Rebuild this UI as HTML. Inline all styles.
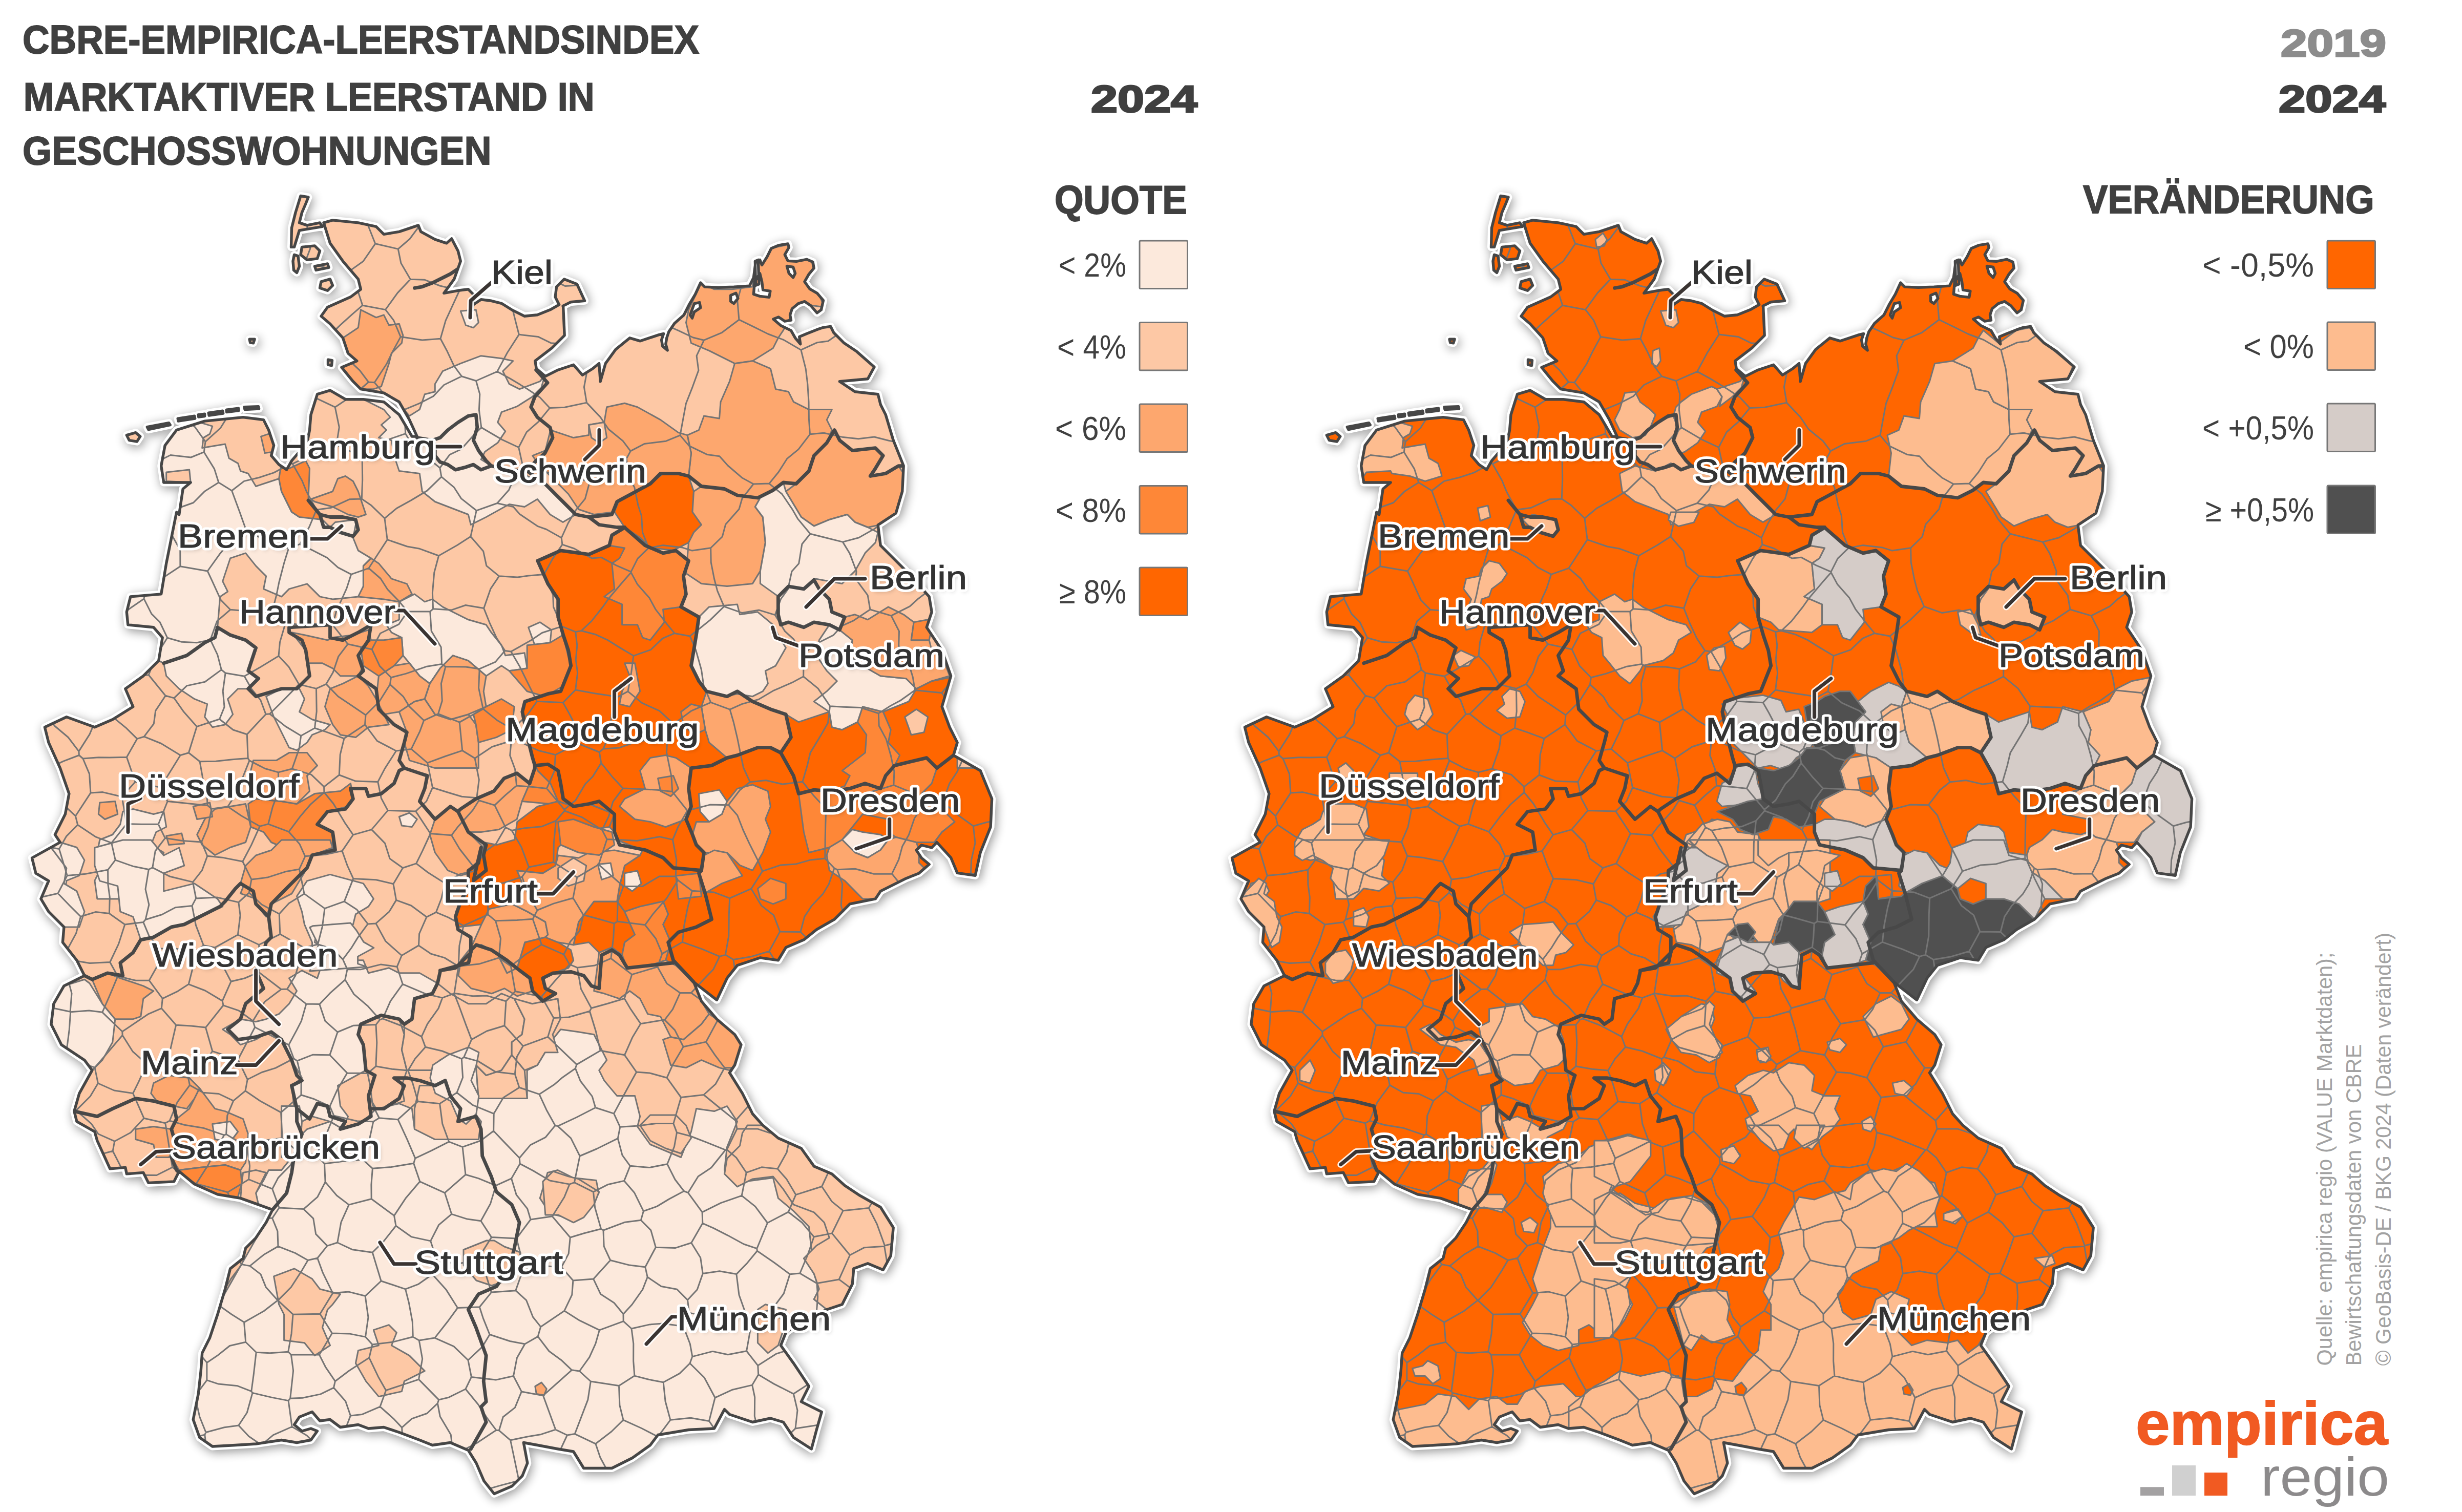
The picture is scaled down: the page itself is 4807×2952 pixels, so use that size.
<!DOCTYPE html>
<html><head><meta charset="utf-8"><style>
html,body{margin:0;padding:0;background:#fff}
body{width:4807px;height:2952px;overflow:hidden;font-family:"Liberation Sans",sans-serif}
svg{display:block}
</style></head><body>
<svg width="4807" height="2952" viewBox="0 0 4807 2952">
<defs>
<path id="de" fill-rule="evenodd" clip-rule="evenodd" d="M632,434.9 L649.5,429.9 L699.4,434.9 L734.4,442.4 L749.4,457.4 L779.4,452.4 L816.8,439.9 L821.8,452.4 L849.3,467.4 L871.8,474.9 L881.8,465.9 L894.3,489.9 L899.3,509.9 L886.8,544.9 L866.8,572.3 L894.3,567.3 L914.3,564.8 L929.3,579.8 L919.3,594.8 L916.8,617.3 L924.3,594.8 L939.2,584.8 L959.2,587.3 L979.2,592.3 L999.2,604.8 L1024.2,617.3 L1049.2,614.8 L1074.1,604.8 L1091.6,594.8 L1084.1,579.8 L1086.6,559.8 L1101.6,544.9 L1126.6,554.8 L1141.6,587.3 L1114.1,589.8 L1099.1,597.3 L1099.7,599.8 L1102.2,654.8 L1077.3,679.7 L1044.8,704.7 L1047.3,719.7 L1064.8,734.7 L1089.7,722.2 L1119.7,712.2 L1137.2,732.2 L1157.2,719.7 L1169.7,709.7 L1172.2,744.7 L1182.2,709.7 L1202.2,682.2 L1229.6,659.8 L1250,665.8 L1286.6,653.6 L1295.7,651.5 L1291.6,663.7 L1293.7,675.9 L1303.2,684 L1299.8,671.8 L1301.8,659.7 L1305.9,647.5 L1317,631.2 L1335.3,615 L1345.5,594.7 L1357.6,574.4 L1367.8,552 L1375.9,560.1 L1402.3,561.2 L1432.8,560.1 L1463.3,558.1 L1471.4,541.9 L1475.4,511.4 L1483.6,507.3 L1487.6,517.5 L1497.8,501.2 L1505.9,485 L1520.1,478.9 L1538.4,475.9 L1540.4,483 L1532.3,497.2 L1538.4,509.4 L1554.7,510.4 L1575,506.3 L1587.1,511.4 L1589.2,523.6 L1579,535.8 L1570.9,550 L1581.1,564.2 L1595.3,572.3 L1607.5,586.5 L1603.4,604.8 L1595.3,610.9 L1583.1,596.7 L1570.9,588.6 L1558.7,592.6 L1546.5,602.8 L1542.5,615 L1544.5,625.1 L1532.3,627.2 L1520.1,619 L1510,623.1 L1524.2,635.3 L1544.5,645.4 L1552.6,659.7 L1562.8,671.8 L1560.7,657.6 L1575,651.5 L1595.3,643.4 L1607.5,639.3 L1621.7,637.3 L1627.8,649.5 L1648.1,669.8 L1672.4,686.1 L1707,716.5 L1694.3,739.7 L1639.3,744.7 L1669.3,764.7 L1714.2,769.7 L1719.2,789.7 L1729.2,809.6 L1744.2,859.6 L1764.2,909.6 L1761.7,959.5 L1749.2,1002 L1714.2,1025 L1719.2,1064.9 L1744.2,1089.9 L1769.2,1114.9 L1814.2,1164.9 L1819.2,1194.8 L1809.2,1224.8 L1839.1,1269.8 L1856.6,1319.7 L1839.1,1379.7 L1854.1,1419.7 L1869.1,1449.6 L1861.6,1474.6 L1914.1,1504.6 L1936.6,1559.6 L1934.1,1614.5 L1914.1,1664.5 L1904.1,1709.4 L1869.1,1704.4 L1856.6,1674.5 L1829.2,1644.5 L1819.2,1655 L1799.2,1650 L1789.2,1660 L1799.2,1675 L1814.2,1687.5 L1794.2,1704.9 L1769.2,1714.9 L1719.2,1739.9 L1709.2,1754.9 L1659.3,1764.9 L1629.3,1794.9 L1594.3,1814.9 L1569.4,1834.8 L1534.4,1849.8 L1519.4,1874.8 L1484.4,1869.8 L1439.5,1884.8 L1419.5,1909.8 L1399.5,1952.3 L1377,1934.8 L1354.5,1917.3 L1369.5,1954.7 L1399.5,1989.7 L1434.5,2019.7 L1447,2039.7 L1434.5,2079.6 L1424.5,2094.6 L1449.5,2134.6 L1469.4,2174.6 L1489.4,2197 L1519.4,2222 L1564.4,2242 L1589.3,2276.9 L1624.3,2291.9 L1649.3,2314.4 L1679.3,2334.4 L1719.2,2356.9 L1744.2,2396.8 L1739.2,2451.8 L1724.2,2479.3 L1694.3,2466.8 L1666.8,2476.8 L1664.3,2506.8 L1644.3,2546.7 L1614.3,2556.7 L1569.4,2576.7 L1534.4,2601.7 L1524.4,2626.7 L1549.4,2661.6 L1579.4,2706.6 L1564.4,2736.6 L1579.4,2744.1 L1604.3,2756.6 L1594.3,2791.5 L1584.3,2829 L1549.4,2806.5 L1529.4,2776.5 L1504.4,2769 L1469.4,2776.5 L1424.5,2761.5 L1414.5,2751.6 L1394.5,2789 L1344.5,2791.5 L1284.6,2801.5 L1269.6,2821.5 L1234.6,2846.5 L1194.7,2866.5 L1139.7,2866.5 L1119.7,2834 L1089.7,2829 L1049.8,2821.5 L1022.3,2816.5 L1029.8,2856.5 L1019.8,2881.5 L999.8,2901.4 L964.8,2916.4 L944.9,2891.4 L929.9,2856.5 L914.3,2831.5 L879.3,2816.5 L844.3,2821.5 L819.3,2811.5 L779.4,2796.5 L749.4,2786.5 L719.4,2789 L699.4,2781.5 L664.5,2786.5 L644.5,2771.5 L624.5,2774 L609.5,2756.6 L584.5,2766.5 L574.5,2781.5 L589.5,2794 L607,2789 L619.5,2794 L607,2811.5 L579.5,2816.5 L549.6,2811.5 L499.6,2819 L459.6,2821.5 L414.7,2824 L389.7,2806.5 L377.2,2771.5 L387.2,2721.6 L392.2,2676.6 L394.7,2641.6 L409.7,2611.7 L424.7,2566.7 L439.6,2516.7 L449.6,2476.8 L474.6,2456.8 L479.6,2436.8 L499.6,2416.8 L519.6,2386.8 L532.1,2361.9 L504.6,2351.9 L469.6,2339.4 L424.7,2331.9 L379.7,2311.9 L349.7,2286.9 L339.7,2306.9 L289.8,2309.4 L279.8,2289.4 L247.3,2291.9 L244.8,2279.4 L214.8,2281.9 L189.8,2227 L184.9,2209.5 L149.9,2189.6 L144.9,2169.6 L154.9,2134.6 L179.9,2089.6 L164.9,2069.7 L119.9,2039.7 L99.9,1999.7 L104.9,1959.7 L124.9,1924.8 L164.9,1904.8 L149.9,1874.8 L122.4,1839.8 L124.9,1809.9 L94.9,1779.9 L79.9,1754.9 L94.9,1719.9 L69.9,1704.9 L62.5,1675 L117.4,1644.5 L107.4,1629.5 L127.4,1589.5 L134.9,1549.6 L117.4,1499.6 L94.9,1449.6 L87.4,1419.7 L129.9,1399.7 L184.9,1419.7 L219.8,1404.7 L259.8,1379.7 L244.8,1344.7 L279.8,1319.7 L309.8,1289.8 L317.2,1244.8 L299.8,1224.8 L249.8,1219.8 L247.3,1194.8 L254.8,1164.9 L314.7,1159.9 L324.7,1099.9 L344.7,1000 L349.7,1004.5 L357.2,954.5 L372.2,942 L319.7,942 L314.7,909.6 L322.2,869.6 L344.7,839.6 L399.7,822.1 L474.6,814.6 L514.6,819.6 L524.6,839.6 L534.6,869.6 L529.6,889.6 L544.6,907.1 L559.6,917.1 L569.5,899.6 L599.5,864.6 L604.5,839.6 L607,809.6 L619.5,769.7 L644.5,762.2 L674.5,779.7 L709.4,779.7 L749.4,784.7 L779.4,809.6 L804.4,852.1 L814.3,852.1 L799.4,819.6 L779.4,784.7 L749.4,767.2 L704.4,759.7 L689.4,744.7 L667,717.2 L696.9,704.7 L679.5,689.7 L669.5,659.8 L644.5,632.3 L627,617.3 L639.5,599.8 L684.5,579.8 L704.4,564.8 L699.4,544.9 L669.5,509.9 L644.5,474.9Z M587,382.5 L602,385 L597,397.5 L589.5,415 L584.5,434.9 L599.5,439.9 L624.5,434.9 L629.5,442.4 L599.5,447.4 L584.5,449.9 L574.5,482.4 L568.5,482.4 L569.5,444.9 L577,415Z M589.5,482.4 L614.5,479.9 L624.5,489.9 L619.5,504.9 L599.5,507.4 L587,497.4Z M574.5,497.4 L582,499.9 L584.5,519.9 L579.5,532.4 L573.5,527.4 L572,509.9Z M627,549.8 L644.5,544.9 L649.5,557.3 L639.5,567.3 L624.5,562.3Z M614.5,519.9 L639.5,514.9 L642,522.4 L617,527.4Z M487.1,662.3 L497.1,662.3 L494.6,669.8 L488.6,668.8Z M640.5,702.2 L648.5,703.7 L647.5,713.7 L640.5,712.2Z M247.3,849.6 L264.8,844.6 L273.8,852.1 L267.3,862.1 L252.3,859.6Z M287.3,833.6 L329.7,825.6 L332.2,829.6 L289.8,838.6Z M347.2,817.1 L379.7,812.1 L380.7,817.1 L348.2,822.1Z M387.2,809.6 L399.7,808.1 L399.7,812.6 L387.7,814.1Z M407.2,806.1 L434.7,802.1 L435.7,807.1 L408.2,811.1Z M442.1,800.1 L465.6,797.2 L466.1,801.6 L442.6,804.6Z M477.1,794.7 L504.6,793.7 L505.6,798.1 L478.1,799.6Z M1474.4,509.9 L1480.4,507.4 L1481.9,554.8 L1475.4,557.3Z M1347.5,615 L1355.6,592.6 L1365.8,590.6 L1367.8,600.8 L1355.6,608.9 L1351.5,621.1Z M1426.7,576.4 L1436.9,572.3 L1440.9,582.5 L1432.8,592.6 L1426.7,588.6Z M1473.4,550 L1483.6,533.7 L1487.6,550 L1489.7,566.2 L1503.9,568.3 L1501.8,580.4 L1483.6,578.4 L1471.4,574.4Z M1536.4,519.5 L1548.6,521.5 L1552.6,533.7 L1548.6,541.9 L1540.4,533.7Z"/>
<path id="vor" d="M604.6,417.4 L641.2,402.5 L668.3,390.9 M604.6,417.4 L599.4,446.7 L605.8,485.1 L596.7,509.2 M1478.4,2125.2 L1463,2157.2 L1436.2,2187.8 M1439,2204 L1436.2,2187.8 M1439,2204 L1478.8,2203.9 L1502.7,2211.8 L1543.4,2214.1 M1549.7,2194.9 L1544.3,2213.4 M1543.4,2214.1 L1544.3,2213.4 M1636.3,2262.1 L1628.1,2265.7 M1544.3,2213.4 L1578.6,2227.2 L1596.8,2246.5 L1628.1,2265.7 M982.4,405.3 L947.3,411 L924.2,429.9 L892.7,439 M892.7,439 L853.1,414.7 M294.7,744.1 L315.6,772.5 L334.6,785.4 L358.6,814.9 L381,834.1 L401,862.4 M401,862.4 L430.6,835.5 L440.9,818.9 L471.4,796.4 L494.3,772.6 M571.1,905.6 L568.8,904.7 M571.1,905.6 L606,888.7 L630,882 L656.9,868.5 M568.8,904.7 L554,877.9 L548.4,845.2 L533,809.6 L525.4,776.8 M656.9,868.5 L662.3,834.1 L654.2,794.9 M654.2,794.9 L620.4,778.8 L579.4,779.1 L548.9,764.5 M706.3,973.9 L682.7,974.7 L645.7,991.6 L617.8,995.2 M706.3,973.9 L707.7,936.9 L707.2,899 M707.2,899 L685,881.5 L656.9,868.5 M617.8,995.2 L598.7,960.2 L589.7,938.3 L571.1,905.6 M719.6,746 L693.2,768.7 L654.2,794.9 M719.6,746 L702.4,723.1 L686.5,708.1 L655.8,677.2 L640.5,658.1 M640.5,658.1 L605.1,655.6 M1162.6,2162.5 L1198.6,2174.1 M1162.6,2162.5 L1125.6,2181.5 L1089,2198.7 M1089,2198.7 L1114.6,2222.2 L1132.1,2257 M1132.1,2257 L1165,2243 L1206.3,2222.7 M1198.6,2174.1 L1210.7,2200.3 M1206.3,2222.7 L1210.7,2200.3 M1321.5,2211.1 L1314.9,2193.6 M1321.5,2211.1 L1316.5,2238.7 L1302.8,2272.8 M1230.3,2276.3 L1267.4,2279.6 L1302.8,2272.8 M1230.3,2276.3 L1215,2255.3 L1206.3,2222.7 M1314.9,2193.6 L1280.6,2193.4 L1246.7,2198.1 L1210.7,2200.3 M1084,2197.4 L1067,2166.9 L1052.9,2136.4 M1084,2197.4 L1089,2198.7 M1162.6,2162.5 L1156.3,2140.7 L1133.2,2110.5 L1123.4,2085.9 M1052.9,2136.4 L1081.7,2117.8 L1097.3,2104.3 L1123.4,2085.9 M666.3,2810.8 L686.4,2827.7 L720,2834.2 L742.3,2855.4 M666.3,2810.8 L684.4,2763.9 M786.3,2819.8 L757.7,2841.5 L742.3,2855.4 M786.3,2819.8 L784.7,2787.1 M684.4,2763.9 L706.6,2761.6 L742.1,2746.3 M784.7,2787.1 L768.4,2769.8 L742.1,2746.3 M403.7,2833 L393.4,2858.4 L375,2876.7 L358,2905.4 M403.7,2833 L440,2859 L468.8,2881.1 M114,2264.4 L119,2233.9 L134.4,2202 L136.3,2170 M99.4,2153.2 L136.3,2170 M380.7,2725.9 L389.8,2766.2 L402,2796.5 M380.7,2725.9 L330.5,2721.1 M402,2796.5 L399.8,2801.2 M399.8,2801.2 L357.7,2810.4 L328,2810 L294.1,2815 M1595,2505.6 L1638.2,2497.9 M1595,2505.6 L1561.8,2486 M1561.8,2486 L1577,2450 L1589.2,2414.7 M1638.2,2497.9 L1659.4,2450.5 M1659.4,2450.5 L1624.4,2407.9 M1624.4,2407.9 L1589.2,2414.7 M1321.5,2211.1 L1347.7,2218 L1379.1,2230.2 L1416.4,2245.2 M1302.8,2272.8 L1318.1,2303 L1335.4,2325.5 M1335.4,2325.5 L1343.4,2328.7 M1343.4,2328.7 L1363.2,2296.8 L1388.7,2279.8 L1416.4,2245.2 M1494.4,2805 L1534.5,2807.3 M1494.4,2805 L1479.8,2791.5 M1553,2788.9 L1557,2753.6 L1549.4,2721.3 M1553,2788.9 L1534.5,2807.3 M1480.7,2683.8 L1511.1,2701.9 L1549.4,2721.3 M1480.7,2683.8 L1468.7,2704.1 M1468.7,2704.1 L1473.7,2727.9 L1473.3,2764.9 L1479.8,2791.5 M1616.2,2688 L1626.9,2712.4 L1629,2755.2 L1635.5,2780.5 M1553,2788.9 L1595,2782.5 L1635.5,2780.5 M1549.4,2721.3 L1575.1,2704.5 L1609.4,2682.4 M585.5,1062.4 L604.2,1028 L617.8,995.2 M585.5,1062.4 L563.5,1070.5 M452.6,958 L468.1,1000.1 L479.5,1032.1 M452.6,958 L476.6,939.4 L506.2,932.2 L534.7,922.9 L568.8,904.7 M563.5,1070.5 L539.3,1062.9 L511.1,1051.8 L479.5,1032.1 M706.3,973.9 L725,986.8 L751,1012 M585.5,1062.4 L609.8,1074.2 L638.6,1088.8 L659.8,1107.9 L685.7,1121.3 M685.7,1121.3 L720,1109.3 M720,1109.3 L739.8,1078.8 L756.2,1053.6 M751,1012 L756.2,1053.6 M731.2,746.8 L755.2,775.6 L789.2,799.9 M731.2,746.8 L754.7,710.8 L766.7,686.1 L782.2,657.6 M860,661.2 L824.4,663.9 L782.2,657.6 M860,661.2 L872.3,684.2 L886.5,714.4 L901.4,734.7 M901.4,734.7 L866.9,751.5 L846,773.6 L818.8,787.6 L789.2,799.9 M731.2,746.8 L719.6,746 M707.2,899 L731.5,882 L760.5,857.3 L791.7,846.7 M791.7,846.7 L789.2,799.9 M707.9,596.2 L699.3,570 L680.1,530.9 M707.9,596.2 L752.6,604.6 M752.6,604.6 L776.2,571.9 L801.3,545.2 M680.1,530.9 L709,510.3 L732.7,475.8 M801.3,545.2 L782.9,513.8 L777.3,486.1 M732.7,475.8 L777.3,486.1 M601.3,514.7 L636.8,522.8 L680.1,530.9 M640.5,658.1 L663.8,635.1 L687.4,613.8 L707.9,596.2 M782.2,657.6 L768.7,625.5 L752.6,604.6 M860,661.2 L870.1,625.9 L884,595.7 L897.2,567 M897.2,567 L859,558 L828.8,546.2 L801.3,545.2 M695.6,401.5 L716.7,435.3 L732.7,475.8 M917.4,555.1 L905.8,527.6 L906.3,495.3 L898.6,473.4 L892.7,439 M917.4,555.1 L897.2,567 M853.1,414.7 L822,436.9 L800,466.5 L777.3,486.1 M77.2,1857.9 L66.6,1826.7 L69.7,1783.3 L62.3,1755.7 M62.3,1755.7 L38.3,1745.7 M129.7,2053.8 L84.2,2083 M129.7,2053.8 L135.2,2010.7 L137.7,1975.7 M66.4,1967.6 L102.8,1968 L137.1,1975.2 M137.7,1975.7 L137.1,1975.2 M733.9,1802.9 L760,1779.8 L773.6,1757.4 M733.9,1802.9 L752.9,1837.7 L784.3,1865.5 M773.6,1757.4 L802.8,1768 L832.9,1790.3 M832.9,1790.3 L818.6,1823 L817.5,1845.9 M784.3,1865.5 L817.5,1845.9 M1121.4,2308.6 L1158.5,2327.2 M1121.4,2308.6 L1132.1,2257 M1230.3,2276.3 L1218.7,2305.4 M1158.5,2327.2 L1186.4,2312.8 L1218.7,2305.4 M1335.4,2325.5 L1305.8,2341.4 L1282.6,2355.4 L1256.4,2364.6 M1218.7,2305.4 L1238.5,2328.4 L1256.4,2364.6 M1414.7,2084.7 L1395.8,2059.6 L1378.5,2034.1 M1414.7,2084.7 L1397,2116.7 L1374,2137.5 M1374,2137.5 L1329.7,2142.5 M1334.2,2043.7 L1378.5,2034.1 M1334.2,2043.7 L1313.3,2079.2 L1302.1,2104.2 M1302.1,2104.2 L1329.7,2142.5 M1478.4,2125.2 L1462.9,2084.4 M1436.2,2187.8 L1401.5,2160 L1374,2137.5 M1462.9,2084.4 L1414.7,2084.7 M1439,2204 L1419.2,2244.5 M1314.9,2193.6 L1329.7,2142.5 M1416.4,2245.2 L1419.2,2244.5 M1242.7,2093.1 L1231.2,2113.8 L1215.2,2143.3 L1198.6,2174.1 M1242.7,2093.1 L1268.6,2095 L1302.1,2104.2 M1488.6,2044.1 L1471.3,2017.1 L1450.5,2007.6 L1422.1,1981.4 M1422.1,1981.4 L1452.9,1941.3 M1462.9,2084.4 L1488.6,2044.1 M1405,1985 L1378.5,2034.1 M1405,1985 L1422.1,1981.4 M1416.4,1864.1 L1431.9,1873.5 M1416.4,1864.1 L1405,1867.4 M1405,1867.4 L1392.7,1892.8 L1370.7,1915.5 L1349.5,1938.5 M1431.9,1873.5 L1437.8,1913.1 L1452.9,1941.3 M1405,1985 L1373.5,1955.9 L1349.5,1938.5 M832.9,1790.3 L851.4,1781.1 M817.5,1845.9 L841.5,1862.2 L867.9,1869.9 L895.1,1886.6 M895.1,1886.6 L896.9,1846.2 L905,1807.2 M851.4,1781.1 L875.3,1791.1 L905,1807.2 M728.9,2189.8 L719.5,2233.2 L709,2264.3 M728.9,2189.8 L740.4,2182.7 M740.4,2182.7 L777,2185.7 M807.7,2271.3 L810.7,2261.4 M807.7,2271.3 L763.7,2278.6 L727.4,2281.3 M727.4,2281.3 L709,2264.3 M777,2185.7 L795,2224.7 L810.7,2261.4 M728.9,2189.8 L697,2188.8 L652,2178.3 M740.4,2182.7 L727.5,2157.2 L722.4,2118.5 L717.8,2095.5 M644,2159.9 L652,2178.3 M644,2159.9 L658.3,2128.1 L677.8,2094.9 M717.8,2095.5 L677.8,2094.9 M903.1,2239.4 L909,2293.3 M903.1,2239.4 L938.6,2227 L963.7,2208 M909,2293.3 L934.1,2300.6 L968.2,2314.6 M963.7,2208 L984,2229.4 L1014.2,2260.7 M1014.2,2260.7 L1015.2,2272.1 M1015.2,2272.1 L998.5,2300.9 M968.2,2314.6 L998.5,2300.9 M868.4,2328.8 L909,2293.3 M868.4,2328.8 L819.8,2306.8 M819.8,2306.8 L807.7,2271.3 M810.7,2261.4 L842,2246.7 L876.6,2229.2 M876.6,2229.2 L903.1,2239.4 M1084,2197.4 L1065.3,2220.3 L1035.7,2235.4 L1014.2,2260.7 M1052.9,2136.4 L1013.9,2123.2 M964.2,2174.3 L982.7,2143.1 L1013.9,2123.2 M964.2,2174.3 L963.7,2208 M1121.4,2308.6 L1112,2312.1 M1112,2312.1 L1073.5,2305 L1040.9,2285.6 L1015.2,2272.1 M1112,2312.1 L1101.8,2337.3 L1078.3,2374.7 M1078.3,2374.7 L1036,2381 M1036,2381 L1029.7,2359.9 L1008.2,2332.7 L998.5,2300.9 M868.4,2328.8 L881.7,2370.4 M968.2,2314.6 L957.6,2349.9 L938.9,2383.7 M938.9,2383.7 L912.3,2380.1 L881.7,2370.4 M769.6,2373.4 L725.2,2340.7 M769.6,2373.4 L773,2393.3 M773,2393.3 L748.6,2424.1 L727.2,2445.3 M681.2,2352.1 L725.2,2340.7 M681.2,2352.1 L666,2386.1 L658.8,2426 M658.8,2426 L688.3,2439.8 L727.2,2445.3 M819.8,2306.8 L792.6,2338.7 L769.6,2373.4 M727.4,2281.3 L724.9,2313 L725.2,2340.7 M881.7,2370.4 L856.6,2391.7 L840.7,2422.9 M840.7,2422.9 L803.6,2414.9 L773,2393.3 M938.9,2383.7 L959.6,2415.6 M854.2,2464.5 L840.7,2422.9 M854.2,2464.5 L899.7,2466.2 L931.6,2460.2 M931.6,2460.2 L959.6,2415.6 M1036,2381 L1008.5,2417.9 M1008.5,2417.9 L959.6,2415.6 M1002.5,2686.5 L1018.3,2716.9 M1002.5,2686.5 L1009.4,2650.9 L1024.8,2624 M1116.4,2674.8 L1095.6,2655.2 L1072,2638 L1050.2,2609.4 M1116.4,2674.8 L1089.2,2699.1 L1060.5,2724.7 M1024.8,2624 L1050.2,2609.4 M1060.5,2724.7 L1018.3,2716.9 M968.8,2792.2 L950.9,2768.4 L933.4,2741.8 L909,2712 M968.8,2792.2 L930,2818 L899.4,2833.6 M883.8,2830.5 L899.4,2833.6 M883.8,2830.5 L880.2,2800.9 L859.2,2765.4 L854.4,2739.8 M909,2712 L876.3,2728.2 L856.7,2732.9 M854.4,2739.8 L856.7,2732.9 M920.4,2688.4 L909,2712 M920.4,2688.4 L968.1,2694.1 L1002.5,2686.5 M974.4,2792.8 L982.2,2766.5 L1005.5,2748.1 L1018.3,2716.9 M974.4,2792.8 L968.8,2792.2 M829.4,2920.6 L830.6,2878.3 L843.8,2849.1 M918.9,2936.4 L932.6,2913 M932.6,2913 L915.5,2885.3 L914.2,2854.4 L899.4,2833.6 M843.8,2849.1 L883.8,2830.5 M786.3,2819.8 L820.3,2827.7 L843.8,2849.1 M784.7,2787.1 L804,2769.9 L833.8,2759.5 L854.4,2739.8 M753.6,2714.5 L742.1,2746.3 M753.6,2714.5 L781.1,2705.3 L817.6,2693.1 M817.6,2693.1 L856.7,2732.9 M666.3,2810.8 L637.9,2826.9 M129.7,2053.8 L160.2,2076 L185,2084.2 M148.7,2167.9 L176.2,2140.5 L191.4,2115 M148.7,2167.9 L136.3,2170 M185,2084.2 L191.4,2115 M139.4,2278.6 L160.2,2266.3 L188.7,2255.6 L220.2,2247.3 M148.7,2167.9 L178.5,2194.2 L192,2214 L223.7,2228.2 M220.2,2247.3 L223.7,2228.2 M240.9,2345.7 L250.2,2309.8 M220.2,2247.3 L238.2,2282.5 L250.2,2309.8 M360.2,2369.5 L368.8,2344 L381.3,2311.7 M381.3,2311.7 L336.6,2279 M250.2,2309.8 L284.6,2294.2 L305.8,2294.5 L336.6,2279 M399.8,2801.2 L403.7,2833 M1534.5,2807.3 L1542.1,2847.6 L1561.9,2874 M1468.7,2704.1 L1430.2,2713.2 L1396.1,2728.8 M1479.8,2791.5 L1453.5,2793.5 L1425.8,2790.2 L1395.2,2789.9 M1396.1,2728.8 L1384.5,2774.4 M1395.2,2789.9 L1384.5,2774.4 M1347,2661.8 L1326.8,2681.6 L1295.2,2698.8 M1347,2661.8 L1375.1,2689.5 L1396.1,2728.8 M1295.2,2698.8 L1299.1,2736 L1308.9,2772.3 M1384.5,2774.4 L1348.3,2768.2 L1308.9,2772.3 M1387.6,2843.9 L1395.2,2789.9 M1682.8,2537.4 L1667.5,2519.8 L1638.2,2497.9 M1659.4,2450.5 L1687.6,2435.7 L1726.7,2433.3 M1736.8,2510 L1732.6,2469.1 L1726.7,2433.3 M1431.9,1873.5 L1465,1868.1 L1501.9,1857.3 M1501.9,1857.3 L1526.7,1897.7 L1537.9,1927.6 M1616.6,389 L1596.2,405.1 L1574.5,424.8 L1542.1,442.2 L1526.9,458.5 L1501.8,475.5 L1472.6,497 L1449.7,519 M1332.1,397 L1351.6,424.2 L1368.4,433.3 L1389.4,464.3 L1408,474.6 L1431.2,492.8 L1449.7,519 M1668.9,637.4 L1636.6,652.3 L1616.9,666.1 L1595.7,668.7 L1563.9,683.2 M1563.9,683.2 L1530,663.5 L1499.5,652 L1473.7,639.2 L1442.9,624.2 M1449.7,519 L1447,561.1 L1439.8,586.8 L1442.9,624.2 M1259.4,1805.8 L1275.8,1783.4 L1301.7,1753.7 L1323.7,1718.5 M1259.4,1805.8 L1280.5,1832.5 L1292.9,1862.1 M1332.4,1839.3 L1292.9,1862.1 M1332.4,1839.3 L1335.9,1806.4 L1342.5,1772.6 L1351.3,1739.2 M1351.3,1739.2 L1323.7,1718.5 M1416.4,1864.1 L1422.8,1827.7 L1423.3,1785.5 L1424.7,1753.6 M1405,1867.4 L1370.6,1852.9 L1332.4,1839.3 M1351.3,1739.2 L1393.5,1741.9 L1424.7,1753.6 M1912.7,1420.6 L1881.2,1394.4 L1859.1,1381 L1838.6,1352.7 M1838.6,1352.7 L1859.5,1328.1 L1868.3,1297.4 L1887,1273.5 L1899.6,1248.6 L1912.3,1228.3 M1857.9,1128 L1824.7,1144.8 L1793.1,1168.7 L1776.3,1183.9 L1740.1,1202.1 M1786.4,1347.5 L1782.2,1321.8 L1771,1284.8 L1754.7,1260.7 L1755.5,1232.5 L1740.1,1202.1 M1786.4,1347.5 L1838.6,1352.7 M1543.4,2214.1 L1536,2250.1 L1518.2,2282.1 M1628.1,2265.7 L1604.6,2316.5 M1604.6,2316.5 L1553.8,2332.6 M1518.2,2282.1 L1535.7,2302.1 L1553.8,2332.6 M1419.2,2244.5 L1437.6,2260.1 L1457.2,2289.4 M1518.2,2282.1 L1487,2278.8 L1457.2,2289.4 M1646.1,2363.7 L1624.4,2407.9 M1646.1,2363.7 L1624.2,2345.9 L1604.6,2316.5 M1589.2,2414.7 L1565.9,2387 L1539.3,2366.2 M1553.8,2332.6 L1539.3,2366.2 M1646.4,2600.6 L1624.3,2591.9 L1593.6,2569.7 M1606.3,2669.6 L1574.2,2644.3 L1552.5,2631.6 M1593.6,2569.7 L1555.8,2592.4 M1555.8,2592.4 L1552.5,2631.6 M1595,2505.6 L1596.7,2532 L1593.6,2569.7 M1480.7,2683.8 L1479.8,2666.1 M1479.8,2666.1 L1515.8,2643.1 L1552.5,2631.6 M452.6,958 L426.9,942 M401,862.4 L398.3,882.7 M426.9,942 L418.5,915.4 L398.3,882.7 M92.3,1361.2 L88.6,1388.1 M88.6,1388.1 L62.2,1411.4 L38.2,1440 M181.2,1230.4 L199.4,1255 L214.1,1290.2 L240.8,1322.2 M240.8,1322.2 L221,1338.1 L203.3,1365.7 M88.6,1388.1 L106.4,1417 L133.1,1439.5 L153.9,1466.9 M203.3,1365.7 L205.3,1380.2 M205.3,1380.2 L184.7,1410.6 L175,1433.6 L153.9,1466.9 M532.5,1189.8 L487.2,1193.5 L449.7,1190.3 M532.5,1189.8 L539.7,1162.2 L544.8,1137 L554.6,1099.4 L563.5,1070.5 M479.5,1032.1 L452.9,1053 L429.8,1080.7 L405.2,1115 M449.7,1190.3 L431.3,1171.5 L413.7,1133.1 L405.2,1115 M290.2,1317.8 L305.3,1279.5 L326.7,1245.2 M290.2,1317.8 L240.8,1322.2 M181.2,1230.4 L205,1216.2 L226.3,1206.5 L251.5,1189.4 L281.1,1169.1 M326.7,1245.2 L312.1,1214.5 L295.8,1198.4 L281.1,1169.1 M264,1526.5 L312.9,1537.4 M264,1526.5 L247.4,1478.2 M312.9,1537.4 L330.4,1509.8 L352.2,1474.5 M352.2,1474.5 L314.5,1451.5 L281.3,1438.2 M247.4,1478.2 L267.7,1442.4 M281.3,1438.2 L267.7,1442.4 M290.2,1317.8 L323.1,1358.3 M323.1,1358.3 L303.7,1387.6 L300.3,1413 L281.3,1438.2 M205.3,1380.2 L220.8,1400.4 L245.8,1420.8 L267.7,1442.4 M284,1795.5 L290.9,1766.4 L284,1736.1 L290.3,1697.5 M284,1795.5 L316.4,1785.5 L342.4,1771.7 L375,1768.4 M375,1768.4 L382.7,1753.9 M297.8,1693.9 L290.3,1697.5 M297.8,1693.9 L331.9,1711.3 L376.5,1722.1 M376.5,1722.1 L382.7,1753.9 M434.2,1954.1 L400.5,1934 L368.3,1921.6 M434.2,1954.1 L451,1916.3 M377.3,1860.1 L375.4,1893.3 L368.3,1921.6 M377.3,1860.1 L397.4,1845.8 M397.4,1845.8 L419.8,1849.9 M451,1916.3 L436.6,1888.6 L419.8,1849.9 M532.5,1189.8 L557.3,1216.8 M685.7,1121.3 L676.8,1148.9 L656.4,1194 L649.6,1220.1 M649.6,1220.1 L625.2,1217.1 L591.2,1220 L557.3,1216.8 M901.4,734.7 L929.5,743.5 M929.5,743.5 L936.8,769.4 L935.4,800.5 L939.8,834.6 M791.7,846.7 L808.9,875.2 L839.2,897.3 L858.9,913.5 M939.8,834.6 L925,849.5 L900.5,877 L878.1,887.6 L858.9,913.5 M751,1012 L774.5,992.4 L802.5,976.9 L833.8,958.1 L861.9,930.9 M861.9,930.9 L858.9,913.5 M917.4,555.1 L958.8,558.7 L986.5,568.5 M929.5,743.5 L970.8,725.4 M970.8,725.4 L990.4,688.8 L1013.3,653.1 M1013.3,653.1 L1007.4,630.3 L998.7,595.3 L986.5,568.5 M986.5,568.5 L1021.6,536.8 M1021.6,536.8 L1044.1,538.1 L1078.1,546.1 L1103.7,558.6 L1145.4,555.9 L1162.5,567.5 L1198.4,571 M970.8,725.4 L996,739.1 L1028.5,758.7 L1054.3,776 L1073.3,796.6 M939.8,834.6 L980.3,858.4 L1012.7,873.5 M1073.3,796.6 L1051.9,822.9 L1028.2,843.6 L1012.7,873.5 M327.1,1564.5 L309.2,1609.3 M327.1,1564.5 L312.9,1537.4 M309.2,1609.3 L276,1609.2 L247.1,1608.7 M264,1526.5 L238.1,1555.5 M238.1,1555.5 L247.1,1608.7 M91.6,1501.6 L68.7,1550.6 M91.6,1501.6 L123.3,1486.3 L154.4,1474.5 M70.3,1556.5 L94.7,1570 L127.1,1574.2 L147.4,1593.2 M161.9,1481 L154.4,1474.5 M161.9,1481 L174.5,1510.9 L176.9,1548.1 M176.9,1548.1 L147.4,1593.2 M38.2,1440 L59.7,1466.8 L91.6,1501.6 M153.9,1466.9 L154.4,1474.5 M247.4,1478.2 L213.9,1479.1 L192.3,1478.7 L161.9,1481 M238.1,1555.5 L200.6,1546.6 L176.9,1548.1 M131.2,1709.4 L115.5,1657.5 M131.2,1709.4 L166.8,1706.2 L210.6,1698.3 M115.5,1657.5 L129.7,1632.6 L151.7,1610.4 M151.7,1610.4 L186.2,1633.6 L217.7,1645.6 M217.7,1645.6 L225.2,1679.2 M210.6,1698.3 L225.2,1679.2 M113.1,1744.3 L62.3,1755.7 M113.1,1744.3 L131.2,1709.4 M35.4,1647.8 L69.4,1649.1 L115.5,1657.5 M147.4,1593.2 L151.7,1610.4 M247.1,1608.7 L217.7,1645.6 M322.4,1636.3 L309.2,1609.3 M322.4,1636.3 L303.2,1661.5 L297.8,1693.9 M290.3,1697.5 L259.5,1691.2 L225.2,1679.2 M137.7,1975.7 L173.9,1972.9 L199.8,1976.3 M185,2084.2 L207.3,2058.4 L239.1,2021.2 M239.1,2021.2 L238.8,2014 M238.8,2014 L199.8,1976.3 M113.1,1744.3 L135.7,1767.7 L157.5,1789.5 M210.6,1698.3 L210.9,1726.8 L214.3,1751.8 L213.4,1783.5 M213.4,1783.5 L187.1,1780.4 L157.5,1789.5 M77.2,1857.9 L127.2,1861.7 M157.5,1789.5 L148.6,1822.1 L127.2,1861.7 M137.1,1975.2 L140,1939.3 L133.2,1913.7 L139.7,1874.5 M127.2,1861.7 L139.7,1874.5 M401.5,2006.1 L414.8,2052.4 M401.5,2006.1 L436,1962.8 M436,1962.8 L465.7,1972.8 L493.8,1993.2 M464.6,2068.7 L414.8,2052.4 M464.6,2068.7 L484,2031.7 L497.7,2005.5 M497.7,2005.5 L493.8,1993.2 M434.2,1954.1 L436,1962.8 M368.3,1921.6 L345.9,1935.9 L317.3,1949.6 M343.7,2001.2 L373.5,2002.9 L401.5,2006.1 M343.7,2001.2 L315.4,1968.7 M315.4,1968.7 L317.3,1949.6 M483.2,2107.5 L511.3,2093.5 L538,2085.1 L573.6,2066.7 M483.2,2107.5 L464.6,2068.7 M497.7,2005.5 L531.2,2022.7 L563.7,2040.1 M563.7,2040.1 L573.6,2066.7 M479,2129.8 L483.2,2107.5 M479,2129.8 L507.6,2149.3 L548.6,2171.9 M588,2137.8 L548.6,2171.9 M588,2137.8 L588.2,2105 L580.3,2071.2 M573.6,2066.7 L580.3,2071.2 M644,2159.9 L611.8,2145.2 L588,2137.8 M677.8,2094.9 L643.9,2059.8 M580.3,2071.2 L611,2059.2 L643.9,2059.8 M563.7,2040.1 L579.2,2011.4 L588.4,1993.4 L597.9,1960.1 M643.9,2059.8 L659.1,2015 M659.1,2015 L634.8,1993.3 L623.8,1960.6 M623.8,1960.6 L597.9,1960.1 M733.9,1802.9 L718.2,1803.9 M784.3,1865.5 L775.2,1887.4 M718.2,1803.9 L698.5,1830.6 L686.7,1849.8 L669.4,1873.1 M669.4,1873.1 L678.1,1892.4 M775.2,1887.4 L743.8,1882.9 L704.4,1892.8 L678.1,1892.4 M967.6,1797.8 L952.8,1785.6 M967.6,1797.8 L977.5,1832.2 L974.1,1870 M895.1,1886.6 L895.1,1886.6 M952.8,1785.6 L905,1807.2 M895.1,1886.6 L935.3,1882.1 L974.1,1870 M967.6,1797.8 L1009.1,1796.5 L1040.2,1794.3 M1040.2,1794.3 L1057.5,1844.3 M1057.5,1844.3 L1027.1,1862.7 L997.4,1886.3 M974.1,1870 L997.4,1886.3 M1501.9,1857.3 L1522.8,1818.9 M1424.7,1753.6 L1466.8,1735.2 M1522.8,1818.9 L1510.7,1786.9 L1486.7,1768.1 L1466.8,1735.2 M1057.5,1844.3 L1100.8,1863.5 M1100.8,1863.5 L1112,1882.9 M1112,1882.9 L1083.1,1915.6 L1057.3,1945.7 M997.4,1886.3 L1006,1935.5 M1057.3,1945.7 L1006,1935.5 M895.1,1886.6 L887,1939.3 M887,1939.3 L923.2,1944.7 L950.9,1944.1 L988,1954.7 M988,1954.7 L1006,1935.5 M1349.5,1938.5 L1327.9,1938.5 M1334.2,2043.7 L1317.6,2011.1 L1297.8,1991.1 M1297.8,1991.1 L1313.4,1970.6 L1327.9,1938.5 M1242.7,2093.1 L1219.5,2059.8 M1219.5,2059.8 L1235,2024.9 L1250.8,1998.7 M1297.8,1991.1 L1250.8,1998.7 M1292.9,1862.1 L1283.8,1887.8 M1327.9,1938.5 L1301.9,1920.1 L1283.8,1887.8 M1127.1,1889.2 L1161.1,1885.1 L1192.9,1871.2 M1127.1,1889.2 L1134.4,1930.9 L1154.6,1968.3 M1154.6,1968.3 L1186.8,1959.2 L1219.2,1949.5 M1192.9,1871.2 L1233.8,1902.6 M1233.8,1902.6 L1219.2,1949.5 M1250.8,1998.7 L1230.5,1968.8 L1219.2,1949.5 M1283.8,1887.8 L1233.8,1902.6 M1125.9,2078.4 L1092.5,2046.3 L1069.7,2024.4 M1125.9,2078.4 L1172.2,2051.2 M1172.2,2051.2 L1163,2012.2 L1151.4,1974.2 M1151.4,1974.2 L1110.3,1986 L1081,1987.4 M1081,1987.4 L1069.7,2024.4 M1123.4,2085.9 L1125.9,2078.4 M1005.3,2096.9 L1013.9,2123.2 M1005.3,2096.9 L1009.3,2062.9 L1021.3,2042.2 M1021.3,2042.2 L1069.7,2024.4 M1219.5,2059.8 L1172.2,2051.2 M1154.6,1968.3 L1151.4,1974.2 M1112,1882.9 L1127.1,1889.2 M1057.3,1945.7 L1081,1987.4 M985,2002.5 L988,1954.7 M985,2002.5 L1021.3,2042.2 M851.4,1781.1 L862,1753.7 L868.8,1724.4 M952.8,1785.6 L952.6,1759.6 L950.5,1725.7 M950.5,1725.7 L925.2,1701 M868.8,1724.4 L899.2,1706.1 L925.2,1701 M490.8,2716.4 L463.9,2705.8 L426.6,2702.1 L403.9,2694.6 M490.8,2716.4 L495.3,2683 L500.2,2640.2 M500.2,2640.2 L479.7,2620.2 M479.7,2620.2 L448.5,2627.5 L424.2,2646.8 L403.9,2660.4 M403.9,2694.6 L403.9,2660.4 M380.7,2725.9 L403.9,2694.6 M402,2796.5 L438.1,2786.7 L465.9,2782.9 M465.9,2782.9 L482.3,2758 L493,2719.4 M493,2719.4 L490.8,2716.4 M566.7,2730.2 L569.5,2704.6 L572.6,2676.1 L568.4,2645 M566.7,2730.2 L563.1,2734.6 M562.7,2639.3 L568.4,2645 M562.7,2639.3 L526.9,2641.7 L500.2,2640.2 M493,2719.4 L530.9,2728.4 L563.1,2734.6 M684.4,2763.9 L674.7,2735.8 L651.5,2709.3 M651.5,2709.3 L654.4,2696.7 M753.6,2714.5 L738.4,2687.7 L720.8,2650.8 M654.4,2696.7 L681.5,2676.3 L720.8,2650.8 M566.7,2730.2 L590.7,2729.2 L625.9,2721.9 L651.5,2709.3 M568.4,2645 L623.5,2645.1 M654.4,2696.7 L635.5,2668.8 L623.5,2645.1 M709,2264.3 L668,2267.4 L633.5,2271.9 M681.2,2352.1 L657.4,2334 L635.1,2307.6 M633.5,2271.9 L635.1,2307.6 M652,2178.3 L634.7,2220.4 L617.6,2254.4 M633.5,2271.9 L617.6,2254.4 M548.6,2171.9 L551.1,2222 M551.1,2222 L582,2249.3 M582,2249.3 L617.6,2254.4 M658.8,2426 L638.9,2432.4 M635.1,2307.6 L620,2336.8 L592.8,2360.6 M638.9,2432.4 L616.7,2409.4 L611.7,2378.8 L592.8,2360.6 M466.4,2388.1 L459.9,2364.3 L444.5,2327.8 M466.4,2388.1 L505.7,2378 L531.6,2378.3 M531.7,2321.2 L545.1,2358 M531.7,2321.2 L485.6,2302.7 M485.6,2302.7 L444.5,2327.8 M531.6,2378.3 L545.1,2358 M582,2249.3 L567,2275.1 L543.2,2299.4 L531.7,2321.2 M592.8,2360.6 L545.1,2358 M482.4,2239 L487.6,2276.4 L485.6,2302.7 M482.4,2239 L520.3,2226.1 L551.1,2222 M638.9,2432.4 L619.8,2456.3 M543,2433.4 L576.3,2446.4 L601.2,2460.5 M543,2433.4 L541.9,2403.6 L531.6,2378.3 M619.8,2456.3 L601.2,2460.5 M913.9,2655.5 L886,2628.6 L848.9,2612.1 M913.9,2655.5 L941.9,2629.3 L956.1,2605.5 M848.9,2612.1 L873.9,2580.3 L893.5,2553.5 M956.1,2605.5 L943.4,2573.9 L936.3,2551.8 M936.3,2551.8 L893.5,2553.5 M817.6,2693.1 L824.7,2652.9 L818.3,2617 M920.4,2688.4 L913.9,2655.5 M818.3,2617 L848.9,2612.1 M1024.8,2624 L995.7,2618.5 L956.1,2605.5 M854.2,2464.5 L844.2,2487.9 M844.2,2487.9 L871.2,2518.1 L893.5,2553.5 M959.4,2523.1 L948.1,2486.8 L931.6,2460.2 M959.4,2523.1 L936.3,2551.8 M1217,2772.3 L1209.9,2743.7 L1208.5,2705.4 M1217,2772.3 L1252.6,2788.5 L1284.6,2805 M1295.2,2698.8 L1266.6,2693.3 L1238.9,2686.1 M1308.9,2772.3 L1284.6,2805 M1238.9,2686.1 L1208.5,2705.4 M1078.3,2374.7 L1113.3,2416 M1158.5,2327.2 L1161.6,2357.5 L1173.5,2399.2 M1113.3,2416 L1140.5,2407.8 L1173.5,2399.2 M1251.4,2382.2 L1256.4,2364.6 M1251.4,2382.2 L1220.3,2386.2 L1178,2402 M1178,2402 L1173.5,2399.2 M959.4,2523.1 L1006.8,2519.7 M1050.2,2609.4 L1055.7,2590.4 M1055.7,2590.4 L1040.5,2571.3 L1027.7,2538.7 L1006.8,2519.7 M1008.5,2417.9 L1016.7,2449.7 L1038.1,2470.9 M1038.1,2470.9 L1016.4,2492.6 L1006.8,2519.7 M1113.3,2416 L1110.2,2447.6 L1096.3,2473.9 M1038.1,2470.9 L1061.5,2471.5 L1096.3,2473.9 M1347,2661.8 L1351.8,2648.6 M1479.8,2666.1 L1457.6,2637.8 M1457.6,2637.8 L1421.3,2644.8 L1391.3,2638.4 L1351.8,2648.6 M1238.9,2686.1 L1236.7,2657.5 L1236.8,2623.2 L1233,2594 M1233,2594 L1268.6,2585.9 L1294,2584 L1334.2,2589.4 M1351.8,2648.6 L1347.3,2623.7 L1334.2,2589.4 M974.4,2792.8 L996.6,2811.8 M1060.5,2724.7 L1071.1,2753.7 L1084.7,2791.1 M996.6,2811.8 L1030.7,2804.7 L1056.5,2800.4 L1084.7,2791.1 M932.6,2913 L976.3,2900.4 L1013.2,2890.8 M996.6,2811.8 L1005.2,2852.5 L1013.2,2890.8 M1007.9,3031.4 L1018.3,2995 L1015.6,2966 L1017.5,2936.4 L1025.3,2899.2 M1013.2,2890.8 L1025.3,2899.2 M558.5,2896.2 L573.2,2871.3 L601.1,2853.6 L622,2825.7 M622,2825.7 L598.9,2802.5 L570.1,2785.5 M570.1,2785.5 L533.6,2801.7 L510.3,2821.1 M504.7,2860.7 L510.3,2821.1 M637.9,2826.9 L622,2825.7 M563.1,2734.6 L570.1,2785.5 M465.9,2782.9 L485.8,2804.3 L510.3,2821.1 M343.7,2001.2 L334.7,2039.8 L327.5,2072 M414.8,2052.4 L397.6,2076.2 L366.7,2100.6 M327.5,2072 L366.7,2100.6 M239.1,2021.2 L259.3,2053.2 L286.5,2077.1 M238.8,2014 L257.4,2001.6 L288.9,1980.2 L315.4,1968.7 M327.5,2072 L286.5,2077.1 M191.4,2115 L222.9,2129 L259.6,2134.6 M286.5,2077.1 L270.7,2112.2 L259.6,2134.6 M223.7,2228.2 L255.1,2211.3 L281,2183.2 M259.6,2134.6 L281,2183.2 M336.6,2279 L332.8,2256.7 L328.2,2226 L322.8,2192.8 M281,2183.2 L322.8,2192.8 M1284.6,2805 L1285,2817.9 M1285,2817.9 L1314.6,2858.4 M1726.7,2433.3 L1727.5,2432 M1727.5,2432 L1774.6,2419.5 M1646.1,2363.7 L1696.2,2358.5 M1727.5,2432 L1712.1,2389.5 L1696.2,2358.5 M1677.4,2271.2 L1686.3,2304.5 L1708.9,2337.6 M1696.2,2358.5 L1708.9,2337.6 M1708.9,2337.6 L1755.6,2323.9 M1827.7,1831.7 L1809.2,1798 L1776.1,1775.7 L1757.2,1747.2 M1716.2,1843.9 L1734.9,1811.5 L1749.1,1785.8 L1757.2,1747.2 M1807.6,710.3 L1804.1,738 L1783.8,772.4 L1787.8,799.8 L1765.8,837.8 L1764,865.8 M1563.9,683.2 L1573.2,720.1 L1576.8,749.9 L1579,784.5 L1579.4,818.1 L1581.5,847.8 M1764,865.8 L1735.3,860.2 L1707,853 L1676,856.7 L1646.1,853.6 L1608.5,845.2 L1581.5,847.8 M1764,865.8 L1786.8,903.5 L1805.4,938 M1374.5,664.2 L1353.3,659 L1324.6,645.4 L1287.3,629.1 L1259.2,627.1 L1241.1,609.1 L1208.6,602.1 M1374.5,664.2 L1360.1,694.7 L1363.9,723.1 L1351.9,756.1 L1339.4,787.8 L1333.4,819.9 L1327.9,849.9 M1145.4,786.1 L1172.2,814.4 L1188.2,838 L1216.2,860.9 L1231.1,880.7 M1145.4,786.1 L1140.4,755.6 L1149.2,708.8 L1148.6,675.8 M1327.9,849.9 L1300.4,861.2 L1258,866.6 L1231.1,880.7 M1442.9,624.2 L1409.6,649.3 L1374.5,664.2 M1471.1,945 L1448.7,932.7 L1421.1,909 L1404.9,890.8 L1381,887.6 L1345.3,870.4 L1327.9,849.9 M1471.1,945 L1501.8,944.1 M1501.8,944.1 L1520.2,921.5 L1536.9,895.3 L1558.9,877.3 L1581.5,847.8 M1151.3,941 L1169.2,931 L1199,917 L1223.3,895.3 M1151.3,941 L1116.9,930.3 L1092.8,923 L1046.8,921.4 L1020.6,909.2 M1073.3,796.6 L1102.5,795.2 L1145.4,786.1 M1020.6,909.2 L1012.7,873.5 M1223.3,895.3 L1231.1,880.7 M1013.3,653.1 L1050.6,657.4 L1076.1,669.8 L1114.6,672.4 L1148.6,675.8 M1471.1,945 L1448.9,973.5 L1443,994.1 L1416.7,1023.8 L1410.3,1047.7 L1387.7,1069.8 M1387.7,1069.8 L1351.4,1075.1 L1332.5,1069.1 L1293.7,1064.6 L1266.3,1069.9 M1266.3,1069.9 L1254.5,1039.2 L1252.4,1006.6 L1245.9,986.6 L1238.8,951.6 L1226.2,929.1 L1223.3,895.3 M1101.9,1580.6 L1123.8,1562.5 L1143,1530.3 L1157.5,1515.9 L1173.8,1489.6 M1101.9,1580.6 L1102.3,1583 M1102.3,1583 L1135.8,1595.3 L1175.5,1620.3 M1173.8,1489.6 L1195.3,1516.4 L1216.3,1539 M1175.5,1620.3 L1188.4,1594.2 L1196.7,1565.3 L1216.3,1539 M1513.3,1200.6 L1532.5,1232.4 L1549.2,1247.7 L1569.1,1277.6 M1513.3,1200.6 L1524.5,1169.7 L1538.3,1150.7 L1546,1115.4 L1559.7,1100.2 L1565.9,1062.2 L1582,1042.2 M1569.1,1277.6 L1588.8,1259.5 L1627.1,1240.2 L1643.2,1222.2 L1666.7,1211.6 L1698.9,1190 M1698.9,1190 L1694.2,1162.2 L1670.8,1130.5 L1672.1,1115.2 L1659,1080.4 L1645.4,1058.1 M1645.4,1058.1 L1610,1049.2 L1582,1042.2 M1413.7,1184.2 L1449,1196.6 L1482.2,1191.1 L1513.3,1200.6 M1413.7,1184.2 L1400.7,1153.7 L1394.5,1130 L1388.2,1097.7 L1387.7,1069.8 M1501.8,944.1 L1526.8,964.5 L1546.8,994.1 L1557.4,1012.6 L1582,1042.2 M1740.1,1202.1 L1698.9,1190 M1791.2,984.5 L1762.2,1004.2 L1735.1,1014.2 L1706.8,1032.7 L1676.8,1049.7 L1645.4,1058.1 M1100.8,1863.5 L1113.7,1838.3 L1131.6,1817.8 L1139,1786.3 M1192.9,1871.2 L1197.7,1830.5 L1199.2,1802.9 M1139,1786.3 L1163.7,1792.8 L1199.2,1802.9 M1259.4,1805.8 L1205.1,1799 M1205.1,1799 L1199.2,1802.9 M1561.8,2486 L1542.2,2487.7 M1555.8,2592.4 L1529.5,2580 L1507.5,2556 M1542.2,2487.7 L1530.3,2525.5 L1507.5,2556 M1457.6,2637.8 L1464.7,2597.9 L1460.4,2570.8 M1507.5,2556 L1460.4,2570.8 M1448.2,2334.4 L1474.5,2355.4 L1498.5,2387.5 M1448.2,2334.4 L1407.4,2348.7 L1371.1,2366.7 M1371.1,2366.7 L1371.8,2388.3 M1371.8,2388.3 L1393.3,2397.9 L1420.7,2411.8 L1452.2,2429 L1477.8,2437.7 M1477.8,2437.7 L1498.5,2387.5 M1457.2,2289.4 L1448.2,2334.4 M1539.3,2366.2 L1498.5,2387.5 M1343.4,2328.7 L1371.1,2366.7 M1280.3,2435.2 L1318.2,2436.6 L1349.8,2426.5 M1280.3,2435.2 L1270.8,2401.9 L1251.4,2382.2 M1349.8,2426.5 L1371.8,2388.3 M1542.2,2487.7 L1510.8,2464.5 L1478.4,2442.3 M1478.4,2442.3 L1477.8,2437.7 M426.9,942 L400,958.9 L377.5,981.5 L350.9,991 L333.8,1016.6 M405.2,1115 L351.9,1105.7 M333.8,1016.6 L334.8,1043.2 L351.8,1073.7 L351.9,1105.7 M281.1,1169.1 L284.5,1149.6 M226.5,1094.1 L249.5,1116.8 L284.5,1149.6 M410.8,1249.1 L384.4,1254.7 L354.9,1253.3 L326.7,1245.2 M410.8,1249.1 L423.6,1212.9 L449.7,1190.3 M351.9,1105.7 L318.6,1127.7 L284.5,1149.6 M398.3,882.7 L372.7,893 L332.9,888.5 L308.4,900.6 L280.9,907.4 M333.8,1016.6 L297,996.5 L263.5,988.2 M413,1579.2 L444.7,1574.7 M413,1579.2 L406.1,1614.5 L393.5,1643.9 M444.7,1574.7 L471.3,1592.7 L507.3,1613.2 M393.5,1643.9 L404.8,1671.2 M404.8,1671.2 L436.3,1674.6 L473.8,1682 M507.3,1613.2 L490.7,1649.9 L473.8,1682 M327.1,1564.5 L372.8,1569.2 L405.1,1572.4 M322.4,1636.3 L356.2,1641.4 L393.5,1643.9 M405.1,1572.4 L413,1579.2 M376.5,1722.1 L394.4,1699.4 L404.8,1671.2 M477.1,1320.3 L491.2,1345.2 L508.8,1366.9 L519,1394.4 M477.1,1320.3 L509.5,1301.8 L544,1280.8 M519,1394.4 L526.6,1393.7 M544,1280.8 L563.9,1302 L583.7,1336.1 M583.7,1336.1 L550.5,1370.2 L526.6,1393.7 M523.7,1608.9 L532.5,1574.9 L543.5,1545.8 L543.4,1507.9 M523.7,1608.9 L563.9,1623.9 M563.9,1623.9 L585.9,1594.3 L606.7,1570.1 L632.9,1547 M543.4,1507.9 L570.3,1501 M570.3,1501 L607.8,1512.4 L632.6,1536.1 M632.6,1536.1 L632.9,1547 M487,1484.9 L474.8,1515.5 L463.3,1546.2 L444.7,1574.7 M487,1484.9 L517.4,1500.5 L543.4,1507.9 M507.3,1613.2 L523.7,1608.9 M689.5,1629.9 L668.1,1661.4 M689.5,1629.9 L673,1605.8 L650.8,1568.7 L632.9,1547 M563.9,1623.9 L584.7,1647.4 L595.8,1671.8 M595.8,1671.8 L635.5,1668.3 L668.1,1661.4 M718.2,1803.9 L696.6,1775.7 L672.3,1759.9 M620.6,1843.7 L649.8,1852.7 L669.4,1873.1 M620.6,1843.7 L629.4,1808.9 L634,1773.6 M672.3,1759.9 L634,1773.6 M773.6,1757.4 L768,1725.7 M768,1725.7 L734.4,1717.8 L689.8,1715.4 M672.3,1759.9 L689.8,1715.4 M397.4,1845.8 L382.4,1806.4 L375,1768.4 M382.7,1753.9 L423.7,1752 L465.8,1761.6 M419.8,1849.9 L464.4,1825 M464.4,1825 L469.1,1787.1 L465.8,1761.6 M323.1,1358.3 L339.9,1362.9 M410.8,1249.1 L424.7,1278.4 L432.3,1307.6 M432.3,1307.6 L400.2,1331.2 L364.7,1338.9 L339.9,1362.9 M477.1,1320.3 L440.1,1314 M557.3,1216.8 L546.5,1253.6 L544,1280.8 M432.3,1307.6 L440.1,1314 M229.9,1905.9 L265,1914.3 L291.2,1914.2 M229.9,1905.9 L214.7,1878.5 M214.7,1878.5 L231.6,1842.9 L243.8,1804.9 M291.2,1914.2 L305.3,1889.2 L312.3,1851.8 M312.3,1851.8 L291.4,1828.1 L279.8,1800.4 M279.8,1800.4 L243.8,1804.9 M199.8,1976.3 L213.5,1945.1 L229.9,1905.9 M317.3,1949.6 L291.2,1914.2 M139.7,1874.5 L175.2,1880.4 L214.7,1878.5 M213.4,1783.5 L243.8,1804.9 M377.3,1860.1 L344.6,1852.2 L312.3,1851.8 M284,1795.5 L279.8,1800.4 M1597.1,1851.9 L1563,1819.5 M1563,1819.5 L1570.8,1789.7 L1585,1768.2 L1606.7,1745.2 L1618.1,1726.7 L1629,1695 M1658.1,1825.9 L1650.1,1797 L1642.3,1767.8 L1644.7,1725.7 L1634.6,1697.8 M1629,1695 L1634.6,1697.8 M1522.8,1818.9 L1563,1819.5 M1466.8,1735.2 L1488.6,1700.9 M1488.6,1700.9 L1524.4,1688.9 L1553.5,1687.1 L1582.5,1678.9 L1610.8,1676.1 M1610.8,1676.1 L1629,1695 M987,1615.4 L999.2,1621.4 M987,1615.4 L965.8,1572.1 M965.8,1572.1 L987.1,1552.1 L1008.6,1533.9 M1101.9,1580.6 L1067.5,1539.4 M1102.3,1583 L1085.5,1602.4 M999.2,1621.4 L1022.2,1617.1 L1057.4,1613.8 L1085.5,1602.4 M1008.6,1533.9 L1040.2,1536.4 L1067.5,1539.4 M1128,1451.3 L1124.8,1418.7 L1110.8,1392 L1099.3,1371.8 M1128,1451.3 L1170.2,1468.5 M1170.2,1468.5 L1178,1461.9 M1178,1461.9 L1190,1432.9 L1194.3,1394.8 L1206,1360.6 M1206,1360.6 L1161.2,1353.7 L1123.6,1346.9 M1123.6,1346.9 L1099.3,1371.8 M1173.8,1489.6 L1170.2,1468.5 M1084.6,1473.6 L1082.2,1505.8 L1067.5,1539.4 M1084.6,1473.6 L1128,1451.3 M1303,1441.7 L1268.5,1444.9 L1246.3,1446.9 L1209.3,1459.9 L1178,1461.9 M1303,1441.7 L1301.5,1469.4 L1310.9,1515.8 L1312.7,1545.6 M1216.3,1539 L1250.8,1540.6 L1283.1,1542.2 L1312.7,1545.6 M1315.4,1413.4 L1287.6,1387.8 L1253.4,1372.4 L1226,1349.9 M1315.4,1413.4 L1303,1441.7 M1226,1349.9 L1206,1360.6 M997.7,1272.1 L1014.6,1301 L1029,1330.4 L1048.4,1369.3 M997.7,1272.1 L1036.5,1250.3 L1058.4,1235.5 L1097.1,1222.9 M1048.4,1369.3 L1099.3,1371.8 M1123.7,1233.6 L1097.1,1222.9 M1123.7,1233.6 L1126.8,1260.1 L1124.2,1288.1 L1127.7,1313.6 L1123.6,1346.9 M720,1109.3 L743.1,1129.5 L756.7,1150.8 L779.1,1173.7 L795.6,1194.1 M649.6,1220.1 L679.1,1257.5 M679.1,1257.5 L726.1,1267.7 M795.6,1194.1 L778.7,1218.9 L742.5,1236.5 L726.1,1267.7 M918.9,1047.5 L943.7,1076.2 L949.8,1104.6 L974.5,1124.8 M918.9,1047.5 L930.2,996.8 M970.7,982.5 L930.2,996.8 M970.7,982.5 L1002.2,989.5 L1014.7,1003.8 L1050.3,1027.7 L1066.8,1033.5 L1096.2,1050 M974.5,1124.8 L1010.3,1127.1 L1031.7,1124.1 L1062.2,1121.5 M1062.2,1121.5 L1078.9,1091.1 L1097.9,1063.1 M1096.2,1050 L1097.9,1063.1 M756.2,1053.6 L795.2,1067 L818,1070.9 L856.6,1085 M861.9,930.9 L886.7,951.7 L900.6,973.4 L930.2,996.8 M856.6,1085 L893,1064.2 L918.9,1047.5 M1020.6,909.2 L1000.9,939.4 L993.7,956.4 L970.7,982.5 M1151.3,941 L1142.4,973.9 L1123.8,996.6 L1109.2,1021.5 L1096.2,1050 M1232,1116.4 L1203.2,1103.8 L1173.7,1088.2 L1156.1,1090.1 L1121.2,1071 L1097.9,1063.1 M1232,1116.4 L1245.1,1090.4 L1266.3,1069.9 M936.2,1305.9 L967.2,1292.4 L985.9,1270.4 M936.2,1305.9 L909.6,1302.1 L869.9,1301.6 M985.9,1270.4 L969.9,1246.1 L956.5,1217.2 L944.7,1187.6 M869.9,1301.6 L862.6,1296.6 M862.6,1296.6 L861.2,1263.5 L842.2,1232 L839.8,1193.9 M944.7,1187.6 L909.1,1181.5 L881.2,1191.1 L845.6,1188.8 M845.6,1188.8 L839.8,1193.9 M997.7,1272.1 L985.9,1270.4 M1097.1,1222.9 L1080.6,1185.2 L1079.7,1161.5 L1062.2,1121.5 M974.5,1124.8 L958,1149.3 L944.7,1187.6 M795.6,1194.1 L839.8,1193.9 M763.5,1322.7 L741.4,1300.4 L726.1,1267.7 M763.5,1322.7 L793,1315.1 L833.4,1301.2 L862.6,1296.6 M856.6,1085 L847.8,1117.8 L844.4,1157.4 L845.6,1188.8 M1000.8,1423.8 L971.4,1406.8 L943.3,1384.1 M1000.8,1423.8 L1001.5,1440.5 M998.3,1446.2 L1001.5,1440.5 M998.3,1446.2 L960.8,1458 L927.1,1480.4 M943.3,1384.1 L897.2,1410.1 M897.2,1410.1 L902.7,1465.4 M927.1,1480.4 L902.7,1465.4 M1048.4,1369.3 L1030.8,1394.2 L1000.8,1423.8 M936.2,1305.9 L934.6,1343.2 L943.3,1384.1 M1084.6,1473.6 L1052,1465.5 L1033.7,1457.5 L1001.5,1440.5 M1008.6,1533.9 L1005.6,1501.8 L995.7,1474.9 L998.3,1446.2 M855.6,1393.6 L897.2,1410.1 M855.6,1393.6 L863.3,1368.3 L861.4,1334.4 L869.9,1301.6 M1135,1231.5 L1154.8,1212.9 L1176.9,1185 L1189.5,1167.2 L1217.3,1134.5 L1232.1,1117.8 M1135,1231.5 L1163,1238.8 L1186,1249.4 L1213,1266.1 L1236.9,1280.3 M1232.1,1117.8 L1244.7,1141.1 L1267.6,1166.9 L1280.3,1190.2 L1301.6,1217.7 L1317,1236.4 M1236.9,1280.3 L1270.5,1268.7 L1293.8,1246.3 L1317,1236.4 M1232,1116.4 L1232.1,1117.8 M1123.7,1233.6 L1135,1231.5 M1226,1349.9 L1232.7,1312.4 L1236.9,1280.3 M1413.7,1184.2 L1386.7,1210.3 L1367.3,1226 L1347.1,1241.9 M1347.1,1241.9 L1317,1236.4 M1387.8,1371.4 L1373.9,1338.3 L1369.4,1307.5 L1358.7,1269.4 L1347.1,1241.9 M1387.8,1371.4 L1349.3,1388.2 L1315.4,1413.4 M768,1725.7 L786.5,1694.5 M689.5,1629.9 L725.6,1619.6 M689.8,1715.4 L678.2,1690 L668.1,1661.4 M786.5,1694.5 L761.1,1676.4 L751.6,1646.4 L725.6,1619.6 M868.8,1724.4 L835.3,1703.3 L812.7,1685.9 M786.5,1694.5 L812.7,1685.9 M662.3,1513 L694.3,1525.1 L737.8,1526.4 M662.3,1513 L632.6,1536.1 M737.8,1526.4 L744.4,1558.5 L757.2,1582.4 M725.6,1619.6 L757.2,1582.4 M818.3,2617 L806.3,2610 M720.8,2650.8 L727,2625.1 M727,2625.1 L768,2619.9 L806.3,2610 M844.2,2487.9 L816.5,2507.4 L791.6,2516.8 M806.3,2610 L805.3,2580.7 L798.4,2543.7 L791.6,2516.8 M727.2,2445.3 L735.4,2472.4 L744.1,2501 M744.1,2501 L791.6,2516.8 M648.4,2603.1 L682,2603.9 L713.5,2610.1 M648.4,2603.1 L624.9,2565.2 M649.7,2524.6 L624.9,2565.2 M649.7,2524.6 L681.1,2522.1 L713.1,2530.3 M713.1,2530.3 L719,2571.9 L713.5,2610.1 M623.5,2645.1 L648.4,2603.1 M727,2625.1 L713.5,2610.1 M562.7,2639.3 L569.1,2603.4 L572,2566.2 M572,2566.2 L624.9,2565.2 M572,2566.2 L542.7,2538.9 M542.7,2538.9 L568.4,2513 L587.9,2482.9 L601.2,2460.5 M619.8,2456.3 L630.4,2485.2 L649.7,2524.6 M744.1,2501 L713.1,2530.3 M487.9,2471.6 L509,2487.9 L519.1,2512.9 L542.2,2538.8 M487.9,2471.6 L472.1,2468.6 M472.1,2468.6 L450.8,2497 L435,2524.3 L422.8,2545.3 M542.2,2538.8 L515.1,2559.7 L476.6,2581.6 M476.6,2581.6 L452,2566 L422.8,2545.3 M542.7,2538.9 L542.2,2538.8 M543,2433.4 L514.8,2449.8 L487.9,2471.6 M442.5,2429.1 L472.1,2468.6 M479.7,2620.2 L476.6,2581.6 M381.3,2311.7 L383.1,2311.1 M383.1,2311.1 L413.5,2319.1 L444.5,2327.8 M1153.3,2697 L1208.5,2705.4 M1153.3,2697 L1131.4,2677 M1131.4,2677 L1150.8,2649.9 L1162.8,2623.3 L1170.4,2596.8 M1233,2594 L1217.2,2579.7 M1170.4,2596.8 L1217.2,2579.7 M1116.4,2674.8 L1131.4,2677 M1055.7,2590.4 L1101.9,2559.2 M1170.4,2596.8 L1131.8,2578.2 L1101.9,2559.2 M1096.3,2473.9 L1118.9,2499.9 M1101.9,2559.2 L1116.8,2527.9 L1118.9,2499.9 M1342.5,2538.1 L1345.6,2563.1 M1342.5,2538.1 L1361.3,2517.8 L1372.2,2486.6 M1345.6,2563.1 L1379.6,2570 L1424.7,2564.8 L1457,2567.7 M1372.2,2486.6 L1404.8,2481.8 L1437.9,2487.6 M1437.9,2487.6 L1443,2528.2 L1457,2567.7 M1334.2,2589.4 L1345.6,2563.1 M1460.4,2570.8 L1457,2567.7 M1349.8,2426.5 L1367.7,2455.5 L1372.2,2486.6 M1478.4,2442.3 L1458.1,2466.9 L1437.9,2487.6 M1071,2898 L1089,2866.2 L1090.4,2838.3 L1107.4,2802 M1173.3,2912.9 L1191.8,2889 M1162.9,2818.8 L1122.3,2799.6 M1162.9,2818.8 L1171.9,2845.5 L1192.3,2883.3 M1192.3,2883.3 L1191.8,2889 M1122.3,2799.6 L1107.4,2802 M1025.3,2899.2 L1071,2898 M1084.7,2791.1 L1107.4,2802 M1296.5,2932.8 L1269.6,2916.8 L1248.9,2908.7 L1223.3,2903.7 L1191.8,2889 M1217,2772.3 L1194.1,2794.8 L1162.9,2818.8 M1153.3,2697 L1147.8,2732.9 L1136,2763.7 L1122.3,2799.6 M1285,2817.9 L1268,2829.5 L1241.4,2847.1 L1218.1,2866.8 L1192.3,2883.3 M370.5,2118.6 L346.2,2151.8 L331.2,2188.1 M370.5,2118.6 L396.7,2133.2 L427.1,2135.5 L455.7,2149.1 M331.2,2188.1 L360.2,2196.3 L398.3,2202.6 L437.7,2216.2 M455.7,2149.1 L443.8,2177.9 L441.6,2214.5 M441.6,2214.5 L437.7,2216.2 M366.7,2100.6 L370.5,2118.6 M322.8,2192.8 L331.2,2188.1 M479,2129.8 L455.7,2149.1 M383.1,2311.1 L406.4,2274.6 L422.1,2242.9 L437.7,2216.2 M482.4,2239 L441.6,2214.5 M1464.4,1526.8 L1495.5,1523.5 L1528.2,1531.1 L1567,1526.2 M1464.4,1526.8 L1451.6,1498.9 L1445.3,1469 L1439.6,1440.8 L1432.3,1410 L1425.1,1385.1 M1567,1526.2 L1576.2,1494.6 L1582.1,1469.6 L1603.6,1434.1 L1616.5,1411.5 L1620.5,1378.7 M1425.1,1385.1 L1448.5,1374.6 L1481.2,1365.5 L1509.5,1348.7 L1546.4,1332.7 L1568.7,1320.8 M1568.7,1320.8 L1597.2,1344.1 L1620.5,1378.7 M1422.3,1571.7 L1439.7,1591.8 L1450.9,1620.5 L1463,1646.7 L1480.1,1680.7 L1488.6,1700.9 M1422.3,1571.7 L1444.6,1542.5 L1464.4,1526.8 M1610.8,1676.1 L1611.2,1637 L1611.8,1608.9 L1612.8,1579.3 M1612.8,1579.3 L1587.9,1552.4 L1567,1526.2 M1422.3,1571.7 L1386.3,1571.1 L1342.1,1582.8 M1387.8,1371.4 L1425.1,1385.1 M1342.1,1582.8 L1312.7,1545.6 M1612.8,1579.3 L1644.6,1570.5 L1667.1,1555.7 L1688.8,1549.3 L1721.4,1539.9 L1744.9,1532.9 M1715.3,1392.7 L1679.5,1381.4 L1646.5,1380.2 L1620.5,1378.7 M1715.3,1392.7 L1716.2,1417 L1730.1,1442.9 L1739.4,1475.5 L1745.9,1506.2 L1744.9,1532.9 M1569.1,1277.6 L1568.7,1320.8 M1786.4,1347.5 L1757.2,1368.2 L1738.7,1378 L1715.3,1392.7 M1757.2,1747.2 L1755.1,1723 M1634.6,1697.8 L1669.6,1696.2 L1706.3,1706.2 L1741.5,1705.9 M1741.5,1705.9 L1755.1,1723 M1744.9,1532.9 L1779.9,1547 L1804.3,1570.2 M1741.5,1705.9 L1754.7,1678.4 L1761.7,1652.6 L1774.4,1630 L1785.5,1597.5 L1804.3,1570.2 M1869.4,1799.1 L1869.9,1766.5 L1866.5,1727.8 M1755.1,1723 L1793.7,1723.6 L1829.9,1719.6 L1866.5,1727.8 M1961.2,1742.9 L1930.9,1718.7 L1895.5,1704.4 M1866.5,1727.8 L1895.5,1704.4 M1319.2,1710.8 L1320.9,1679.1 L1313.5,1639.4 M1319.2,1710.8 L1287.3,1711 L1254.4,1730.6 L1217.2,1730.5 M1313.5,1639.4 L1288.1,1633.6 L1243.6,1641.4 L1222.3,1640.2 L1185,1638.6 M1217.2,1730.5 L1189.2,1705.9 L1168.8,1688 M1185,1638.6 L1168.8,1688 M1323.7,1718.5 L1319.2,1710.8 M1342.1,1582.8 L1324.5,1613.2 L1313.5,1639.4 M1205.1,1799 L1206.2,1761.1 L1217.2,1730.5 M1175.5,1620.3 L1185,1638.6 M1118.9,1753.3 L1126.7,1712.9 M1118.9,1753.3 L1080.8,1764.1 L1049.2,1777 M1126.7,1712.9 L1080.8,1683.3 M1080.8,1683.3 L1032.6,1693 M1049.2,1777 L1032,1749.8 L1019.4,1711.9 M1019.4,1711.9 L1032.6,1693 M1139,1786.3 L1118.9,1753.3 M1168.8,1688 L1126.7,1712.9 M1040.2,1794.3 L1049.2,1777 M1085.5,1602.4 L1081.3,1645.9 L1080.8,1683.3 M999.2,1621.4 L1018.2,1654.2 L1032.6,1693 M950.5,1725.7 L983,1724 L1019.4,1711.9 M987,1615.4 L968.2,1647.8 L945.4,1663.4 L925.3,1693.2 M925.3,1693.2 L925.2,1701 M583.7,1336.1 L617.5,1344.4 M526.6,1393.7 L557.4,1418.1 L587.7,1436.5 M587.7,1436.5 L614.5,1421.5 M614.5,1421.5 L618.2,1389.2 L617.5,1344.4 M587.7,1436.5 L584,1462 L570.3,1501 M662.3,1513 L664.2,1473.1 L671.9,1441.8 M614.5,1421.5 L638.8,1429.7 L671.9,1441.8 M679.1,1257.5 L660.8,1281.6 L650.1,1313.1 L636.8,1335.6 M636.8,1335.6 L617.5,1344.4 M803,1462.4 L819.9,1427.6 L827.6,1406.6 M803,1462.4 L773.5,1466 M773.5,1466 L736.4,1446.7 L712.5,1414.7 M827.6,1406.6 L799,1379.1 L787.3,1359.8 L761.5,1336.2 M761.5,1336.2 L740.7,1369.5 L714,1396 M714,1396 L712.5,1414.7 M855.6,1393.6 L827.6,1406.6 M834.6,1489.4 L803,1462.4 M834.6,1489.4 L869.5,1476.5 L902.7,1465.4 M737.8,1526.4 L751.3,1500.6 L773.5,1466 M671.9,1441.8 L712.5,1414.7 M763.5,1322.7 L761.5,1336.2 M636.8,1335.6 L660.2,1359.8 L683,1374.9 L714,1396 M584.4,1696.9 L594,1744.9 M584.4,1696.9 L558.8,1701.4 L522.2,1713.1 L491,1717.1 M594,1744.9 L564.2,1763.5 L545.2,1784.3 M545.2,1784.3 L511,1766 L486.3,1742.8 M491,1717.1 L486.3,1742.8 M595.8,1671.8 L584.4,1696.9 M634,1773.6 L594,1744.9 M473.8,1682 L491,1717.1 M465.8,1761.6 L486.3,1742.8 M505.7,1844.5 L546.8,1823.8 M505.7,1844.5 L505.4,1898.2 M505.4,1898.2 L549,1931.5 M593.8,1850.4 L585.4,1874.5 L576.7,1905 L560.6,1931.1 M593.8,1850.4 L546.8,1823.8 M549,1931.5 L560.6,1931.1 M464.4,1825 L505.7,1844.5 M545.2,1784.3 L546.8,1823.8 M451,1916.3 L477.5,1910 L505.4,1898.2 M493.8,1993.2 L516.8,1955.9 L549,1931.5 M620.6,1843.7 L593.8,1850.4 M623.8,1960.6 L644.2,1939.2 L673.8,1912.8 M597.9,1960.1 L560.6,1931.1 M678.1,1892.4 L673.8,1912.8 M428.6,1404 L384.2,1418.6 M428.6,1404 L455.3,1425 L482.3,1433.8 M484.2,1480.6 L456.3,1482.4 L421.3,1486.3 L390.1,1486.8 M484.2,1480.6 L482.3,1433.8 M384.2,1418.6 L368.4,1469.8 M368.4,1469.8 L390.1,1486.8 M440.1,1314 L435.2,1349.2 L438.1,1380.4 L428.6,1404 M339.9,1362.9 L358.8,1389.8 L384.2,1418.6 M519,1394.4 L482.3,1433.8 M487,1484.9 L484.2,1480.6 M405.1,1572.4 L403.6,1545.3 L396.1,1520.8 L390.1,1486.8 M352.2,1474.5 L368.4,1469.8 M717.8,2095.5 L733.9,2081.8 M659.1,2015 L689.6,2002.3 L734,2000.6 M733.9,2081.8 L735.8,2035.5 L734,2000.6 M673.8,1912.8 L691.1,1941.1 L718.6,1964.7 L741.8,1990.8 M734,2000.6 L741.8,1990.8 M775.2,1887.4 L786.2,1921.4 M786.2,1921.4 L762.3,1954.6 L747.3,1988.9 M741.8,1990.8 L747.3,1988.9 M881.6,1630.7 L840.4,1627.5 M881.6,1630.7 L894.5,1613.7 L923.1,1581.7 L935.1,1562.7 M840.4,1627.5 L811.7,1583.9 M935.1,1562.7 L930.8,1557.7 M930.8,1557.7 L901.6,1555.2 L875.7,1547.5 L844.6,1537.7 M844.6,1537.7 L832.6,1564.5 L811.7,1583.9 M925.3,1693.2 L897.4,1657.5 L881.6,1630.7 M812.7,1685.9 L824.9,1661.2 L840.4,1627.5 M965.8,1572.1 L935.1,1562.7 M757.2,1582.4 L811.7,1583.9 M927.1,1480.4 L935.3,1522.4 L930.8,1557.7 M834.6,1489.4 L844.6,1537.7 M409.6,2546.4 L378.9,2520.5 M409.6,2546.4 L383.8,2586.6 L369.4,2617.9 M422.8,2545.3 L409.6,2546.4 M403.9,2660.4 L369.4,2617.9 M1217,2565.5 L1199.1,2543.7 L1172.6,2526.4 L1158.7,2497.1 M1217,2565.5 L1234,2547 L1254.8,2517.5 L1264.2,2493.3 M1259.8,2473.7 L1264.2,2493.3 M1259.8,2473.7 L1229.1,2470.1 L1191.7,2460.5 M1191.7,2460.5 L1158.7,2497.1 M1217.2,2579.7 L1217,2565.5 M1118.9,2499.9 L1158.7,2497.1 M1342.5,2538.1 L1321.9,2517.2 L1291.1,2511.5 L1264.2,2493.3 M1280.3,2435.2 L1259.8,2473.7 M1178,2402 L1179.2,2433.4 L1191.7,2460.5 M1840.7,1565.6 L1871,1591.7 L1900.3,1612.8 M1840.7,1565.6 L1853.7,1529.9 L1868.4,1507.5 L1883.4,1474.9 L1896.9,1456.6 L1912.8,1421.3 M1900.3,1612.8 L1925.8,1605.5 L1958.9,1600 L1991.2,1607.9 L2024.3,1598.6 L2053.4,1591.3 L2077.3,1593.2 L2107.2,1587.6 L2136.5,1588.6 M1804.3,1570.2 L1840.7,1565.6 M1895.5,1704.4 L1896.6,1679 L1904,1645.7 L1900.3,1612.8 M777,2185.7 L816,2150.4 M733.9,2081.8 L765.4,2087.2 L796.7,2089.9 M796.7,2089.9 L805.9,2115.2 L816,2150.4 M964.2,2174.3 L922.7,2157.3 L892,2133.2 M876.6,2229.2 L863.8,2194.3 L858.6,2154.7 M892,2133.2 L858.6,2154.7 M858.6,2154.7 L816,2150.4 M823.1,2023.9 L830.6,2044.2 M823.1,2023.9 L834.5,1999.2 L856,1968.9 L863.8,1948.1 M830.6,2044.2 L863.3,2052 L901.3,2067.2 M886.7,1939.7 L863.8,1948.1 M886.7,1939.7 L896,1963.2 L909.5,2000.3 L920.7,2029.6 M920.7,2029.6 L905.6,2064.3 M905.6,2064.3 L901.3,2067.2 M747.3,1988.9 L781.9,2002 L823.1,2023.9 M796.7,2089.9 L810.3,2067.2 L830.6,2044.2 M786.2,1921.4 L831.6,1940.6 L863.8,1948.1 M892,2133.2 L903.6,2103.7 L901.3,2067.2 M887,1939.3 L886.7,1939.7 M985,2002.5 L950.5,2013 L920.7,2029.6 M1005.3,2096.9 L966.9,2092.4 L933.6,2071.9 L905.6,2064.3" fill="none" stroke="#747474" stroke-width="3" stroke-linejoin="round"/>
<g id="stb">
<path d="M814.3,854.6 L844.3,859.6 L859.3,854.6 L874.3,839.6 L894.3,824.6 L914.3,812.1 L929.3,809.6 L931.8,834.6 L924.3,859.6 L934.3,879.6 L949.2,899.6 L959.2,909.6 L939.2,917.1 L924.3,907.1 L909.3,912.1 L889.3,917.1 L874.3,907.1 L859.3,902.1 L849.3,889.6 L849.3,869.6 L844.3,859.6" fill="none" stroke="#484848" stroke-width="6.8" stroke-linejoin="round" stroke-linecap="round"/>
<path d="M1046.7,722.2 L1069.1,747.2 L1044.2,774.7 L1036.7,794.7 L1049.2,814.6 L1074.1,834.6 L1079.1,854.6 L1064.1,884.6 L1044.2,902.1 L1029.2,919.6 L1064.1,944.5 L1099.1,979.5 L1124.1,1004.5 L1149.7,1009.5 L1169.7,1024.5 L1204.7,1029.5 L1219.6,1029.5" fill="none" stroke="#484848" stroke-width="6.8" stroke-linejoin="round" stroke-linecap="round"/>
<path d="M959.2,909.6 L994.2,917.1 L1029.2,919.6" fill="none" stroke="#484848" stroke-width="6.8" stroke-linejoin="round" stroke-linecap="round"/>
<path d="M602,977 L624.5,1004.5 L644.5,1009.5 L669.5,1009.5 L694.4,1014.5 L699.4,1034.5 L689.4,1047 L664.5,1039.5 L644.5,1029.5 L632,1029.5 L624.5,1004.5" fill="none" stroke="#484848" stroke-width="6.8" stroke-linejoin="round" stroke-linecap="round"/>
<path d="M1149.7,1009.5 L1194.7,1004.5 L1204.7,979.5 L1269.6,944.5 L1289.6,924.5 L1324.6,924.5 L1344.5,929.5 L1369.5,949.5 L1414.5,954.5 L1439.5,967 L1479.4,972 L1509.4,957 L1529.4,942 L1554.4,944.5 L1579.4,919.6 L1589.3,889.6 L1614.3,864.6 L1629.3,839.6 L1639.3,859.6 L1664.3,879.6 L1709.2,874.6 L1724.2,889.6 L1709.2,914.6 L1699.3,929.5 L1729.2,924.5 L1754.2,909.6 L1764.2,909.6" fill="none" stroke="#484848" stroke-width="6.8" stroke-linejoin="round" stroke-linecap="round"/>
<path d="M1049.8,1094.9 L1094.7,1074.9 L1149.7,1082.4 L1189.7,1064.9 L1194.7,1045 L1219.6,1030 L1259.6,1064.9 L1294.6,1079.9 L1319.6,1074.9 L1344.5,1094.9 L1334.5,1124.9 L1339.5,1159.9 L1329.6,1184.9 L1364.5,1204.8 L1359.5,1239.8 L1349.5,1299.8 L1364.5,1329.7 L1379.5,1349.7 L1419.5,1359.7 L1439.5,1349.7 L1469.4,1369.7 L1504.4,1384.7 L1534.4,1394.7 L1544.4,1439.6 L1524.4,1469.6 L1504.4,1459.6 L1479.4,1459.6 L1439.5,1474.6 L1419.5,1479.6 L1389.5,1494.6 L1349.5,1499.6 L1344.5,1539.6 L1349.5,1574.5 L1339.5,1599.5 L1352,1629.5 L1359.5,1649.5 L1374.5,1664.5 L1369.5,1699.4" fill="none" stroke="#484848" stroke-width="6.8" stroke-linejoin="round" stroke-linecap="round"/>
<path d="M1524.4,1469.6 L1549.4,1514.6 L1559.4,1549.6 L1589.3,1542.1 L1619.3,1544.6 L1659.3,1539.6 L1689.3,1529.6 L1719.2,1539.6 L1729.2,1514.6 L1746.7,1494.6 L1809.2,1479.6 L1829.2,1499.6 L1861.6,1474.6" fill="none" stroke="#484848" stroke-width="6.8" stroke-linejoin="round" stroke-linecap="round"/>
<path d="M1519.4,1164.9 L1539.4,1144.9 L1569.4,1149.9 L1589.3,1132.4 L1599.3,1149.9 L1619.3,1169.9 L1624.3,1194.8 L1649.3,1204.8 L1639.3,1229.8 L1619.3,1219.8 L1589.3,1214.8 L1569.4,1224.8 L1539.4,1214.8 L1524.4,1219.8 L1519.4,1199.8Z" fill="none" stroke="#484848" stroke-width="6.8" stroke-linejoin="round" stroke-linecap="round"/>
<path d="M1049.8,1094.9 L1069.8,1139.9 L1089.7,1169.9 L1089.7,1204.8 L1099.7,1239.8 L1109.7,1269.8 L1114.7,1299.8 L1104.7,1324.7 L1094.7,1349.7 L1069.8,1354.7 L1024.8,1369.7 L1019.8,1389.7 L1029.8,1439.6 L1039.8,1479.6 L1044.3,1494.6" fill="none" stroke="#484848" stroke-width="6.8" stroke-linejoin="round" stroke-linecap="round"/>
<path d="M1044.3,1494.6 L1069.8,1492.1 L1089.7,1504.6 L1094.7,1529.6 L1099.7,1559.6 L1119.7,1574.5 L1149.7,1569.5 L1169.7,1564.5 L1199.7,1589.5 L1199.7,1624.5 L1209.6,1649.5 L1259.6,1659.5 L1294.6,1674.5 L1314.6,1694.4 L1369.5,1699.4" fill="none" stroke="#484848" stroke-width="6.8" stroke-linejoin="round" stroke-linecap="round"/>
<path d="M1369.5,1699.4 L1364.5,1704.9 L1377,1744.9 L1389.5,1794.9 L1359.5,1809.9 L1324.6,1819.9 L1304.6,1839.8 L1314.6,1874.8 L1354.5,1917.3" fill="none" stroke="#484848" stroke-width="6.8" stroke-linejoin="round" stroke-linecap="round"/>
<path d="M1314.6,1879.8 L1269.6,1884.8 L1224.6,1889.8 L1209.6,1864.8 L1194.7,1854.8 L1174.7,1864.8 L1169.7,1929.8 L1154.7,1924.8 L1139.7,1904.8 L1114.7,1897.3 L1079.8,1899.8 L1059.8,1909.8 L1064.8,1929.8 L1084.7,1939.8 L1059.8,1954.7 L1039.8,1934.8 L1034.8,1909.8 L1014.8,1894.8 L989.8,1874.8 L959.8,1854.8 L929.9,1844.8 L919.9,1854.8 L914.9,1879.8 L859.9,1894.8 L854.3,1919.8 L844.3,1939.8 L809.4,1949.8 L804.4,1989.7 L789.4,1999.7 L779.4,1989.7 L744.4,1982.2 L704.4,1999.7 L699.4,2019.7 L709.4,2039.7 L714.4,2089.6 L731.9,2099.6" fill="none" stroke="#484848" stroke-width="6.8" stroke-linejoin="round" stroke-linecap="round"/>
<path d="M859.3,1894.8 L889.3,1889.8 L919.3,1859.8 L919.3,1829.8 L894.3,1814.9 L889.3,1789.9 L899.3,1759.9 L914.3,1729.9 L914.3,1700 L934.3,1685 L939.2,1655 L924.3,1719.4 L949.2,1699.4 L944.2,1669.5 L949.2,1649.5 L914.3,1624.5 L894.3,1584.5 L899.3,1579.5 L929.3,1559.6 L964.2,1544.6 L984.2,1519.6 L1009.2,1509.6 L1034.2,1529.6 L1044.2,1499.6 L1044.2,1494.6" fill="none" stroke="#484848" stroke-width="6.8" stroke-linejoin="round" stroke-linecap="round"/>
<path d="M319.7,1294.8 L364.7,1279.8 L399.7,1254.8 L419.7,1244.8 L424.7,1224.8 L449.6,1239.8 L479.6,1249.8 L499.6,1264.8 L494.6,1279.8 L484.6,1309.8 L504.6,1324.7 L484.6,1344.7 L499.6,1359.7 L549.6,1344.7 L579.5,1344.7 L604.5,1319.7 L597,1269.8 L589.5,1249.8 L564.5,1234.8 L564.5,1224.8 L644.5,1219.8 L644.5,1244.8 L669.5,1249.8 L699.4,1234.8 L724.4,1219.8 L719.4,1249.8 L699.4,1279.8 L709.4,1309.8 L699.4,1319.7 L734.4,1344.7 L739.4,1384.7 L769.4,1414.7 L794.4,1429.7 L789.4,1449.6 L779.4,1484.6 L789.4,1499.6" fill="none" stroke="#484848" stroke-width="6.8" stroke-linejoin="round" stroke-linecap="round"/>
<path d="M789.4,1499.6 L819.3,1509.6 L834.3,1514.6 L829.3,1539.6 L819.3,1564.5 L849.3,1599.5 L879.3,1574.5 L894.3,1584.5" fill="none" stroke="#484848" stroke-width="6.8" stroke-linejoin="round" stroke-linecap="round"/>
<path d="M789.4,1499.6 L779.4,1504.6 L769.4,1529.6 L744.4,1549.6 L719.4,1554.6 L714.4,1539.6 L684.5,1539.6 L689.4,1559.6 L674.5,1579.5 L639.5,1584.5 L619.5,1609.5 L649.5,1624.5 L654.5,1659.5 L609.5,1669.5 L599.5,1694.4 L579.5,1714.4 L549.6,1744.4 L529.6,1764.9 L524.6,1789.9" fill="none" stroke="#484848" stroke-width="6.8" stroke-linejoin="round" stroke-linecap="round"/>
<path d="M524.6,1789.9 L499.6,1764.9 L494.6,1739.9 L469.6,1724.9 L459.6,1734.9 L439.6,1759.9 L429.7,1769.9 L389.7,1789.9 L359.7,1804.9 L334.7,1809.9 L299.8,1829.8 L274.8,1834.8 L259.8,1859.8 L234.8,1879.8 L239.8,1904.8 L209.8,1899.8 L179.9,1912.3 L164.9,1904.8" fill="none" stroke="#484848" stroke-width="6.8" stroke-linejoin="round" stroke-linecap="round"/>
<path d="M524.6,1789.9 L529.6,1829.8 L519.6,1839.8 L514.6,1859.8 L499.6,1894.8 L514.6,1929.8 L479.6,1959.7 L469.6,1989.7 L444.6,2009.7 L464.6,2029.7 L499.6,2024.7 L529.6,2014.7 L549.6,2029.7 L569.5,2069.7 L579.5,2099.6 L589.5,2109.6 L569.5,2119.6" fill="none" stroke="#484848" stroke-width="6.8" stroke-linejoin="round" stroke-linecap="round"/>
<path d="M569.5,2119.6 L579.5,2164.6 L604.5,2184.6 L619.5,2154.6 L639.5,2159.6 L644.5,2179.6 L674.5,2189.6 L664.5,2204.5 L699.4,2194.6 L724.4,2179.6 L719.4,2139.6 L731.9,2099.6" fill="none" stroke="#484848" stroke-width="6.8" stroke-linejoin="round" stroke-linecap="round"/>
<path d="M579.5,2164.6 L579.5,2189.6 L589.5,2214.5 L574.5,2254.5 L569.5,2289.5 L559.6,2329.4 L532.1,2361.9" fill="none" stroke="#484848" stroke-width="6.8" stroke-linejoin="round" stroke-linecap="round"/>
<path d="M144.9,2169.6 L189.8,2179.6 L219.8,2164.6 L264.8,2144.6 L299.8,2149.6 L339.7,2159.6 L344.7,2184.6 L334.7,2204.5 L344.7,2239.5 L334.7,2259.5 L344.7,2284.5 L349.7,2289.5" fill="none" stroke="#484848" stroke-width="6.8" stroke-linejoin="round" stroke-linecap="round"/>
<path d="M724.4,2164.6 L749.4,2164.6 L779.4,2144.6 L789.4,2119.6 L769.4,2104.6 L794.4,2104.6 L819.3,2109.6 L849.3,2119.6 L869.3,2109.6 L879.3,2139.6 L899.3,2164.6 L894.3,2189.6 L929.3,2179.6 L939.2,2204.5 L941.7,2257 L959.2,2296.9 L969.2,2326.9 L999.2,2351.9 L1014.2,2386.8 L1004.2,2436.8 L994.2,2476.8 L969.2,2511.7 L934.3,2526.7 L914.3,2556.7 L929.3,2591.7 L949.2,2646.6 L944.2,2696.6 L949.2,2736.6 L939.2,2746.6 L949.2,2776.5 L919.3,2829" fill="none" stroke="#484848" stroke-width="6.8" stroke-linejoin="round" stroke-linecap="round"/>
<path d="M894.3,524.9 L879.3,534.9 L859.3,544.9 L844.3,552.3 L824.3,559.8 L809.4,562.3" fill="none" stroke="#484848" stroke-width="6.8" stroke-linejoin="round" stroke-linecap="round"/>
</g>
<clipPath id="cl"><use href="#de"/></clipPath>
<filter id="sh2" x="-10%" y="-30%" width="120%" height="160%"><feGaussianBlur stdDeviation="4"/></filter>
<filter id="sh" x="-5%" y="-5%" width="110%" height="110%"><feGaussianBlur stdDeviation="10"/></filter>
</defs>
<g id="mapL">
<use href="#de" fill="#000" stroke="#000" stroke-width="14" stroke-linejoin="round" opacity="0.42" filter="url(#sh)" transform="translate(3,5)"/>
<use href="#de" fill="#fff" stroke="#fff" stroke-width="15" stroke-linejoin="round"/>
<g clip-path="url(#cl)">
<use href="#de" fill="#fdc8a5"/>
<path d="M704.4,604.8 L734.4,619.8 L749.4,614.8 L759.4,634.8 L779.4,632.3 L786.9,654.8 L784.4,669.8 L764.4,689.7 L759.4,709.7 L744.4,754.7 L729.4,759.7 L704.4,759.7 L689.4,744.7 L667,717.2 L696.9,704.7 L679.5,689.7 L669.5,659.8 L699.4,639.8Z" fill="#fda76e" stroke="#747474" stroke-width="3" stroke-linejoin="round"/>
<path d="M849.3,749.7 L864.3,724.7 L899.3,709.7 L939.2,694.7 L979.2,699.7 L1001.7,704.7 L981.7,724.7 L994.2,749.7 L1014.2,759.7 L1054.2,744.7 L1064.1,732.2 L1056.7,757.2 L1039.2,774.7 L1009.2,793.7 L979.2,804.6 L971.7,824.6 L986.7,842.1 L971.7,864.6 L946.7,882.1 L939.2,897.1 L959.2,909.6 L979.2,919.6 L1029.2,929.5 L1064.1,944.5 L1099.1,979.5 L1124.1,1004.5 L1099.1,1019.5 L1074.1,1004.5 L1049.2,974.5 L1024.2,989.5 L994.2,984.5 L949.2,1009.5 L919.3,1024.5 L914.3,1004.5 L849.3,979.5 L824.3,959.5 L819.3,924.5 L779.4,919.6 L769.4,889.6 L764.4,859.6 L739.4,854.6 L754.4,839.6 L744.4,829.6 L761.9,814.6 L749.4,799.6 L709.4,779.7 L719.4,767.2 L759.4,774.7 L784.4,794.7 L799.4,812.1 L819.3,799.6 L829.3,769.7 L849.3,764.7Z" fill="#fce9dc" stroke="#747474" stroke-width="3" stroke-linejoin="round"/>
<path d="M319.7,942 L314.7,909.6 L322.2,869.6 L344.7,839.6 L389.7,824.6 L414.7,832.1 L409.7,847.1 L397.2,854.6 L394.7,874.6 L439.6,867.1 L447.1,894.6 L464.6,904.6 L469.6,919.6 L484.6,924.5 L499.6,949.5 L529.6,939.5 L544.6,934.5 L549.6,959.5 L569.5,999.5 L584.5,1009.5 L624.5,1009.5 L644.5,1029.5 L654.5,1019.5 L694.4,1014.5 L699.4,1034.5 L694.4,1025 L689.4,1050 L699.4,1074.9 L724.4,1089.9 L709.4,1104.9 L709.4,1144.9 L699.4,1164.9 L649.5,1169.9 L624.5,1164.9 L599.5,1139.9 L564.5,1149.9 L549.6,1164.9 L514.6,1149.9 L519.6,1124.9 L499.6,1104.9 L479.6,1079.9 L449.6,1089.9 L434.7,1134.9 L444.6,1154.9 L429.7,1164.9 L424.7,1224.8 L449.6,1239.8 L479.6,1249.8 L499.6,1264.8 L494.6,1279.8 L484.6,1309.8 L504.6,1324.7 L484.6,1344.7 L464.6,1344.7 L444.6,1364.7 L454.6,1394.7 L439.6,1414.7 L414.7,1419.7 L399.7,1399.7 L404.7,1374.7 L379.7,1364.7 L349.7,1344.7 L324.7,1319.7 L319.7,1294.8 L309.8,1289.8 L317.2,1244.8 L299.8,1224.8 L249.8,1219.8 L247.3,1194.8 L254.8,1164.9 L314.7,1159.9 L324.7,1099.9 L344.7,1000 L349.7,1004.5 L357.2,954.5 L372.2,942Z" fill="#fce9dc" stroke="#747474" stroke-width="3" stroke-linejoin="round"/>
<path d="M549.6,904.6 L564.5,914.6 L597,899.6 L604.5,914.6 L602,974.5 L624.5,1004.5 L629.5,1014.5 L584.5,1009.5 L569.5,999.5 L549.6,959.5 L544.6,934.5Z" fill="#fe8737" stroke="#747474" stroke-width="3" stroke-linejoin="round"/>
<path d="M607,974.5 L649.5,959.5 L659.5,934.5 L674.5,929.5 L689.4,939.5 L699.4,959.5 L714.4,1004.5 L699.4,1009.5 L679.5,1004.5 L649.5,989.5 L614.5,979.5Z" fill="#fda76e" stroke="#747474" stroke-width="3" stroke-linejoin="round"/>
<path d="M509.6,852.1 L524.6,847.1 L537.1,859.6 L534.6,882.1 L517.1,884.6Z" fill="#fda76e" stroke="#747474" stroke-width="3" stroke-linejoin="round"/>
<path d="M324.7,922.1 L369.7,917.1 L372.2,942 L324.7,939.5Z" fill="#fdc8a5" stroke="#747474" stroke-width="3" stroke-linejoin="round"/>
<path d="M899.3,607.3 L929.3,604.8 L934.3,629.8 L924.3,639.8 L909.3,634.8Z" fill="#fce9dc" stroke="#747474" stroke-width="3" stroke-linejoin="round"/>
<path d="M1344.5,604.8 L1369.5,552.3 L1394.5,564.8 L1429.5,564.8 L1469.4,559.8 L1471.9,514.9 L1504.4,484.9 L1539.4,477.4 L1584.3,507.4 L1589.3,529.9 L1599.3,574.8 L1609.3,599.8 L1574.4,594.8 L1539.4,624.8 L1529.4,644.8 L1519.4,659.8 L1509.4,679.7 L1469.4,704.7 L1434.5,709.7 L1384.5,684.7 L1349.5,669.8 L1339.5,629.8Z" fill="#fda76e" stroke="#747474" stroke-width="3" stroke-linejoin="round"/>
<path d="M1434.5,709.7 L1469.4,704.7 L1504.4,719.7 L1514.4,759.7 L1539.4,764.7 L1549.4,784.7 L1579.4,799.6 L1624.3,799.6 L1614.3,819.6 L1624.3,839.6 L1614.3,864.6 L1589.3,889.6 L1579.4,919.6 L1554.4,944.5 L1529.4,942 L1509.4,959.5 L1484.4,972 L1439.5,967 L1414.5,954.5 L1369.5,949.5 L1344.5,929.5 L1349.5,884.6 L1342,849.6 L1364.5,839.6 L1374.5,812.1 L1404.5,817.1 L1407,784.7 L1424.5,744.7Z" fill="#fda76e" stroke="#747474" stroke-width="3" stroke-linejoin="round"/>
<path d="M1184.7,794.7 L1219.6,787.2 L1244.6,794.7 L1289.6,819.6 L1324.6,844.6 L1342,849.6 L1349.5,884.6 L1344.5,929.5 L1319.6,924.5 L1294.6,924.5 L1269.6,944.5 L1209.6,974.5 L1199.7,999.5 L1159.7,1004.5 L1129.7,994.5 L1109.7,964.5 L1079.8,934.5 L1049.8,904.6 L1039.8,889.6 L1064.8,879.6 L1074.8,839.6 L1119.7,854.6 L1149.7,849.6 L1149.7,829.6 L1179.7,824.6Z" fill="#fda76e" stroke="#747474" stroke-width="3" stroke-linejoin="round"/>
<path d="M1149.7,829.6 L1179.7,824.6 L1184.7,854.6 L1169.7,864.6 L1154.7,854.6Z" fill="#fdc8a5" stroke="#747474" stroke-width="3" stroke-linejoin="round"/>
<path d="M1629.3,839.6 L1639.3,859.6 L1664.3,879.6 L1709.2,874.6 L1724.2,889.6 L1709.2,914.6 L1699.3,929.5 L1729.2,924.5 L1754.2,909.6 L1764.2,924.5 L1761.7,959.5 L1749.2,1004.5 L1719.2,1024.5 L1694.3,1029.5 L1669.3,1019.5 L1654.3,1004.5 L1619.3,1014.5 L1589.3,1027 L1564.4,1009.5 L1549.4,984.5 L1534.4,959.5 L1554.4,944.5 L1579.4,919.6 L1589.3,889.6 L1614.3,864.6Z" fill="#fda76e" stroke="#747474" stroke-width="3" stroke-linejoin="round"/>
<path d="M1294.6,924.5 L1319.6,924.5 L1344.5,929.5 L1354.5,959.5 L1352,999.5 L1369.5,1024.5 L1354.5,1039.5 L1344.5,1059.4 L1314.6,1074.4 L1269.6,1069.4 L1249.6,1049.4 L1219.6,1029.5 L1199.7,999.5 L1209.6,974.5 L1269.6,944.5Z" fill="#ff6600" stroke="#747474" stroke-width="3" stroke-linejoin="round"/>
<path d="M1354.5,959.5 L1369.5,949.5 L1414.5,954.5 L1439.5,967 L1484.4,972 L1474.4,989.5 L1489.4,1009.5 L1494.4,1059.4 L1484.4,1114.9 L1469.4,1139.4 L1419.5,1144.4 L1369.5,1139.4 L1339.5,1119.4 L1344.5,1059.4 L1354.5,1039.5 L1369.5,1024.5 L1352,999.5Z" fill="#fda76e" stroke="#747474" stroke-width="3" stroke-linejoin="round"/>
<path d="M1484.4,972 L1509.4,959.5 L1529.4,942 L1534.4,959.5 L1549.4,984.5 L1564.4,1009.5 L1589.3,1027 L1619.3,1014.5 L1654.3,1004.5 L1669.3,1019.5 L1694.3,1029.5 L1714.2,1039.5 L1709.2,1059.4 L1689.3,1079.4 L1669.3,1114.9 L1644.3,1139.4 L1589.3,1129.4 L1569.4,1149.4 L1539.4,1144.4 L1519.4,1164.4 L1484.4,1139.4 L1484.4,1114.9 L1494.4,1059.4 L1489.4,1009.5 L1474.4,989.5Z" fill="#fce9dc" stroke="#747474" stroke-width="3" stroke-linejoin="round"/>
<path d="M779.4,1174.9 L809.4,1159.9 L829.3,1174.9 L844.3,1169.9 L864.3,1184.9 L894.3,1199.8 L914.3,1209.8 L949.2,1219.8 L959.2,1234.8 L979.2,1259.8 L986.7,1279.8 L1024.2,1274.8 L1029.2,1304.8 L994.2,1309.8 L979.2,1299.8 L949.2,1319.7 L914.3,1289.8 L884.3,1279.8 L859.3,1304.8 L839.3,1334.7 L819.3,1319.7 L799.4,1294.8 L786.9,1279.8 L784.4,1244.8 L764.4,1234.8 L754.4,1219.8 L779.4,1209.8Z" fill="#fce9dc" stroke="#747474" stroke-width="3" stroke-linejoin="round"/>
<path d="M1031.7,1224.8 L1054.2,1214.8 L1076.6,1229.8 L1074.1,1254.8 L1044.2,1259.8Z" fill="#fce9dc" stroke="#747474" stroke-width="3" stroke-linejoin="round"/>
<path d="M519.6,1359.7 L549.6,1344.7 L584.5,1344.7 L594.5,1364.7 L584.5,1389.7 L609.5,1404.7 L644.5,1414.7 L634.5,1424.7 L609.5,1434.7 L599.5,1449.6 L579.5,1464.6 L564.5,1459.6 L549.6,1429.7 L534.6,1399.7Z" fill="#fce9dc" stroke="#747474" stroke-width="3" stroke-linejoin="round"/>
<path d="M239.8,1584.5 L259.8,1579.5 L299.8,1589.5 L319.7,1584.5 L324.7,1614.5 L304.8,1624.5 L294.8,1649.5 L319.7,1664.5 L309.8,1689.4 L279.8,1699.4 L269.8,1724.4 L279.8,1754.9 L189.8,1754.9 L184.9,1719.4 L199.8,1689.4 L189.8,1664.5 L194.8,1639.5 L219.8,1629.5 L234.8,1609.5Z" fill="#fce9dc" stroke="#747474" stroke-width="3" stroke-linejoin="round"/>
<path d="M117.4,1644.5 L149.9,1654.5 L164.9,1679.5 L154.9,1709.4 L129.9,1719.4 L124.9,1754.9 L84.9,1754.9 L92.4,1719.4 L69.9,1699.4 L62.5,1674.5Z" fill="#fce9dc" stroke="#747474" stroke-width="3" stroke-linejoin="round"/>
<path d="M779.4,1594.5 L799.4,1587 L814.3,1599.5 L804.4,1614.5 L784.4,1612Z" fill="#fce9dc" stroke="#747474" stroke-width="3" stroke-linejoin="round"/>
<path d="M709.4,1104.9 L724.4,1089.9 L739.4,1099.9 L764.4,1129.9 L794.4,1139.9 L804.4,1159.9 L779.4,1174.9 L749.4,1169.9 L699.4,1164.9 L709.4,1144.9Z" fill="#fda76e" stroke="#747474" stroke-width="3" stroke-linejoin="round"/>
<path d="M569.5,1234.8 L594.5,1239.8 L639.5,1249.8 L649.5,1244.8 L689.4,1239.8 L719.4,1229.8 L724.4,1249.8 L699.4,1279.8 L709.4,1299.8 L699.4,1319.7 L664.5,1319.7 L649.5,1304.8 L629.5,1294.8 L599.5,1294.8 L597,1269.8Z" fill="#fda76e" stroke="#747474" stroke-width="3" stroke-linejoin="round"/>
<path d="M644.5,1344.7 L669.5,1334.7 L699.4,1319.7 L719.4,1339.7 L734.4,1364.7 L749.4,1394.7 L759.4,1414.7 L719.4,1419.7 L694.4,1439.6 L664.5,1434.7 L649.5,1414.7 L634.5,1379.7Z" fill="#fda76e" stroke="#747474" stroke-width="3" stroke-linejoin="round"/>
<path d="M739.4,1319.7 L769.4,1299.8 L799.4,1294.8 L819.3,1319.7 L839.3,1334.7 L829.3,1364.7 L809.4,1369.7 L779.4,1389.7 L749.4,1394.7 L734.4,1364.7Z" fill="#fda76e" stroke="#747474" stroke-width="3" stroke-linejoin="round"/>
<path d="M779.4,1389.7 L809.4,1369.7 L829.3,1364.7 L849.3,1394.7 L879.3,1404.7 L914.3,1394.7 L929.3,1414.7 L934.3,1449.6 L934.3,1499.6 L849.3,1499.6 L799.4,1484.6 L789.4,1449.6 L794.4,1429.7Z" fill="#fda76e" stroke="#747474" stroke-width="3" stroke-linejoin="round"/>
<path d="M839.3,1334.7 L859.3,1304.8 L884.3,1279.8 L914.3,1289.8 L949.2,1319.7 L944.2,1349.7 L949.2,1379.7 L914.3,1394.7 L879.3,1404.7 L849.3,1394.7 L829.3,1364.7Z" fill="#fda76e" stroke="#747474" stroke-width="3" stroke-linejoin="round"/>
<path d="M924.3,1394.7 L949.2,1379.7 L979.2,1364.7 L1004.2,1379.7 L999.2,1424.7 L969.2,1439.6 L934.3,1449.6 L929.3,1414.7Z" fill="#fe8737" stroke="#747474" stroke-width="3" stroke-linejoin="round"/>
<path d="M1029.2,1259.8 L1074.1,1254.8 L1099.1,1239.8 L1109.1,1279.8 L1119.1,1309.8 L1099.1,1339.7 L1064.1,1359.7 L1029.2,1349.7 L994.2,1309.8 L1029.2,1304.8Z" fill="#fe8737" stroke="#747474" stroke-width="3" stroke-linejoin="round"/>
<path d="M704.4,1264.8 L724.4,1249.8 L749.4,1249.8 L784.4,1244.8 L786.9,1279.8 L769.4,1299.8 L739.4,1319.7 L709.4,1299.8Z" fill="#fe8737" stroke="#747474" stroke-width="3" stroke-linejoin="round"/>
<path d="M484.6,1569.5 L499.6,1559.6 L549.6,1564.5 L579.5,1569.5 L614.5,1549.6 L664.5,1544.6 L684.5,1529.6 L689.4,1554.6 L679.5,1574.5 L639.5,1584.5 L619.5,1609.5 L649.5,1624.5 L649.5,1659.5 L609.5,1669.5 L564.5,1659.5 L529.6,1644.5 L514.6,1624.5 L489.6,1614.5Z" fill="#fe8737" stroke="#747474" stroke-width="3" stroke-linejoin="round"/>
<path d="M494.6,1484.6 L539.6,1484.6 L564.5,1469.6 L599.5,1469.6 L619.5,1494.6 L599.5,1514.6 L604.5,1544.6 L579.5,1569.5 L549.6,1564.5 L499.6,1559.6 L484.6,1524.6Z" fill="#fda76e" stroke="#747474" stroke-width="3" stroke-linejoin="round"/>
<path d="M419.7,1579.5 L479.6,1569.5 L489.6,1614.5 L479.6,1644.5 L449.6,1654.5 L419.7,1669.5 L394.7,1649.5 L384.7,1629.5 L399.7,1599.5Z" fill="#fda76e" stroke="#747474" stroke-width="3" stroke-linejoin="round"/>
<path d="M479.6,1719.4 L499.6,1699.4 L529.6,1669.5 L564.5,1659.5 L609.5,1669.5 L599.5,1694.4 L579.5,1714.4 L549.6,1744.4 L499.6,1754.9 L469.6,1744.4Z" fill="#fda76e" stroke="#747474" stroke-width="3" stroke-linejoin="round"/>
<path d="M194.8,1567 L224.8,1564.5 L229.8,1589.5 L204.8,1599.5 L192.3,1589.5Z" fill="#fda76e" stroke="#747474" stroke-width="3" stroke-linejoin="round"/>
<path d="M324.7,1632 L354.7,1627 L359.7,1647 L329.7,1649.5Z" fill="#fda76e" stroke="#747474" stroke-width="3" stroke-linejoin="round"/>
<path d="M377.2,1574.5 L409.7,1567 L414.7,1594.5 L384.7,1599.5Z" fill="#fda76e" stroke="#747474" stroke-width="3" stroke-linejoin="round"/>
<path d="M849.3,1599.5 L879.3,1574.5 L894.3,1584.5 L914.3,1624.5 L939.2,1649.5 L949.2,1669.5 L934.3,1699.4 L899.3,1709.4 L874.3,1699.4 L849.3,1664.5 L839.3,1629.5Z" fill="#fda76e" stroke="#747474" stroke-width="3" stroke-linejoin="round"/>
<path d="M899.3,1579.5 L929.3,1559.6 L964.2,1544.6 L984.2,1519.6 L1009.2,1509.6 L1034.2,1529.6 L1019.2,1564.5 L1009.2,1599.5 L974.2,1619.5 L939.2,1624.5 L914.3,1624.5 L894.3,1584.5Z" fill="#fda76e" stroke="#747474" stroke-width="3" stroke-linejoin="round"/>
<path d="M1034.2,1529.6 L1044.2,1499.6 L1079.1,1494.6 L1099.1,1529.6 L1104.1,1559.6 L1074.1,1569.5 L1019.2,1564.5Z" fill="#fe8737" stroke="#747474" stroke-width="3" stroke-linejoin="round"/>
<path d="M1049.8,1094.9 L1094.7,1074.9 L1149.7,1082.4 L1189.7,1064.9 L1194.7,1045 L1219.6,1030 L1259.6,1064.9 L1294.6,1079.9 L1319.6,1074.9 L1344.5,1094.9 L1334.5,1124.9 L1339.5,1159.9 L1329.6,1184.9 L1364.5,1204.8 L1359.5,1239.8 L1349.5,1299.8 L1364.5,1329.7 L1379.5,1349.7 L1419.5,1359.7 L1439.5,1349.7 L1469.4,1369.7 L1504.4,1384.7 L1534.4,1394.7 L1559.4,1409.7 L1589.3,1399.7 L1619.3,1389.7 L1624.3,1419.7 L1644.3,1424.7 L1674.3,1409.7 L1684.3,1379.7 L1724.2,1389.7 L1749.2,1379.7 L1774.2,1369.7 L1789.2,1344.7 L1819.2,1329.7 L1869.1,1319.7 L1869.1,1499.6 L1969,1499.6 L1969,1749.4 L1819.2,1789.9 L1419.5,1989.7 L1354.5,1917.3 L1319.6,1884.8 L1299.6,1874.8 L1309.6,1839.8 L1294.6,1804.9 L1304.6,1784.9 L1294.6,1759.9 L1249.6,1769.9 L1219.6,1779.9 L1204.7,1759.9 L1209.6,1729.9 L1219.6,1690 L1249.6,1670 L1254.6,1660 L1204.7,1640 L1209.6,1649.5 L1199.7,1624.5 L1189.7,1614.5 L1199.7,1589.5 L1149.7,1569.5 L1119.7,1574.5 L1089.7,1564.5 L1074.8,1529.6 L1049.8,1504.6 L1039.8,1479.6 L1029.8,1439.6 L1019.8,1389.7 L1024.8,1369.7 L1069.8,1354.7 L1094.7,1349.7 L1104.7,1324.7 L1114.7,1299.8 L1109.7,1269.8 L1099.7,1239.8 L1089.7,1204.8 L1089.7,1169.9 L1069.8,1139.9Z" fill="#ff6600" stroke="#747474" stroke-width="3" stroke-linejoin="round"/>
<path d="M1199.7,1589.5 L1149.7,1569.5 L1119.7,1574.5 L1089.7,1564.5 L1049.8,1574.5 L1009.8,1604.5 L1004.8,1639.5 L969.8,1649.5 L944.9,1644.5 L939.9,1674.5 L914.9,1699.4 L914.9,1700 L914.9,1739.9 L889.9,1779.9 L894.9,1809.9 L939.9,1804.9 L954.9,1774.9 L999.8,1764.9 L1019.8,1724.9 L1009.8,1700 L1059.8,1704.9 L1084.7,1690 L1089.7,1655 L1119.7,1624.5 L1189.7,1614.5Z" fill="#ff6600" stroke="#747474" stroke-width="3" stroke-linejoin="round"/>
<path d="M1024.8,1839.8 L1064.8,1829.8 L1089.7,1839.8 L1114.7,1854.8 L1119.7,1874.8 L1109.7,1889.8 L1079.8,1899.8 L1059.8,1909.8 L1064.8,1929.8 L1084.7,1939.8 L1059.8,1954.7 L1039.8,1934.8 L1034.8,1909.8 L1009.8,1889.8Z" fill="#ff6600" stroke="#747474" stroke-width="3" stroke-linejoin="round"/>
<path d="M1129.7,1799.9 L1159.7,1759.9 L1204.7,1759.9 L1219.6,1779.9 L1239.6,1824.9 L1219.6,1839.8 L1214.6,1864.8 L1194.7,1849.8 L1169.7,1859.8 L1149.7,1839.8 L1119.7,1844.8Z" fill="#ff6600" stroke="#747474" stroke-width="3" stroke-linejoin="round"/>
<path d="M1189.7,1064.9 L1194.7,1045 L1219.6,1030 L1259.6,1064.9 L1294.6,1079.9 L1319.6,1074.9 L1344.5,1094.9 L1334.5,1124.9 L1339.5,1159.9 L1329.6,1184.9 L1294.6,1189.8 L1297.1,1214.8 L1269.6,1249.8 L1254.6,1244.8 L1244.6,1219.8 L1214.6,1219.8 L1214.6,1179.9 L1179.7,1164.9 L1199.7,1149.9 L1194.7,1099.9 L1209.6,1089.9 L1219.6,1069.9Z" fill="#fe8737" stroke="#747474" stroke-width="3" stroke-linejoin="round"/>
<path d="M1219.6,1294.8 L1239.6,1294.8 L1249.6,1349.7 L1229.6,1379.7 L1209.6,1374.7 L1214.6,1349.7 L1229.6,1319.7Z" fill="#fda76e" stroke="#747474" stroke-width="3" stroke-linejoin="round"/>
<path d="M1379.5,1349.7 L1419.5,1359.7 L1439.5,1349.7 L1469.4,1369.7 L1504.4,1384.7 L1534.4,1394.7 L1544.4,1439.6 L1524.4,1469.6 L1504.4,1459.6 L1479.4,1459.6 L1439.5,1474.6 L1419.5,1479.6 L1384.5,1449.6 L1377,1424.7 L1369.5,1379.7Z" fill="#fda76e" stroke="#747474" stroke-width="3" stroke-linejoin="round"/>
<path d="M1329.6,1389.7 L1349.5,1374.7 L1369.5,1379.7 L1377,1424.7 L1354.5,1434.7 L1334.5,1414.7Z" fill="#fe8737" stroke="#747474" stroke-width="3" stroke-linejoin="round"/>
<path d="M1249.6,1504.6 L1269.6,1479.6 L1299.6,1474.6 L1319.6,1479.6 L1349.5,1499.6 L1344.5,1539.6 L1349.5,1574.5 L1339.5,1599.5 L1299.6,1614.5 L1269.6,1604.5 L1239.6,1599.5 L1209.6,1574.5 L1219.6,1559.6 L1259.6,1539.6Z" fill="#fda76e" stroke="#747474" stroke-width="3" stroke-linejoin="round"/>
<path d="M1284.6,1519.6 L1314.6,1514.6 L1324.6,1539.6 L1309.6,1554.6 L1289.6,1544.6Z" fill="#fe8737" stroke="#747474" stroke-width="3" stroke-linejoin="round"/>
<path d="M1419.5,1564.5 L1439.5,1539.6 L1469.4,1532.1 L1499.4,1544.6 L1504.4,1574.5 L1494.4,1599.5 L1504.4,1624.5 L1489.4,1664.5 L1469.4,1699.4 L1444.5,1689.4 L1419.5,1664.5 L1374.5,1664.5 L1359.5,1649.5 L1352,1629.5 L1359.5,1604.5 L1384.5,1604.5 L1409.5,1589.5Z" fill="#fda76e" stroke="#747474" stroke-width="3" stroke-linejoin="round"/>
<path d="M1364.5,1549.6 L1404.5,1542.1 L1419.5,1564.5 L1409.5,1589.5 L1384.5,1604.5 L1367,1584.5Z" fill="#fce9dc" stroke="#747474" stroke-width="3" stroke-linejoin="round"/>
<path d="M1684.3,1379.7 L1724.2,1389.7 L1739.2,1424.7 L1734.2,1449.6 L1756.7,1474.6 L1746.7,1494.6 L1809.2,1479.6 L1829.2,1499.6 L1819.2,1529.6 L1799.2,1549.6 L1824.2,1564.5 L1864.1,1604.5 L1839.1,1624.5 L1824.2,1644.5 L1789.2,1644.5 L1749.2,1634.5 L1734.2,1624.5 L1734.2,1599.5 L1684.3,1589.5 L1664.3,1614.5 L1644.3,1639.5 L1619.3,1654.5 L1579.4,1664.5 L1569.4,1624.5 L1559.4,1549.6 L1589.3,1542.1 L1619.3,1544.6 L1649.3,1534.6 L1659.3,1514.6 L1644.3,1504.6 L1689.3,1469.6 L1691.8,1434.7 L1674.3,1409.7Z" fill="#fe8737" stroke="#747474" stroke-width="3" stroke-linejoin="round"/>
<path d="M1644.3,1639.5 L1664.3,1619.5 L1684.3,1624.5 L1719.2,1629.5 L1734.2,1639.5 L1719.2,1659.5 L1694.3,1674.5 L1669.3,1664.5Z" fill="#fce9dc" stroke="#747474" stroke-width="3" stroke-linejoin="round"/>
<path d="M1619.3,1654.5 L1644.3,1639.5 L1669.3,1664.5 L1694.3,1674.5 L1719.2,1659.5 L1734.2,1639.5 L1749.2,1634.5 L1789.2,1644.5 L1794.2,1659.5 L1794.2,1684.5 L1809.2,1699.4 L1764.2,1719.4 L1719.2,1754.9 L1684.3,1754.9 L1649.3,1719.4 L1619.3,1699.4 L1614.3,1669.5Z" fill="#fda76e" stroke="#747474" stroke-width="3" stroke-linejoin="round"/>
<path d="M1766.7,1399.7 L1789.2,1384.7 L1811.7,1399.7 L1804.2,1429.7 L1779.2,1434.7Z" fill="#fdc8a5" stroke="#747474" stroke-width="3" stroke-linejoin="round"/>
<path d="M1364.5,1204.8 L1384.5,1184.9 L1439.5,1179.9 L1444.5,1199.8 L1479.4,1194.8 L1509.4,1219.8 L1519.4,1239.8 L1534.4,1264.8 L1514.4,1299.8 L1494.4,1309.8 L1499.4,1334.7 L1489.4,1349.7 L1469.4,1359.7 L1439.5,1354.7 L1414.5,1359.7 L1379.5,1349.7 L1364.5,1329.7 L1349.5,1299.8 L1359.5,1239.8Z" fill="#fce9dc" stroke="#747474" stroke-width="3" stroke-linejoin="round"/>
<path d="M1519.4,1164.9 L1539.4,1144.9 L1569.4,1149.9 L1589.3,1132.4 L1599.3,1149.9 L1619.3,1169.9 L1624.3,1194.8 L1649.3,1204.8 L1639.3,1229.8 L1619.3,1219.8 L1589.3,1214.8 L1569.4,1224.8 L1539.4,1214.8 L1524.4,1219.8 L1519.4,1199.8Z" fill="#fce9dc" stroke="#747474" stroke-width="3" stroke-linejoin="round"/>
<path d="M1619.3,1219.8 L1639.3,1229.8 L1664.3,1249.8 L1659.3,1279.8 L1684.3,1299.8 L1719.2,1319.7 L1769.2,1324.7 L1789.2,1344.7 L1774.2,1369.7 L1749.2,1379.7 L1724.2,1389.7 L1684.3,1379.7 L1674.3,1409.7 L1644.3,1424.7 L1624.3,1419.7 L1619.3,1389.7 L1589.3,1369.7 L1614.3,1349.7 L1634.3,1329.7 L1614.3,1309.8 L1594.3,1279.8 L1599.3,1249.8Z" fill="#fce9dc" stroke="#747474" stroke-width="3" stroke-linejoin="round"/>
<path d="M1649.3,1204.8 L1669.3,1199.8 L1694.3,1209.8 L1734.2,1184.9 L1764.2,1199.8 L1784.2,1214.8 L1779.2,1249.8 L1814.2,1249.8 L1819.2,1269.8 L1839.1,1279.8 L1854.1,1319.7 L1819.2,1329.7 L1789.2,1344.7 L1769.2,1324.7 L1719.2,1319.7 L1684.3,1299.8 L1659.3,1279.8 L1664.3,1249.8 L1639.3,1229.8Z" fill="#fda76e" stroke="#747474" stroke-width="3" stroke-linejoin="round"/>
<path d="M1784.2,1214.8 L1811.7,1209.8 L1819.2,1224.8 L1814.2,1249.8 L1779.2,1249.8Z" fill="#fe8737" stroke="#747474" stroke-width="3" stroke-linejoin="round"/>
<path d="M532.1,2361.9 L504.6,2354.4 L499.6,2329.4 L514.6,2304.5 L524.6,2284.5 L549.6,2284.5 L569.5,2259.5 L574.5,2229.5 L599.5,2204.5 L644.5,2189.6 L669.5,2204.5 L699.4,2194.6 L719.4,2179.6 L734.4,2164.6 L779.4,2154.6 L804.4,2164.6 L809.4,2204.5 L849.3,2224.5 L934.3,2224.5 L939.2,2189.6 L924.3,2169.6 L919.3,2139.6 L889.3,2119.6 L869.3,2109.6 L849.3,2119.6 L844.3,2089.6 L859.3,2069.7 L889.3,2054.7 L919.3,2059.7 L929.3,2079.6 L934.3,2144.6 L1029.2,2144.6 L1029.2,2089.6 L1049.2,2079.6 L1064.1,2054.7 L1074.8,2034.7 L1094.7,2009.7 L1129.7,2014.7 L1159.7,2019.7 L1169.7,2039.7 L1184.7,2069.7 L1169.7,2089.6 L1179.7,2109.6 L1204.7,2139.6 L1239.6,2139.6 L1249.6,2179.6 L1244.6,2199.6 L1269.6,2234.5 L1329.6,2259.5 L1349.5,2209.5 L1359.5,2164.6 L1394.5,2169.6 L1419.5,2159.6 L1439.5,2189.6 L1419.5,2239.5 L1414.5,2284.5 L1434.5,2309.5 L1509.4,2299.5 L1519.4,2339.4 L1549.4,2364.4 L1579.4,2394.9 L1589.3,2486.8 L1599.3,2516.7 L1589.3,2536.7 L1614.3,2556.7 L1669.3,2571.7 L1769.2,2996.4 L170.5,2996.4Z" fill="#fce9dc" stroke="#747474" stroke-width="3" stroke-linejoin="round"/>
<path d="M62.5,1675 L99.9,1655 L129.9,1695 L124.9,1724.9 L149.9,1739.9 L164.9,1779.9 L154.9,1809.9 L124.9,1809.9 L94.9,1779.9 L79.9,1754.9 L94.9,1719.9 L69.9,1704.9Z" fill="#fce9dc" stroke="#747474" stroke-width="3" stroke-linejoin="round"/>
<path d="M184.9,1655 L239.8,1640 L294.8,1640 L319.7,1670 L349.7,1655 L359.7,1690 L319.7,1704.9 L319.7,1739.9 L379.7,1724.9 L424.7,1754.9 L434.7,1769.9 L389.7,1789.9 L359.7,1804.9 L334.7,1809.9 L299.8,1829.8 L274.8,1834.8 L259.8,1789.9 L234.8,1779.9 L229.8,1729.9 L194.8,1719.9 L184.9,1690Z" fill="#fce9dc" stroke="#747474" stroke-width="3" stroke-linejoin="round"/>
<path d="M124.9,1924.8 L164.9,1912.3 L174.9,1919.8 L199.8,1959.7 L224.8,1989.7 L219.8,2034.7 L199.8,2069.7 L179.9,2089.6 L164.9,2069.7 L119.9,2039.7 L99.9,1999.7 L104.9,1959.7Z" fill="#fce9dc" stroke="#747474" stroke-width="3" stroke-linejoin="round"/>
<path d="M579.5,1749.9 L599.5,1719.9 L644.5,1707.4 L709.4,1724.9 L729.4,1754.9 L719.4,1769.9 L694.4,1784.9 L689.4,1804.9 L649.5,1804.9 L619.5,1809.9 L614.5,1839.8 L644.5,1859.8 L664.5,1874.8 L709.4,1874.8 L719.4,1899.8 L759.4,1889.8 L779.4,1899.8 L819.3,1899.8 L854.3,1919.8 L844.3,1939.8 L809.4,1949.8 L804.4,1989.7 L789.4,1999.7 L779.4,1989.7 L744.4,1982.2 L704.4,1999.7 L699.4,2019.7 L709.4,2039.7 L714.4,2089.6 L659.5,2119.6 L664.5,2159.6 L679.5,2179.6 L669.5,2204.5 L644.5,2189.6 L609.5,2179.6 L589.5,2189.6 L574.5,2164.6 L569.5,2119.6 L589.5,2104.6 L569.5,2069.7 L549.6,2029.7 L524.6,2014.7 L499.6,2029.7 L469.6,2039.7 L449.6,2019.7 L434.7,2009.7 L469.6,1989.7 L499.6,1994.7 L519.6,1989.7 L544.6,1979.7 L564.5,1959.7 L579.5,1934.8 L564.5,1909.8 L589.5,1894.8 L619.5,1909.8 L629.5,1879.8 L609.5,1864.8 L609.5,1839.8 L594.5,1804.9 L589.5,1779.9Z" fill="#fce9dc" stroke="#747474" stroke-width="3" stroke-linejoin="round"/>
<path d="M549.6,2159.6 L584.5,2159.6 L589.5,2189.6 L584.5,2259.5 L549.6,2259.5Z" fill="#fce9dc" stroke="#747474" stroke-width="3" stroke-linejoin="round"/>
<path d="M479.6,1690 L499.6,1670 L529.6,1660 L549.6,1640 L644.5,1640 L649.5,1655 L609.5,1670 L599.5,1695 L569.5,1744.9 L529.6,1764.9 L519.6,1789.9 L499.6,1764.9 L494.6,1739.9 L469.6,1724.9Z" fill="#fda76e" stroke="#747474" stroke-width="3" stroke-linejoin="round"/>
<path d="M179.9,1912.3 L209.8,1899.8 L234.8,1909.8 L279.8,1924.8 L299.8,1934.8 L279.8,1949.8 L274.8,1984.7 L259.8,1989.7 L224.8,1989.7 L199.8,1959.7Z" fill="#fda76e" stroke="#747474" stroke-width="3" stroke-linejoin="round"/>
<path d="M299.8,2114.6 L329.7,2099.6 L369.7,2104.6 L389.7,2124.6 L379.7,2144.6 L364.7,2164.6 L339.7,2159.6 L309.8,2154.6 L294.8,2134.6Z" fill="#fda76e" stroke="#747474" stroke-width="3" stroke-linejoin="round"/>
<path d="M264.8,2204.5 L299.8,2199.6 L334.7,2204.5 L344.7,2239.5 L329.7,2259.5 L304.8,2259.5 L299.8,2234.5 L264.8,2224.5Z" fill="#fda76e" stroke="#747474" stroke-width="3" stroke-linejoin="round"/>
<path d="M344.7,2184.6 L369.7,2164.6 L389.7,2124.6 L419.7,2164.6 L439.6,2169.6 L474.6,2184.6 L484.6,2214.5 L479.6,2269.5 L469.6,2284.5 L439.6,2274.5 L389.7,2279.5 L349.7,2284.5 L334.7,2259.5 L344.7,2239.5 L334.7,2204.5Z" fill="#fda76e" stroke="#747474" stroke-width="3" stroke-linejoin="round"/>
<path d="M414.7,2194.6 L449.6,2189.6 L464.6,2209.5 L449.6,2229.5 L419.7,2224.5Z" fill="#fce9dc" stroke="#747474" stroke-width="3" stroke-linejoin="round"/>
<path d="M349.7,2284.5 L389.7,2279.5 L439.6,2274.5 L469.6,2284.5 L472.1,2309.5 L464.6,2336.9 L424.7,2331.9 L379.7,2309.5 L349.7,2289.5Z" fill="#fe8737" stroke="#747474" stroke-width="3" stroke-linejoin="round"/>
<path d="M474.6,2289.5 L499.6,2284.5 L519.6,2289.5 L509.6,2309.5 L499.6,2329.4 L504.6,2351.9 L469.6,2339.4 L472.1,2309.5Z" fill="#fdc8a5" stroke="#747474" stroke-width="3" stroke-linejoin="round"/>
<path d="M704.4,1999.7 L744.4,1982.2 L779.4,1989.7 L789.4,2019.7 L784.4,2049.7 L794.4,2089.6 L784.4,2119.6 L789.4,2149.6 L759.4,2159.6 L734.4,2164.6 L719.4,2139.6 L731.9,2099.6 L714.4,2089.6 L709.4,2039.7 L699.4,2019.7Z" fill="#fdc8a5" stroke="#747474" stroke-width="3" stroke-linejoin="round"/>
<path d="M789.4,1999.7 L804.4,1989.7 L809.4,1949.8 L844.3,1939.8 L854.3,1919.8 L879.3,1939.8 L914.3,1959.7 L949.2,1959.7 L979.2,1939.8 L1004.2,1949.8 L1024.2,1989.7 L1019.2,2019.7 L999.2,2034.7 L999.2,2059.7 L979.2,2089.6 L949.2,2099.6 L929.3,2079.6 L919.3,2059.7 L889.3,2054.7 L859.3,2069.7 L844.3,2089.6 L794.4,2089.6 L784.4,2049.7 L789.4,2019.7Z" fill="#fdc8a5" stroke="#747474" stroke-width="3" stroke-linejoin="round"/>
<path d="M809.4,2164.6 L819.3,2119.6 L849.3,2119.6 L869.3,2109.6 L889.3,2119.6 L919.3,2139.6 L924.3,2169.6 L939.2,2189.6 L934.3,2224.5 L849.3,2224.5 L809.4,2204.5Z" fill="#fdc8a5" stroke="#747474" stroke-width="3" stroke-linejoin="round"/>
<path d="M1004.2,1949.8 L1039.2,1959.7 L1089.1,1949.8 L1094.1,1989.7 L1079.1,2019.7 L1089.1,2054.7 L1064.1,2054.7 L1049.2,2079.6 L1024.2,2089.6 L999.2,2059.7 L999.2,2034.7 L1019.2,2019.7 L1024.2,1989.7Z" fill="#fdc8a5" stroke="#747474" stroke-width="3" stroke-linejoin="round"/>
<path d="M1069.1,2289.5 L1089.1,2284.5 L1119.1,2299.5 L1164.1,2304.5 L1169.1,2329.4 L1149.1,2359.4 L1114.1,2379.4 L1074.1,2369.4 L1054.2,2339.4Z" fill="#fdc8a5" stroke="#747474" stroke-width="3" stroke-linejoin="round"/>
<path d="M929.3,2079.6 L949.2,2099.6 L979.2,2089.6 L999.2,2059.7 L1024.2,2089.6 L1029.2,2144.6 L934.3,2144.6Z" fill="#fdc8a5" stroke="#747474" stroke-width="3" stroke-linejoin="round"/>
<path d="M939.9,1804.9 L954.9,1774.9 L999.8,1764.9 L1029.8,1779.9 L1064.8,1799.9 L1069.8,1824.9 L1064.8,1829.8 L1024.8,1839.8 L1009.8,1889.8 L989.8,1899.8 L969.8,1859.8 L939.9,1844.8 L919.9,1849.8Z" fill="#fda76e" stroke="#747474" stroke-width="3" stroke-linejoin="round"/>
<path d="M919.9,1849.8 L939.9,1844.8 L969.8,1859.8 L989.8,1899.8 L1009.8,1889.8 L1034.8,1909.8 L1039.8,1934.8 L1009.8,1944.8 L984.8,1929.8 L959.8,1939.8 L919.9,1929.8 L894.9,1904.8 L899.9,1874.8Z" fill="#fda76e" stroke="#747474" stroke-width="3" stroke-linejoin="round"/>
<path d="M1009.8,1700 L1059.8,1704.9 L1084.7,1690 L1089.7,1670 L1129.7,1675 L1149.7,1665 L1199.7,1660 L1249.6,1670 L1219.6,1690 L1209.6,1729.9 L1204.7,1759.9 L1159.7,1759.9 L1129.7,1799.9 L1119.7,1844.8 L1089.7,1839.8 L1064.8,1829.8 L1069.8,1824.9 L1064.8,1799.9 L1029.8,1779.9 L999.8,1764.9 L1019.8,1724.9Z" fill="#fda76e" stroke="#747474" stroke-width="3" stroke-linejoin="round"/>
<path d="M1089.7,1695 L1119.7,1675 L1144.7,1690 L1139.7,1719.9 L1109.7,1729.9 L1089.7,1714.9Z" fill="#fdc8a5" stroke="#747474" stroke-width="3" stroke-linejoin="round"/>
<path d="M1167.2,1687.5 L1192.2,1685 L1197.2,1709.9 L1174.7,1717.4Z" fill="#fce9dc" stroke="#747474" stroke-width="3" stroke-linejoin="round"/>
<path d="M1219.6,1704.9 L1244.6,1700 L1252.1,1724.9 L1234.6,1739.9 L1219.6,1729.9Z" fill="#fce9dc" stroke="#747474" stroke-width="3" stroke-linejoin="round"/>
<path d="M1089.7,1604.5 L1119.7,1599.5 L1159.7,1614.5 L1194.7,1624.5 L1199.7,1649.5 L1169.7,1669.5 L1129.7,1664.5 L1094.7,1649.5Z" fill="#fe8737" stroke="#747474" stroke-width="3" stroke-linejoin="round"/>
<path d="M1219.6,1779.9 L1249.6,1769.9 L1294.6,1759.9 L1304.6,1784.9 L1294.6,1804.9 L1309.6,1839.8 L1299.6,1874.8 L1269.6,1884.8 L1224.6,1889.8 L1214.6,1864.8 L1219.6,1839.8 L1239.6,1824.9Z" fill="#fe8737" stroke="#747474" stroke-width="3" stroke-linejoin="round"/>
<path d="M1319.6,1709.9 L1364.5,1704.9 L1369.5,1749.9 L1324.6,1754.9Z" fill="#fe8737" stroke="#747474" stroke-width="3" stroke-linejoin="round"/>
<path d="M1374.5,1670 L1394.5,1660 L1419.5,1665 L1449.5,1709.9 L1409.5,1724.9 L1374.5,1744.9 L1364.5,1704.9Z" fill="#fda76e" stroke="#747474" stroke-width="3" stroke-linejoin="round"/>
<path d="M1479.4,1734.9 L1504.4,1714.9 L1534.4,1724.9 L1534.4,1754.9 L1509.4,1764.9 L1484.4,1754.9Z" fill="#fe8737" stroke="#747474" stroke-width="3" stroke-linejoin="round"/>
<path d="M1169.7,1859.8 L1194.7,1849.8 L1214.6,1864.8 L1224.6,1889.8 L1269.6,1884.8 L1299.6,1874.8 L1319.6,1884.8 L1354.5,1917.3 L1369.5,1954.7 L1384.5,1979.7 L1369.5,1999.7 L1334.5,2029.7 L1309.6,2024.7 L1289.6,1984.7 L1264.6,1979.7 L1249.6,1949.8 L1229.6,1934.8 L1209.6,1949.8 L1179.7,1939.8 L1159.7,1934.8 L1164.7,1899.8Z" fill="#fda76e" stroke="#747474" stroke-width="3" stroke-linejoin="round"/>
<path d="M1309.6,2024.7 L1334.5,2029.7 L1369.5,1999.7 L1384.5,1979.7 L1399.5,1989.7 L1434.5,2019.7 L1447,2039.7 L1434.5,2079.6 L1424.5,2089.6 L1404.5,2084.6 L1369.5,2069.7 L1339.5,2084.6 L1309.6,2079.6 L1294.6,2029.7Z" fill="#fda76e" stroke="#747474" stroke-width="3" stroke-linejoin="round"/>
<path d="M844.9,2079.6 L874.9,2059.7 L914.9,2044.7 L934.9,2054.7 L929.9,2079.6 L919.9,2109.6 L934.9,2139.6 L929.9,2174.6 L909.9,2194.6 L894.9,2184.6 L879.9,2149.6 L849.9,2134.6 L839.9,2104.6Z" fill="#fce9dc" stroke="#747474" stroke-width="3" stroke-linejoin="round"/>
<path d="M1489.4,2197 L1519.4,2222 L1564.4,2242 L1589.3,2276.9 L1624.3,2291.9 L1649.3,2314.4 L1679.3,2334.4 L1719.2,2356.9 L1744.2,2396.8 L1739.2,2451.8 L1724.2,2479.3 L1694.3,2466.8 L1666.8,2476.8 L1664.3,2506.8 L1644.3,2546.7 L1614.3,2556.7 L1589.3,2536.7 L1599.3,2516.7 L1589.3,2486.8 L1569.4,2456.8 L1594.3,2431.8 L1619.3,2416.8 L1609.3,2386.8 L1589.3,2366.9 L1549.4,2351.9 L1529.4,2321.9 L1509.4,2296.9 L1469.4,2301.9 L1439.5,2316.9 L1414.5,2291.9 L1419.5,2261.9 L1444.5,2237 L1449.5,2212 L1459.4,2197Z" fill="#fdc8a5" stroke="#747474" stroke-width="3" stroke-linejoin="round"/>
<path d="M1249.6,2197 L1269.6,2227 L1299.6,2242 L1329.6,2252 L1349.5,2222 L1339.5,2197 L1319.6,2177 L1269.6,2177Z" fill="#fdc8a5" stroke="#747474" stroke-width="3" stroke-linejoin="round"/>
<path d="M1059.8,2306.9 L1079.8,2286.9 L1109.7,2296.9 L1129.7,2301.9 L1169.7,2326.9 L1159.7,2351.9 L1139.7,2376.9 L1119.7,2386.8 L1089.7,2371.9 L1064.8,2371.9Z" fill="#fdc8a5" stroke="#747474" stroke-width="3" stroke-linejoin="round"/>
<path d="M1479.4,2556.7 L1494.4,2546.7 L1534.4,2556.7 L1529.4,2596.7 L1519.4,2626.7 L1499.4,2641.6 L1479.4,2621.7Z" fill="#fdc8a5" stroke="#747474" stroke-width="3" stroke-linejoin="round"/>
<path d="M905,2440 L950,2422 L965,2422 L985,2434 L1016,2445 L1010,2480 L990,2500 L960,2510 L930,2500 L905,2470Z" fill="#fdc8a5" stroke="#747474" stroke-width="3" stroke-linejoin="round"/>
<path d="M1044.8,2706.6 L1057.3,2699.1 L1067.3,2711.6 L1062.3,2724.1 L1047.3,2721.6Z" fill="#fda76e" stroke="#747474" stroke-width="3" stroke-linejoin="round"/>
<path d="M534.6,2491.8 L574.5,2476.8 L609.5,2496.8 L624.5,2516.7 L664.5,2526.7 L649.5,2546.7 L639.5,2556.7 L629.5,2591.7 L644.5,2626.7 L614.5,2646.6 L594.5,2621.7 L554.6,2616.7 L554.6,2566.7 L544.6,2546.7Z" fill="#fdc8a5" stroke="#747474" stroke-width="3" stroke-linejoin="round"/>
<path d="M729.4,2596.7 L759.4,2586.7 L774.4,2601.7 L764.4,2626.7 L799.4,2646.6 L829.3,2676.6 L789.4,2696.6 L784.4,2716.6 L739.4,2726.6 L714.4,2696.6 L694.4,2661.6 L699.4,2636.6 L739.4,2626.7Z" fill="#fdc8a5" stroke="#747474" stroke-width="3" stroke-linejoin="round"/>
<path d="M610.5,1807.8 L684.4,1802.1 L695.8,1816.3 L710,1839.1 L729.9,1850.5 L698.6,1867.5 L698.6,1881.7 L715.7,1887.4 L604.8,1896 L621.8,1844.8 L604.8,1810.6Z" fill="#fce9dc" stroke="#747474" stroke-width="3" stroke-linejoin="round"/>
<use href="#vor"/>
<use href="#stb"/>
</g>
<use href="#de" fill="none" stroke="#464646" stroke-width="5.4" stroke-linejoin="round"/>
<g id="lab" font-family="Liberation Sans, sans-serif">
<path d="M959,552 L919,587 L918,620" fill="none" stroke="#fff" stroke-width="13" stroke-linecap="round" stroke-linejoin="round" opacity="0.9"/>
<path d="M847,872 L899,872" fill="none" stroke="#fff" stroke-width="13" stroke-linecap="round" stroke-linejoin="round" opacity="0.9"/>
<path d="M1142,897 L1170,869.6 L1170,839.6" fill="none" stroke="#fff" stroke-width="13" stroke-linecap="round" stroke-linejoin="round" opacity="0.9"/>
<path d="M607,1052 L639.5,1052 L667,1027" fill="none" stroke="#fff" stroke-width="13" stroke-linecap="round" stroke-linejoin="round" opacity="0.9"/>
<path d="M772,1192 L789,1192 L849,1257" fill="none" stroke="#fff" stroke-width="13" stroke-linecap="round" stroke-linejoin="round" opacity="0.9"/>
<path d="M274,1558.5 L250,1569.5 L250,1624.5" fill="none" stroke="#fff" stroke-width="13" stroke-linecap="round" stroke-linejoin="round" opacity="0.9"/>
<path d="M1199.6,1399.7 L1199.6,1349.7 L1232,1324.7" fill="none" stroke="#fff" stroke-width="13" stroke-linecap="round" stroke-linejoin="round" opacity="0.9"/>
<path d="M1689,1130 L1629,1130 L1574,1185" fill="none" stroke="#fff" stroke-width="13" stroke-linecap="round" stroke-linejoin="round" opacity="0.9"/>
<path d="M1562,1262 L1514.4,1244.8 L1508.4,1224.8" fill="none" stroke="#fff" stroke-width="13" stroke-linecap="round" stroke-linejoin="round" opacity="0.9"/>
<path d="M1736.7,1599.5 L1736.7,1634.5 L1671.8,1657" fill="none" stroke="#fff" stroke-width="13" stroke-linecap="round" stroke-linejoin="round" opacity="0.9"/>
<path d="M1047,1745 L1079.8,1745 L1119.7,1702.5" fill="none" stroke="#fff" stroke-width="13" stroke-linecap="round" stroke-linejoin="round" opacity="0.9"/>
<path d="M499.6,1894.8 L499.6,1954.7 L544.6,1999.7" fill="none" stroke="#fff" stroke-width="13" stroke-linecap="round" stroke-linejoin="round" opacity="0.9"/>
<path d="M462,2079.6 L499.6,2079.6 L544.6,2032" fill="none" stroke="#fff" stroke-width="13" stroke-linecap="round" stroke-linejoin="round" opacity="0.9"/>
<path d="M334.7,2247 L304.8,2248.5 L274.8,2273.5" fill="none" stroke="#fff" stroke-width="13" stroke-linecap="round" stroke-linejoin="round" opacity="0.9"/>
<path d="M811.9,2467.8 L769.4,2467.8 L741.9,2425.8" fill="none" stroke="#fff" stroke-width="13" stroke-linecap="round" stroke-linejoin="round" opacity="0.9"/>
<path d="M1324.6,2570.7 L1312,2570.7 L1262,2624" fill="none" stroke="#fff" stroke-width="13" stroke-linecap="round" stroke-linejoin="round" opacity="0.9"/>
<path d="M959,552 L919,587 L918,620" fill="none" stroke="#3a3432" stroke-width="7" stroke-linecap="round" stroke-linejoin="round"/>
<path d="M847,872 L899,872" fill="none" stroke="#3a3432" stroke-width="7" stroke-linecap="round" stroke-linejoin="round"/>
<path d="M1142,897 L1170,869.6 L1170,839.6" fill="none" stroke="#3a3432" stroke-width="7" stroke-linecap="round" stroke-linejoin="round"/>
<path d="M607,1052 L639.5,1052 L667,1027" fill="none" stroke="#3a3432" stroke-width="7" stroke-linecap="round" stroke-linejoin="round"/>
<path d="M772,1192 L789,1192 L849,1257" fill="none" stroke="#3a3432" stroke-width="7" stroke-linecap="round" stroke-linejoin="round"/>
<path d="M274,1558.5 L250,1569.5 L250,1624.5" fill="none" stroke="#3a3432" stroke-width="7" stroke-linecap="round" stroke-linejoin="round"/>
<path d="M1199.6,1399.7 L1199.6,1349.7 L1232,1324.7" fill="none" stroke="#3a3432" stroke-width="7" stroke-linecap="round" stroke-linejoin="round"/>
<path d="M1689,1130 L1629,1130 L1574,1185" fill="none" stroke="#3a3432" stroke-width="7" stroke-linecap="round" stroke-linejoin="round"/>
<path d="M1562,1262 L1514.4,1244.8 L1508.4,1224.8" fill="none" stroke="#3a3432" stroke-width="7" stroke-linecap="round" stroke-linejoin="round"/>
<path d="M1736.7,1599.5 L1736.7,1634.5 L1671.8,1657" fill="none" stroke="#3a3432" stroke-width="7" stroke-linecap="round" stroke-linejoin="round"/>
<path d="M1047,1745 L1079.8,1745 L1119.7,1702.5" fill="none" stroke="#3a3432" stroke-width="7" stroke-linecap="round" stroke-linejoin="round"/>
<path d="M499.6,1894.8 L499.6,1954.7 L544.6,1999.7" fill="none" stroke="#3a3432" stroke-width="7" stroke-linecap="round" stroke-linejoin="round"/>
<path d="M462,2079.6 L499.6,2079.6 L544.6,2032" fill="none" stroke="#3a3432" stroke-width="7" stroke-linecap="round" stroke-linejoin="round"/>
<path d="M334.7,2247 L304.8,2248.5 L274.8,2273.5" fill="none" stroke="#3a3432" stroke-width="7" stroke-linecap="round" stroke-linejoin="round"/>
<path d="M811.9,2467.8 L769.4,2467.8 L741.9,2425.8" fill="none" stroke="#3a3432" stroke-width="7" stroke-linecap="round" stroke-linejoin="round"/>
<path d="M1324.6,2570.7 L1312,2570.7 L1262,2624" fill="none" stroke="#3a3432" stroke-width="7" stroke-linecap="round" stroke-linejoin="round"/>
<text x="963" y="558.8" font-size="64" font-weight="normal" fill="#000" text-anchor="start" textLength="120" lengthAdjust="spacingAndGlyphs" opacity="0.25" filter="url(#sh2)">Kiel</text>
<text x="551" y="899.6" font-size="64" font-weight="normal" fill="#000" text-anchor="start" textLength="302.3" lengthAdjust="spacingAndGlyphs" opacity="0.25" filter="url(#sh2)">Hamburg</text>
<text x="968.8" y="947" font-size="64" font-weight="normal" fill="#000" text-anchor="start" textLength="297.2" lengthAdjust="spacingAndGlyphs" opacity="0.25" filter="url(#sh2)">Schwerin</text>
<text x="351" y="1074.4" font-size="64" font-weight="normal" fill="#000" text-anchor="start" textLength="257.5" lengthAdjust="spacingAndGlyphs" opacity="0.25" filter="url(#sh2)">Bremen</text>
<text x="471" y="1222.3" font-size="64" font-weight="normal" fill="#000" text-anchor="start" textLength="305" lengthAdjust="spacingAndGlyphs" opacity="0.25" filter="url(#sh2)">Hannover</text>
<text x="236" y="1562" font-size="64" font-weight="normal" fill="#000" text-anchor="start" textLength="352.5" lengthAdjust="spacingAndGlyphs" opacity="0.25" filter="url(#sh2)">Düsseldorf</text>
<text x="991" y="1452" font-size="64" font-weight="normal" fill="#000" text-anchor="start" textLength="377.5" lengthAdjust="spacingAndGlyphs" opacity="0.25" filter="url(#sh2)">Magdeburg</text>
<text x="1702" y="1155" font-size="64" font-weight="normal" fill="#000" text-anchor="start" textLength="190" lengthAdjust="spacingAndGlyphs" opacity="0.25" filter="url(#sh2)">Berlin</text>
<text x="1563" y="1307" font-size="64" font-weight="normal" fill="#000" text-anchor="start" textLength="285" lengthAdjust="spacingAndGlyphs" opacity="0.25" filter="url(#sh2)">Potsdam</text>
<text x="1606" y="1589.5" font-size="64" font-weight="normal" fill="#000" text-anchor="start" textLength="272" lengthAdjust="spacingAndGlyphs" opacity="0.25" filter="url(#sh2)">Dresden</text>
<text x="869" y="1767" font-size="64" font-weight="normal" fill="#000" text-anchor="start" textLength="185" lengthAdjust="spacingAndGlyphs" opacity="0.25" filter="url(#sh2)">Erfurt</text>
<text x="301" y="1892" font-size="64" font-weight="normal" fill="#000" text-anchor="start" textLength="362.5" lengthAdjust="spacingAndGlyphs" opacity="0.25" filter="url(#sh2)">Wiesbaden</text>
<text x="279" y="2102" font-size="64" font-weight="normal" fill="#000" text-anchor="start" textLength="189.6" lengthAdjust="spacingAndGlyphs" opacity="0.25" filter="url(#sh2)">Mainz</text>
<text x="339" y="2267" font-size="64" font-weight="normal" fill="#000" text-anchor="start" textLength="407" lengthAdjust="spacingAndGlyphs" opacity="0.25" filter="url(#sh2)">Saarbrücken</text>
<text x="813" y="2491.8" font-size="64" font-weight="normal" fill="#000" text-anchor="start" textLength="290" lengthAdjust="spacingAndGlyphs" opacity="0.25" filter="url(#sh2)">Stuttgart</text>
<text x="1326" y="2601.7" font-size="64" font-weight="normal" fill="#000" text-anchor="start" textLength="300" lengthAdjust="spacingAndGlyphs" opacity="0.25" filter="url(#sh2)">München</text>
<text x="959" y="553.8" font-size="64" font-weight="normal" fill="#fff" text-anchor="start" textLength="120" lengthAdjust="spacingAndGlyphs" stroke="#fff" stroke-width="11" stroke-linejoin="round">Kiel</text>
<text x="547" y="894.6" font-size="64" font-weight="normal" fill="#fff" text-anchor="start" textLength="302.3" lengthAdjust="spacingAndGlyphs" stroke="#fff" stroke-width="11" stroke-linejoin="round">Hamburg</text>
<text x="964.8" y="942" font-size="64" font-weight="normal" fill="#fff" text-anchor="start" textLength="297.2" lengthAdjust="spacingAndGlyphs" stroke="#fff" stroke-width="11" stroke-linejoin="round">Schwerin</text>
<text x="347" y="1069.4" font-size="64" font-weight="normal" fill="#fff" text-anchor="start" textLength="257.5" lengthAdjust="spacingAndGlyphs" stroke="#fff" stroke-width="11" stroke-linejoin="round">Bremen</text>
<text x="467" y="1217.3" font-size="64" font-weight="normal" fill="#fff" text-anchor="start" textLength="305" lengthAdjust="spacingAndGlyphs" stroke="#fff" stroke-width="11" stroke-linejoin="round">Hannover</text>
<text x="232" y="1557" font-size="64" font-weight="normal" fill="#fff" text-anchor="start" textLength="352.5" lengthAdjust="spacingAndGlyphs" stroke="#fff" stroke-width="11" stroke-linejoin="round">Düsseldorf</text>
<text x="987" y="1447" font-size="64" font-weight="normal" fill="#fff" text-anchor="start" textLength="377.5" lengthAdjust="spacingAndGlyphs" stroke="#fff" stroke-width="11" stroke-linejoin="round">Magdeburg</text>
<text x="1698" y="1150" font-size="64" font-weight="normal" fill="#fff" text-anchor="start" textLength="190" lengthAdjust="spacingAndGlyphs" stroke="#fff" stroke-width="11" stroke-linejoin="round">Berlin</text>
<text x="1559" y="1302" font-size="64" font-weight="normal" fill="#fff" text-anchor="start" textLength="285" lengthAdjust="spacingAndGlyphs" stroke="#fff" stroke-width="11" stroke-linejoin="round">Potsdam</text>
<text x="1602" y="1584.5" font-size="64" font-weight="normal" fill="#fff" text-anchor="start" textLength="272" lengthAdjust="spacingAndGlyphs" stroke="#fff" stroke-width="11" stroke-linejoin="round">Dresden</text>
<text x="865" y="1762" font-size="64" font-weight="normal" fill="#fff" text-anchor="start" textLength="185" lengthAdjust="spacingAndGlyphs" stroke="#fff" stroke-width="11" stroke-linejoin="round">Erfurt</text>
<text x="297" y="1887" font-size="64" font-weight="normal" fill="#fff" text-anchor="start" textLength="362.5" lengthAdjust="spacingAndGlyphs" stroke="#fff" stroke-width="11" stroke-linejoin="round">Wiesbaden</text>
<text x="275" y="2097" font-size="64" font-weight="normal" fill="#fff" text-anchor="start" textLength="189.6" lengthAdjust="spacingAndGlyphs" stroke="#fff" stroke-width="11" stroke-linejoin="round">Mainz</text>
<text x="335" y="2262" font-size="64" font-weight="normal" fill="#fff" text-anchor="start" textLength="407" lengthAdjust="spacingAndGlyphs" stroke="#fff" stroke-width="11" stroke-linejoin="round">Saarbrücken</text>
<text x="809" y="2486.8" font-size="64" font-weight="normal" fill="#fff" text-anchor="start" textLength="290" lengthAdjust="spacingAndGlyphs" stroke="#fff" stroke-width="11" stroke-linejoin="round">Stuttgart</text>
<text x="1322" y="2596.7" font-size="64" font-weight="normal" fill="#fff" text-anchor="start" textLength="300" lengthAdjust="spacingAndGlyphs" stroke="#fff" stroke-width="11" stroke-linejoin="round">München</text>
<text x="959" y="553.8" font-size="64" font-weight="normal" fill="#333" text-anchor="start" textLength="120" lengthAdjust="spacingAndGlyphs" stroke="#333" stroke-width="1.1">Kiel</text>
<text x="547" y="894.6" font-size="64" font-weight="normal" fill="#333" text-anchor="start" textLength="302.3" lengthAdjust="spacingAndGlyphs" stroke="#333" stroke-width="1.1">Hamburg</text>
<text x="964.8" y="942" font-size="64" font-weight="normal" fill="#333" text-anchor="start" textLength="297.2" lengthAdjust="spacingAndGlyphs" stroke="#333" stroke-width="1.1">Schwerin</text>
<text x="347" y="1069.4" font-size="64" font-weight="normal" fill="#333" text-anchor="start" textLength="257.5" lengthAdjust="spacingAndGlyphs" stroke="#333" stroke-width="1.1">Bremen</text>
<text x="467" y="1217.3" font-size="64" font-weight="normal" fill="#333" text-anchor="start" textLength="305" lengthAdjust="spacingAndGlyphs" stroke="#333" stroke-width="1.1">Hannover</text>
<text x="232" y="1557" font-size="64" font-weight="normal" fill="#333" text-anchor="start" textLength="352.5" lengthAdjust="spacingAndGlyphs" stroke="#333" stroke-width="1.1">Düsseldorf</text>
<text x="987" y="1447" font-size="64" font-weight="normal" fill="#333" text-anchor="start" textLength="377.5" lengthAdjust="spacingAndGlyphs" stroke="#333" stroke-width="1.1">Magdeburg</text>
<text x="1698" y="1150" font-size="64" font-weight="normal" fill="#333" text-anchor="start" textLength="190" lengthAdjust="spacingAndGlyphs" stroke="#333" stroke-width="1.1">Berlin</text>
<text x="1559" y="1302" font-size="64" font-weight="normal" fill="#333" text-anchor="start" textLength="285" lengthAdjust="spacingAndGlyphs" stroke="#333" stroke-width="1.1">Potsdam</text>
<text x="1602" y="1584.5" font-size="64" font-weight="normal" fill="#333" text-anchor="start" textLength="272" lengthAdjust="spacingAndGlyphs" stroke="#333" stroke-width="1.1">Dresden</text>
<text x="865" y="1762" font-size="64" font-weight="normal" fill="#333" text-anchor="start" textLength="185" lengthAdjust="spacingAndGlyphs" stroke="#333" stroke-width="1.1">Erfurt</text>
<text x="297" y="1887" font-size="64" font-weight="normal" fill="#333" text-anchor="start" textLength="362.5" lengthAdjust="spacingAndGlyphs" stroke="#333" stroke-width="1.1">Wiesbaden</text>
<text x="275" y="2097" font-size="64" font-weight="normal" fill="#333" text-anchor="start" textLength="189.6" lengthAdjust="spacingAndGlyphs" stroke="#333" stroke-width="1.1">Mainz</text>
<text x="335" y="2262" font-size="64" font-weight="normal" fill="#333" text-anchor="start" textLength="407" lengthAdjust="spacingAndGlyphs" stroke="#333" stroke-width="1.1">Saarbrücken</text>
<text x="809" y="2486.8" font-size="64" font-weight="normal" fill="#333" text-anchor="start" textLength="290" lengthAdjust="spacingAndGlyphs" stroke="#333" stroke-width="1.1">Stuttgart</text>
<text x="1322" y="2596.7" font-size="64" font-weight="normal" fill="#333" text-anchor="start" textLength="300" lengthAdjust="spacingAndGlyphs" stroke="#333" stroke-width="1.1">München</text>
</g>
</g>
<g id="mapR" transform="translate(2343,0)">
<use href="#de" fill="#000" stroke="#000" stroke-width="14" stroke-linejoin="round" opacity="0.42" filter="url(#sh)" transform="translate(3,5)"/>
<use href="#de" fill="#fff" stroke="#fff" stroke-width="15" stroke-linejoin="round"/>
<g clip-path="url(#cl)">
<use href="#de" fill="#ff6600"/>
<path d="M319.7,929.5 L314.7,909.6 L322.2,869.6 L344.7,839.6 L389.7,824.6 L414.7,832.1 L409.7,847.1 L397.2,854.6 L394.7,874.6 L439.6,867.1 L447.1,894.6 L464.6,904.6 L469.6,919.6 L472.1,929.5 L439.6,939.5 L409.7,929.5 L374.7,924.5 L372.2,919.6 L324.7,922.1Z" fill="#fdbc8f" stroke="#747474" stroke-width="3" stroke-linejoin="round"/>
<path d="M771.9,467.4 L786.9,454.9 L794.4,467.4 L789.4,479.9 L774.4,482.4Z" fill="#fdbc8f" stroke="#747474" stroke-width="3" stroke-linejoin="round"/>
<path d="M899.3,607.3 L929.3,604.8 L934.3,629.8 L924.3,639.8 L909.3,634.8Z" fill="#fdbc8f" stroke="#747474" stroke-width="3" stroke-linejoin="round"/>
<path d="M884.3,684.7 L896.8,679.7 L899.3,704.7 L891.8,715.7 L881.8,709.7Z" fill="#fdbc8f" stroke="#747474" stroke-width="3" stroke-linejoin="round"/>
<path d="M829.3,767.2 L849.3,764.7 L859.3,784.7 L879.3,799.6 L889.3,809.6 L879.3,834.6 L869.3,849.6 L844.3,854.6 L819.3,839.6 L809.4,819.6 L819.3,799.6Z" fill="#fdbc8f" stroke="#747474" stroke-width="3" stroke-linejoin="round"/>
<path d="M849.3,859.6 L869.3,849.6 L879.3,834.6 L899.3,819.6 L924.3,812.1 L934.3,839.6 L924.3,864.6 L939.2,884.6 L959.2,909.6 L939.2,917.1 L919.3,904.6 L889.3,919.6 L864.3,904.6 L849.3,889.6Z" fill="#fdbc8f" stroke="#747474" stroke-width="3" stroke-linejoin="round"/>
<path d="M939.2,784.7 L959.2,769.7 L999.2,754.7 L1009.2,759.7 L1019.2,774.7 L1009.2,793.7 L979.2,804.6 L971.7,824.6 L986.7,842.1 L971.7,864.6 L946.7,882.1 L939.2,884.6 L924.3,864.6 L934.3,839.6 L924.3,812.1 L929.3,794.7Z" fill="#fdbc8f" stroke="#747474" stroke-width="3" stroke-linejoin="round"/>
<path d="M1009.2,759.7 L1054.2,744.7 L1064.1,732.2 L1056.7,757.2 L1039.2,774.7 L1014.2,793.7 L1019.2,774.7Z" fill="#fdbc8f" stroke="#747474" stroke-width="3" stroke-linejoin="round"/>
<path d="M819.3,924.5 L849.3,909.6 L889.3,919.6 L919.3,904.6 L939.2,917.1 L959.2,909.6 L979.2,919.6 L1029.2,929.5 L1064.1,944.5 L1099.1,979.5 L1124.1,1004.5 L1099.1,1019.5 L1074.1,1004.5 L1049.2,974.5 L1024.2,989.5 L994.2,984.5 L949.2,1009.5 L919.3,1024.5 L914.3,1004.5 L849.3,979.5 L824.3,959.5Z" fill="#fdbc8f" stroke="#747474" stroke-width="3" stroke-linejoin="round"/>
<path d="M629.5,1014.5 L649.5,1004.5 L694.4,1014.5 L699.4,1034.5 L689.4,1047 L664.5,1039.5 L644.5,1029.5Z" fill="#fdbc8f" stroke="#747474" stroke-width="3" stroke-linejoin="round"/>
<path d="M542.1,992 L562.1,987 L567,1009.5 L547.1,1017Z" fill="#fdbc8f" stroke="#747474" stroke-width="3" stroke-linejoin="round"/>
<path d="M1434.5,709.7 L1469.4,704.7 L1504.4,719.7 L1514.4,759.7 L1539.4,764.7 L1549.4,784.7 L1579.4,799.6 L1624.3,799.6 L1614.3,819.6 L1624.3,839.6 L1614.3,864.6 L1589.3,889.6 L1579.4,919.6 L1554.4,944.5 L1529.4,942 L1509.4,959.5 L1484.4,972 L1439.5,967 L1414.5,954.5 L1369.5,949.5 L1344.5,929.5 L1349.5,884.6 L1342,849.6 L1364.5,839.6 L1374.5,812.1 L1404.5,817.1 L1407,784.7 L1424.5,744.7Z" fill="#fdbc8f" stroke="#747474" stroke-width="3" stroke-linejoin="round"/>
<path d="M1469.4,704.7 L1509.4,679.7 L1519.4,659.8 L1529.4,644.8 L1559.4,669.8 L1594.3,644.8 L1619.3,639.8 L1649.3,669.8 L1704.3,714.7 L1694.3,739.7 L1639.3,744.7 L1669.3,764.7 L1714.2,769.7 L1719.2,789.7 L1729.2,809.6 L1744.2,859.6 L1764.2,909.6 L1754.2,909.6 L1729.2,924.5 L1699.3,929.5 L1709.2,914.6 L1724.2,889.6 L1709.2,874.6 L1664.3,879.6 L1639.3,859.6 L1629.3,839.6 L1624.3,839.6 L1614.3,819.6 L1624.3,799.6 L1579.4,799.6 L1549.4,784.7 L1539.4,764.7 L1514.4,759.7 L1504.4,719.7Z" fill="#fdbc8f" stroke="#747474" stroke-width="3" stroke-linejoin="round"/>
<path d="M1629.3,839.6 L1639.3,859.6 L1664.3,879.6 L1709.2,874.6 L1724.2,889.6 L1709.2,914.6 L1699.3,929.5 L1729.2,924.5 L1754.2,909.6 L1764.2,924.5 L1761.7,959.5 L1749.2,1004.5 L1719.2,1024.5 L1694.3,1029.5 L1669.3,1019.5 L1654.3,1004.5 L1619.3,1014.5 L1589.3,1027 L1564.4,1009.5 L1549.4,984.5 L1534.4,959.5 L1554.4,944.5 L1579.4,919.6 L1589.3,889.6 L1614.3,864.6Z" fill="#fdbc8f" stroke="#747474" stroke-width="3" stroke-linejoin="round"/>
<path d="M549.6,1109.9 L564.5,1094.9 L584.5,1099.9 L599.5,1119.9 L589.5,1134.9 L569.5,1149.9 L564.5,1164.9 L549.6,1169.9 L544.6,1199.8 L539.6,1224.8 L519.6,1229.8 L514.6,1209.8 L529.6,1169.9 L514.6,1149.9 L519.6,1129.9 L544.6,1124.9Z" fill="#fdbc8f" stroke="#747474" stroke-width="3" stroke-linejoin="round"/>
<path d="M779.4,1174.9 L809.4,1159.9 L829.3,1174.9 L844.3,1169.9 L864.3,1184.9 L894.3,1199.8 L914.3,1209.8 L949.2,1219.8 L959.2,1234.8 L934.3,1249.8 L924.3,1274.8 L904.3,1289.8 L864.3,1299.8 L859.3,1309.8 L839.3,1334.7 L819.3,1319.7 L799.4,1294.8 L786.9,1279.8 L784.4,1244.8 L764.4,1234.8 L754.4,1219.8 L779.4,1209.8Z" fill="#fdbc8f" stroke="#747474" stroke-width="3" stroke-linejoin="round"/>
<path d="M1031.7,1234.8 L1054.2,1214.8 L1076.6,1229.8 L1074.1,1254.8 L1059.2,1267.3 L1044.2,1259.8Z" fill="#fdbc8f" stroke="#747474" stroke-width="3" stroke-linejoin="round"/>
<path d="M989.2,1279.8 L1004.2,1264.8 L1024.2,1262.3 L1026.7,1284.8 L1014.2,1309.8 L994.2,1307.3Z" fill="#fdbc8f" stroke="#747474" stroke-width="3" stroke-linejoin="round"/>
<path d="M494.6,1279.8 L509.6,1269.8 L537.1,1282.3 L524.6,1299.8 L504.6,1302.3Z" fill="#fdbc8f" stroke="#747474" stroke-width="3" stroke-linejoin="round"/>
<path d="M404.7,1374.7 L419.7,1357.2 L444.6,1364.7 L454.6,1394.7 L439.6,1414.7 L424.7,1424.7 L409.7,1409.7 L399.7,1394.7Z" fill="#fdbc8f" stroke="#747474" stroke-width="3" stroke-linejoin="round"/>
<path d="M589.5,1359.7 L604.5,1344.7 L624.5,1349.7 L634.5,1369.7 L624.5,1399.7 L599.5,1402.2 L579.5,1387.2 L594.5,1374.7Z" fill="#fdbc8f" stroke="#747474" stroke-width="3" stroke-linejoin="round"/>
<path d="M239.8,1584.5 L259.8,1569.5 L299.8,1569.5 L324.7,1579.5 L329.7,1614.5 L319.7,1629.5 L349.7,1639.5 L344.7,1664.5 L359.7,1679.5 L354.7,1709.4 L369.7,1724.4 L349.7,1739.4 L319.7,1734.4 L299.8,1754.9 L264.8,1754.9 L259.8,1719.4 L269.8,1694.4 L249.8,1674.5 L214.8,1679.5 L184.9,1669.5 L184.9,1644.5 L199.8,1619.5 L219.8,1609.5 L234.8,1599.5Z" fill="#fdbc8f" stroke="#747474" stroke-width="3" stroke-linejoin="round"/>
<path d="M269.8,1499.6 L284.8,1489.6 L299.8,1504.6 L294.8,1519.6 L274.8,1519.6Z" fill="#fdbc8f" stroke="#747474" stroke-width="3" stroke-linejoin="round"/>
<path d="M369.7,1509.6 L424.7,1509.6 L424.7,1524.6 L369.7,1524.6Z" fill="#fdbc8f" stroke="#747474" stroke-width="3" stroke-linejoin="round"/>
<path d="M99.9,1724.4 L124.9,1719.4 L134.9,1739.4 L124.9,1754.9 L89.9,1754.9Z" fill="#fdbc8f" stroke="#747474" stroke-width="3" stroke-linejoin="round"/>
<path d="M919.3,1000 L974.2,1000 L964.2,1020 L934.3,1027.5 L914.3,1015Z" fill="#fdbc8f" stroke="#747474" stroke-width="3" stroke-linejoin="round"/>
<path d="M949.2,1629.5 L979.2,1619.5 L999.2,1599.5 L1019.2,1604.5 L1049.2,1624.5 L1089.1,1629.5 L1099.1,1649.5 L1089.1,1664.5 L1049.2,1669.5 L1039.2,1694.4 L999.2,1699.4 L994.2,1674.5 L959.2,1659.5 L944.2,1644.5Z" fill="#fdbc8f" stroke="#747474" stroke-width="3" stroke-linejoin="round"/>
<path d="M999.2,1699.4 L1039.2,1694.4 L1049.2,1669.5 L1089.1,1664.5 L1124.1,1674.5 L1149.1,1664.5 L1169.1,1679.5 L1199,1669.5 L1230,1674.5 L1230,1754.9 L1124.1,1754.9 L1099.1,1739.4 L1059.2,1749.4 L1039.2,1754.9 L1014.2,1754.9 L1009.2,1719.4Z" fill="#fdbc8f" stroke="#747474" stroke-width="3" stroke-linejoin="round"/>
<path d="M1019.2,1374.7 L1054.2,1362.2 L1099.1,1357.2 L1134.1,1367.2 L1144.1,1389.7 L1169.1,1384.7 L1179.1,1409.7 L1199,1449.6 L1189,1464.6 L1164.1,1479.6 L1144.1,1504.6 L1114.1,1494.6 L1089.1,1499.6 L1059.2,1469.6 L1039.2,1449.6 L1039.2,1414.7 L1029.2,1394.7Z" fill="#d5ccc8" stroke="#747474" stroke-width="3" stroke-linejoin="round"/>
<path d="M1044.2,1499.6 L1059.2,1492.1 L1084.1,1499.6 L1089.1,1529.6 L1099.1,1554.6 L1104.1,1559.6 L1074.1,1569.5 L1019.2,1574.5 L1009.2,1564.5 L1019.2,1529.6 L1034.2,1519.6Z" fill="#d5ccc8" stroke="#747474" stroke-width="3" stroke-linejoin="round"/>
<path d="M944.2,1669.5 L959.2,1659.5 L994.2,1674.5 L999.2,1699.4 L1009.2,1719.4 L1014.2,1754.9 L914.3,1754.9 L924.3,1719.4 L949.2,1699.4Z" fill="#d5ccc8" stroke="#747474" stroke-width="3" stroke-linejoin="round"/>
<path d="M1049.8,1094.9 L1094.7,1074.9 L1149.7,1082.4 L1189.7,1064.9 L1219.6,1069.9 L1209.6,1089.9 L1194.7,1099.9 L1199.7,1149.9 L1179.7,1164.9 L1214.6,1179.9 L1214.6,1219.8 L1194.7,1234.8 L1129.7,1229.8 L1114.7,1214.8 L1089.7,1204.8 L1089.7,1169.9 L1069.8,1139.9Z" fill="#fdbc8f" stroke="#747474" stroke-width="3" stroke-linejoin="round"/>
<path d="M1189.7,1064.9 L1194.7,1045 L1219.6,1030 L1259.6,1064.9 L1294.6,1079.9 L1319.6,1074.9 L1344.5,1094.9 L1334.5,1124.9 L1339.5,1159.9 L1329.6,1184.9 L1294.6,1189.8 L1297.1,1214.8 L1269.6,1249.8 L1254.6,1244.8 L1244.6,1219.8 L1214.6,1219.8 L1214.6,1179.9 L1179.7,1164.9 L1199.7,1149.9 L1194.7,1099.9 L1209.6,1089.9 L1219.6,1069.9Z" fill="#d5ccc8" stroke="#747474" stroke-width="3" stroke-linejoin="round"/>
<path d="M1379.5,1349.7 L1419.5,1359.7 L1439.5,1349.7 L1469.4,1369.7 L1504.4,1384.7 L1534.4,1394.7 L1544.4,1439.6 L1524.4,1469.6 L1504.4,1459.6 L1479.4,1459.6 L1439.5,1474.6 L1419.5,1479.6 L1384.5,1449.6 L1377,1424.7 L1369.5,1379.7Z" fill="#fdbc8f" stroke="#747474" stroke-width="3" stroke-linejoin="round"/>
<path d="M1284.6,1369.7 L1309.6,1349.7 L1344.5,1332.2 L1364.5,1339.7 L1379.5,1349.7 L1369.5,1379.7 L1377,1424.7 L1384.5,1449.6 L1419.5,1479.6 L1389.5,1494.6 L1349.5,1499.6 L1319.6,1479.6 L1279.6,1469.6 L1274.6,1439.6 L1279.6,1409.7 L1299.6,1389.7Z" fill="#d5ccc8" stroke="#747474" stroke-width="3" stroke-linejoin="round"/>
<path d="M1329.6,1389.7 L1349.5,1374.7 L1369.5,1379.7 L1377,1424.7 L1354.5,1434.7 L1334.5,1414.7Z" fill="#fdbc8f" stroke="#747474" stroke-width="3" stroke-linejoin="round"/>
<path d="M1519.4,1164.9 L1539.4,1144.9 L1569.4,1149.9 L1589.3,1132.4 L1599.3,1149.9 L1619.3,1169.9 L1624.3,1194.8 L1649.3,1204.8 L1639.3,1229.8 L1619.3,1219.8 L1589.3,1214.8 L1569.4,1224.8 L1539.4,1214.8 L1524.4,1219.8 L1519.4,1199.8Z" fill="#fdbc8f" stroke="#747474" stroke-width="3" stroke-linejoin="round"/>
<path d="M1479.4,1194.8 L1504.4,1189.8 L1519.4,1219.8 L1524.4,1239.8 L1504.4,1234.8 L1484.4,1219.8Z" fill="#fdbc8f" stroke="#747474" stroke-width="3" stroke-linejoin="round"/>
<path d="M1249.6,1504.6 L1269.6,1479.6 L1299.6,1474.6 L1319.6,1479.6 L1349.5,1499.6 L1344.5,1539.6 L1349.5,1574.5 L1339.5,1599.5 L1299.6,1614.5 L1269.6,1604.5 L1239.6,1599.5 L1209.6,1574.5 L1219.6,1559.6 L1259.6,1539.6Z" fill="#fdbc8f" stroke="#747474" stroke-width="3" stroke-linejoin="round"/>
<path d="M1284.6,1519.6 L1314.6,1514.6 L1324.6,1539.6 L1309.6,1554.6 L1289.6,1544.6Z" fill="#ff6600" stroke="#747474" stroke-width="3" stroke-linejoin="round"/>
<path d="M1789.2,1344.7 L1819.2,1329.7 L1869.1,1319.7 L1869.1,1499.6 L1861.6,1474.6 L1829.2,1499.6 L1809.2,1479.6 L1746.7,1494.6 L1756.7,1474.6 L1734.2,1449.6 L1739.2,1424.7 L1724.2,1389.7 L1749.2,1379.7 L1774.2,1369.7Z" fill="#fdbc8f" stroke="#747474" stroke-width="3" stroke-linejoin="round"/>
<path d="M1746.7,1494.6 L1809.2,1479.6 L1829.2,1499.6 L1819.2,1529.6 L1799.2,1549.6 L1824.2,1564.5 L1864.1,1604.5 L1839.1,1624.5 L1824.2,1644.5 L1789.2,1644.5 L1749.2,1634.5 L1734.2,1624.5 L1734.2,1599.5 L1684.3,1589.5 L1689.3,1559.6 L1719.2,1539.6 L1729.2,1514.6Z" fill="#fdbc8f" stroke="#747474" stroke-width="3" stroke-linejoin="round"/>
<path d="M1619.3,1654.5 L1644.3,1639.5 L1664.3,1619.5 L1684.3,1624.5 L1719.2,1629.5 L1734.2,1624.5 L1749.2,1634.5 L1789.2,1644.5 L1794.2,1659.5 L1794.2,1684.5 L1809.2,1699.4 L1764.2,1719.4 L1719.2,1754.9 L1684.3,1754.9 L1649.3,1719.4 L1619.3,1699.4 L1614.3,1669.5Z" fill="#fdbc8f" stroke="#747474" stroke-width="3" stroke-linejoin="round"/>
<path d="M949.9,1644.5 L979.8,1609.5 L1009.8,1599.5 L1034.8,1604.5 L1049.8,1624.5 L1089.7,1629.5 L1094.7,1649.5 L1089.7,1669.5 L1049.8,1664.5 L1019.8,1674.5 L989.8,1669.5 L969.8,1654.5Z" fill="#fdbc8f" stroke="#747474" stroke-width="3" stroke-linejoin="round"/>
<path d="M1534.4,1394.7 L1559.4,1409.7 L1589.3,1399.7 L1619.3,1389.7 L1624.3,1419.7 L1644.3,1424.7 L1674.3,1409.7 L1684.3,1379.7 L1724.2,1389.7 L1739.2,1424.7 L1734.2,1449.6 L1756.7,1474.6 L1746.7,1494.6 L1729.2,1514.6 L1719.2,1539.6 L1689.3,1529.6 L1659.3,1539.6 L1619.3,1544.6 L1589.3,1542.1 L1559.4,1549.6 L1549.4,1514.6 L1534.4,1484.6 L1524.4,1469.6 L1544.4,1439.6Z" fill="#d5ccc8" stroke="#747474" stroke-width="3" stroke-linejoin="round"/>
<path d="M1829.2,1499.6 L1861.6,1474.6 L1914.1,1504.6 L1969,1549.6 L1969,1749.4 L1869.1,1704.4 L1856.6,1674.5 L1829.2,1644.5 L1839.1,1624.5 L1864.1,1604.5 L1824.2,1564.5 L1799.2,1549.6 L1819.2,1529.6Z" fill="#d5ccc8" stroke="#747474" stroke-width="3" stroke-linejoin="round"/>
<path d="M1199.7,1609.5 L1219.6,1599.5 L1239.6,1599.5 L1269.6,1604.5 L1299.6,1614.5 L1339.5,1599.5 L1352,1629.5 L1359.5,1649.5 L1374.5,1664.5 L1369.5,1699.4 L1314.6,1694.4 L1294.6,1674.5 L1259.6,1659.5 L1209.6,1649.5 L1199.7,1624.5Z" fill="#d5ccc8" stroke="#747474" stroke-width="3" stroke-linejoin="round"/>
<path d="M1374.5,1664.5 L1419.5,1664.5 L1444.5,1689.4 L1469.4,1699.4 L1489.4,1664.5 L1499.4,1624.5 L1519.4,1609.5 L1559.4,1614.5 L1569.4,1624.5 L1579.4,1664.5 L1614.3,1669.5 L1619.3,1699.4 L1649.3,1719.4 L1684.3,1754.9 L1549.4,1754.9 L1479.4,1724.4 L1439.5,1714.4 L1409.5,1719.4 L1379.5,1744.4 L1364.5,1729.4 L1369.5,1699.4Z" fill="#d5ccc8" stroke="#747474" stroke-width="3" stroke-linejoin="round"/>
<path d="M1179.7,1379.7 L1204.7,1369.7 L1219.6,1359.7 L1249.6,1349.7 L1269.6,1349.7 L1284.6,1369.7 L1299.6,1389.7 L1279.6,1409.7 L1274.6,1439.6 L1279.6,1469.6 L1259.6,1484.6 L1239.6,1479.6 L1219.6,1464.6 L1199.7,1459.6 L1189.7,1439.6 L1184.7,1409.7Z" fill="#505050" stroke="#747474" stroke-width="3" stroke-linejoin="round"/>
<path d="M1089.7,1499.6 L1119.7,1504.6 L1149.7,1494.6 L1169.7,1479.6 L1184.7,1459.6 L1199.7,1459.6 L1219.6,1464.6 L1239.6,1479.6 L1259.6,1484.6 L1249.6,1504.6 L1259.6,1539.6 L1239.6,1549.6 L1209.6,1564.5 L1199.7,1589.5 L1169.7,1564.5 L1149.7,1569.5 L1119.7,1574.5 L1099.7,1559.6 L1094.7,1529.6Z" fill="#505050" stroke="#747474" stroke-width="3" stroke-linejoin="round"/>
<path d="M1009.8,1584.5 L1039.8,1574.5 L1069.8,1564.5 L1099.7,1559.6 L1119.7,1574.5 L1149.7,1569.5 L1169.7,1564.5 L1199.7,1589.5 L1199.7,1609.5 L1169.7,1614.5 L1144.7,1599.5 L1119.7,1594.5 L1109.7,1619.5 L1079.8,1629.5 L1054.8,1619.5 L1039.8,1599.5Z" fill="#505050" stroke="#747474" stroke-width="3" stroke-linejoin="round"/>
<path d="M89.9,1739.9 L114.9,1714.9 L129.9,1724.9 L124.9,1744.9 L144.9,1759.9 L149.9,1789.9 L159.9,1809.9 L154.9,1839.8 L139.9,1849.8 L124.9,1809.9 L94.9,1779.9 L79.9,1754.9Z" fill="#fdbc8f" stroke="#747474" stroke-width="3" stroke-linejoin="round"/>
<path d="M184.9,1655 L199.8,1640 L369.7,1640 L359.7,1670 L344.7,1690 L319.7,1704.9 L309.8,1739.9 L289.8,1749.9 L269.8,1734.9 L254.8,1714.9 L259.8,1695 L239.8,1680 L219.8,1670 L199.8,1680 L184.9,1670Z" fill="#fdbc8f" stroke="#747474" stroke-width="3" stroke-linejoin="round"/>
<path d="M299.8,1779.9 L319.7,1772.4 L329.7,1789.9 L324.7,1809.9 L299.8,1807.4Z" fill="#fdbc8f" stroke="#747474" stroke-width="3" stroke-linejoin="round"/>
<path d="M244.8,1879.8 L259.8,1859.8 L284.8,1854.8 L299.8,1874.8 L294.8,1894.8 L279.8,1914.8 L259.8,1919.8 L244.8,1899.8Z" fill="#fdbc8f" stroke="#747474" stroke-width="3" stroke-linejoin="round"/>
<path d="M604.5,1819.9 L629.5,1804.9 L664.5,1802.4 L689.4,1799.9 L704.4,1819.9 L729.4,1844.8 L714.4,1859.8 L694.4,1864.8 L689.4,1884.8 L669.5,1884.8 L654.5,1869.8 L634.5,1859.8 L624.5,1839.8Z" fill="#fdbc8f" stroke="#747474" stroke-width="3" stroke-linejoin="round"/>
<path d="M564.5,1969.7 L599.5,1964.7 L629.5,1959.7 L649.5,1984.7 L674.5,1989.7 L699.4,2004.7 L709.4,2029.7 L709.4,2069.7 L699.4,2079.6 L664.5,2089.6 L649.5,2114.6 L614.5,2119.6 L589.5,2104.6 L569.5,2069.7 L549.6,2029.7 L544.6,2004.7 L564.5,1994.7Z" fill="#fdbc8f" stroke="#747474" stroke-width="3" stroke-linejoin="round"/>
<path d="M429.7,2009.7 L449.6,1999.7 L469.6,2019.7 L499.6,2034.7 L524.6,2029.7 L544.6,2034.7 L564.5,2064.7 L569.5,2094.6 L544.6,2099.6 L534.6,2069.7 L499.6,2044.7 L469.6,2039.7 L449.6,2024.7Z" fill="#fdbc8f" stroke="#747474" stroke-width="3" stroke-linejoin="round"/>
<path d="M194.8,2089.6 L214.8,2069.7 L224.8,2089.6 L214.8,2114.6 L194.8,2109.6Z" fill="#fdbc8f" stroke="#747474" stroke-width="3" stroke-linejoin="round"/>
<path d="M549.6,2159.6 L579.5,2154.6 L589.5,2189.6 L584.5,2239.5 L564.5,2259.5 L549.6,2239.5Z" fill="#fdbc8f" stroke="#747474" stroke-width="3" stroke-linejoin="round"/>
<path d="M589.5,2189.6 L619.5,2179.6 L644.5,2189.6 L669.5,2204.5 L699.4,2189.6 L719.4,2184.6 L709.4,2204.5 L679.5,2219.5 L664.5,2239.5 L629.5,2234.5 L599.5,2219.5Z" fill="#fdbc8f" stroke="#747474" stroke-width="3" stroke-linejoin="round"/>
<path d="M504.6,2329.4 L514.6,2304.5 L524.6,2284.5 L549.6,2284.5 L569.5,2259.5 L579.5,2274.5 L569.5,2309.5 L559.6,2329.4 L529.6,2361.9 L504.6,2351.9Z" fill="#fdbc8f" stroke="#747474" stroke-width="3" stroke-linejoin="round"/>
<path d="M914.3,2009.7 L939.2,1984.7 L979.2,1959.7 L999.2,1964.7 L1004.2,1989.7 L994.2,2014.7 L1019.2,2039.7 L1014.2,2064.7 L994.2,2074.7 L969.2,2059.7 L939.2,2054.7 L924.3,2034.7Z" fill="#fdbc8f" stroke="#747474" stroke-width="3" stroke-linejoin="round"/>
<path d="M889.3,2089.6 L904.3,2074.7 L919.3,2089.6 L909.3,2114.6 L889.3,2109.6Z" fill="#fdbc8f" stroke="#747474" stroke-width="3" stroke-linejoin="round"/>
<path d="M1086.6,2049.7 L1109.1,2044.7 L1114.1,2069.7 L1094.1,2074.7Z" fill="#fdbc8f" stroke="#747474" stroke-width="3" stroke-linejoin="round"/>
<path d="M954.2,1640 L1230,1640 L1230,1754.9 L1199,1764.9 L1169.1,1759.9 L1144.1,1774.9 L1124.1,1799.9 L1099.1,1809.9 L1074.1,1804.9 L1049.2,1829.8 L1024.2,1839.8 L994.2,1829.8 L959.2,1839.8 L929.3,1834.8 L924.3,1809.9 L949.2,1784.9 L959.2,1754.9 L979.2,1729.9 L994.2,1704.9 L1024.2,1685 L999.2,1670 L974.2,1660Z" fill="#fdbc8f" stroke="#747474" stroke-width="3" stroke-linejoin="round"/>
<path d="M939.2,1655 L969.2,1655 L994.2,1670 L1019.2,1685 L994.2,1704.9 L979.2,1729.9 L959.2,1754.9 L949.2,1784.9 L924.3,1809.9 L899.3,1809.9 L889.3,1789.9 L899.3,1759.9 L914.3,1729.9 L914.3,1700 L934.3,1685Z" fill="#d5ccc8" stroke="#747474" stroke-width="3" stroke-linejoin="round"/>
<path d="M1024.2,1844.8 L1049.2,1829.8 L1074.1,1834.8 L1099.1,1849.8 L1124.1,1859.8 L1149.1,1849.8 L1174.1,1864.8 L1169.1,1899.8 L1159.1,1929.8 L1139.1,1914.8 L1124.1,1894.8 L1089.1,1899.8 L1064.1,1909.8 L1084.1,1934.8 L1064.1,1954.7 L1044.2,1939.8 L1034.2,1909.8 L1009.2,1899.8 L1009.2,1874.8Z" fill="#d5ccc8" stroke="#747474" stroke-width="3" stroke-linejoin="round"/>
<path d="M1034.2,1824.9 L1054.2,1807.4 L1079.1,1814.9 L1084.1,1834.8 L1054.2,1839.8Z" fill="#505050" stroke="#747474" stroke-width="3" stroke-linejoin="round"/>
<path d="M954.9,1640 L1089.7,1640 L1089.7,1670 L1109.7,1690 L1129.7,1675 L1149.7,1665 L1149.7,1690 L1139.7,1719.9 L1149.7,1774.9 L1129.7,1794.9 L1119.7,1824.9 L1114.7,1839.8 L1089.7,1839.8 L1069.8,1814.9 L1049.8,1804.9 L1029.8,1824.9 L1019.8,1849.8 L989.8,1859.8 L959.8,1844.8 L929.9,1839.8 L924.9,1814.9 L939.9,1804.9 L949.9,1779.9 L979.8,1764.9 L1004.8,1739.9 L1009.8,1704.9 L1029.8,1690 L989.8,1670 L969.8,1655Z" fill="#fdbc8f" stroke="#747474" stroke-width="3" stroke-linejoin="round"/>
<path d="M939.9,1655 L969.8,1655 L989.8,1670 L1029.8,1690 L1009.8,1704.9 L1004.8,1739.9 L979.8,1764.9 L949.9,1779.9 L939.9,1804.9 L894.9,1809.9 L884.9,1789.9 L914.9,1739.9 L914.9,1700 L944.9,1680Z" fill="#d5ccc8" stroke="#747474" stroke-width="3" stroke-linejoin="round"/>
<path d="M1149.7,1665 L1204.7,1660 L1249.6,1670 L1219.6,1690 L1214.6,1714.9 L1204.7,1739.9 L1204.7,1759.9 L1159.7,1759.9 L1149.7,1774.9 L1139.7,1719.9 L1149.7,1690Z" fill="#fdbc8f" stroke="#747474" stroke-width="3" stroke-linejoin="round"/>
<path d="M1219.6,1704.9 L1244.6,1700 L1252.1,1724.9 L1234.6,1739.9 L1219.6,1729.9Z" fill="#d5ccc8" stroke="#747474" stroke-width="3" stroke-linejoin="round"/>
<path d="M1129.7,1799.9 L1159.7,1759.9 L1204.7,1759.9 L1219.6,1779.9 L1239.6,1824.9 L1219.6,1839.8 L1214.6,1864.8 L1194.7,1849.8 L1169.7,1859.8 L1149.7,1839.8 L1119.7,1844.8Z" fill="#505050" stroke="#747474" stroke-width="3" stroke-linejoin="round"/>
<path d="M1029.8,1824.9 L1049.8,1804.9 L1069.8,1802.4 L1084.7,1819.9 L1069.8,1839.8 L1049.8,1829.8Z" fill="#505050" stroke="#747474" stroke-width="3" stroke-linejoin="round"/>
<path d="M1219.6,1779.9 L1249.6,1769.9 L1294.6,1759.9 L1304.6,1784.9 L1294.6,1804.9 L1309.6,1839.8 L1299.6,1874.8 L1269.6,1884.8 L1224.6,1889.8 L1214.6,1864.8 L1219.6,1839.8 L1239.6,1824.9Z" fill="#d5ccc8" stroke="#747474" stroke-width="3" stroke-linejoin="round"/>
<path d="M1024.8,1839.8 L1049.8,1829.8 L1069.8,1839.8 L1089.7,1839.8 L1114.7,1839.8 L1119.7,1844.8 L1149.7,1839.8 L1169.7,1859.8 L1164.7,1899.8 L1169.7,1929.8 L1154.7,1924.8 L1139.7,1904.8 L1109.7,1894.8 L1079.8,1899.8 L1059.8,1909.8 L1064.8,1929.8 L1084.7,1939.8 L1059.8,1954.7 L1039.8,1934.8 L1034.8,1909.8 L1009.8,1889.8Z" fill="#d5ccc8" stroke="#747474" stroke-width="3" stroke-linejoin="round"/>
<path d="M1299.6,1729.9 L1319.6,1709.9 L1324.6,1754.9 L1369.5,1749.9 L1374.5,1744.9 L1409.5,1724.9 L1449.5,1709.9 L1479.4,1734.9 L1484.4,1754.9 L1509.4,1764.9 L1534.4,1754.9 L1569.4,1754.9 L1599.3,1764.9 L1629.3,1794.9 L1594.3,1814.9 L1569.4,1834.8 L1534.4,1849.8 L1519.4,1874.8 L1484.4,1869.8 L1439.5,1884.8 L1419.5,1909.8 L1399.5,1952.3 L1377,1934.8 L1354.5,1917.3 L1319.6,1884.8 L1299.6,1874.8 L1309.6,1839.8 L1294.6,1804.9 L1304.6,1784.9 L1294.6,1759.9Z" fill="#505050" stroke="#747474" stroke-width="3" stroke-linejoin="round"/>
<path d="M1479.4,1734.9 L1504.4,1714.9 L1534.4,1724.9 L1534.4,1754.9 L1509.4,1764.9 L1484.4,1754.9Z" fill="#ff6600" stroke="#747474" stroke-width="3" stroke-linejoin="round"/>
<path d="M1322.1,1709.9 L1349.5,1707.4 L1352,1749.9 L1324.6,1754.9Z" fill="#ff6600" stroke="#747474" stroke-width="3" stroke-linejoin="round"/>
<path d="M1374.5,1670 L1394.5,1660 L1419.5,1665 L1449.5,1709.9 L1409.5,1724.9 L1374.5,1744.9 L1364.5,1704.9Z" fill="#d5ccc8" stroke="#747474" stroke-width="3" stroke-linejoin="round"/>
<path d="M1449.5,1709.9 L1464.4,1685 L1469.4,1655 L1509.4,1640 L1569.4,1640 L1579.4,1670 L1614.3,1680 L1629.3,1714.9 L1649.3,1754.9 L1629.3,1794.9 L1599.3,1764.9 L1569.4,1754.9 L1534.4,1754.9 L1534.4,1724.9 L1504.4,1714.9 L1479.4,1734.9Z" fill="#d5ccc8" stroke="#747474" stroke-width="3" stroke-linejoin="round"/>
<path d="M1294.6,1984.7 L1319.6,1959.7 L1349.5,1944.8 L1369.5,1959.7 L1384.5,1989.7 L1369.5,2009.7 L1314.6,2024.7 L1304.6,2004.7Z" fill="#fdbc8f" stroke="#747474" stroke-width="3" stroke-linejoin="round"/>
<path d="M909.9,2009.7 L939.9,1984.7 L979.8,1969.7 L994.8,1954.7 L1004.8,1964.7 L994.8,1999.7 L1009.8,2034.7 L1019.8,2054.7 L1004.8,2064.7 L969.8,2054.7 L934.9,2044.7 L919.9,2029.7Z" fill="#fdbc8f" stroke="#747474" stroke-width="3" stroke-linejoin="round"/>
<path d="M1087.2,2054.7 L1104.7,2047.2 L1114.7,2062.2 L1104.7,2074.7 L1089.7,2069.7Z" fill="#fdbc8f" stroke="#747474" stroke-width="3" stroke-linejoin="round"/>
<path d="M1224.6,2034.7 L1249.6,2027.2 L1262.1,2039.7 L1249.6,2054.7 L1229.6,2049.7Z" fill="#fdbc8f" stroke="#747474" stroke-width="3" stroke-linejoin="round"/>
<path d="M1352,2114.6 L1374.5,2109.6 L1392,2124.6 L1379.5,2139.6 L1357,2134.6Z" fill="#fdbc8f" stroke="#747474" stroke-width="3" stroke-linejoin="round"/>
<path d="M1292.1,2189.6 L1309.6,2179.6 L1319.6,2194.6 L1309.6,2209.5 L1294.6,2204.5Z" fill="#fdbc8f" stroke="#747474" stroke-width="3" stroke-linejoin="round"/>
<path d="M887.4,2089.6 L904.9,2079.6 L914.9,2099.6 L904.9,2119.6 L889.9,2109.6Z" fill="#fdbc8f" stroke="#747474" stroke-width="3" stroke-linejoin="round"/>
<path d="M1017.3,2247 L1039.8,2239.5 L1054.8,2254.5 L1042.3,2269.5 L1019.8,2264.5Z" fill="#fdbc8f" stroke="#747474" stroke-width="3" stroke-linejoin="round"/>
<path d="M1044.8,2119.6 L1069.8,2099.6 L1099.7,2089.6 L1119.7,2094.6 L1149.7,2074.7 L1179.7,2079.6 L1199.7,2099.6 L1194.7,2129.6 L1219.6,2139.6 L1249.6,2139.6 L1239.6,2164.6 L1249.6,2184.6 L1234.6,2204.5 L1214.6,2219.5 L1194.7,2244.5 L1169.7,2229.5 L1159.7,2204.5 L1129.7,2234.5 L1099.7,2224.5 L1069.8,2204.5 L1064.8,2184.6 L1089.7,2169.6 L1074.8,2139.6 L1049.8,2134.6Z" fill="#fdbc8f" stroke="#747474" stroke-width="3" stroke-linejoin="round"/>
<path d="M770,2229.5 L800,2224.5 L834.9,2214.5 L879.9,2229.5 L874.9,2259.5 L854.9,2284.5 L820,2304.5 L800,2324.5 L770,2329.4Z" fill="#fdbc8f" stroke="#747474" stroke-width="3" stroke-linejoin="round"/>
<path d="M780,2349.4 L820,2329.4 L849.9,2349.4 L889.9,2359.4 L919.9,2339.4 L959.8,2334.4 L989.8,2349.4 L1004.8,2369.4 L1014.8,2394.9 L770,2394.9Z" fill="#fdbc8f" stroke="#747474" stroke-width="3" stroke-linejoin="round"/>
<path d="M1269.6,2309.5 L1309.6,2284.5 L1344.5,2289.5 L1379.5,2274.5 L1399.5,2299.5 L1434.5,2309.5 L1444.5,2339.4 L1434.5,2364.4 L1439.5,2394.9 L1159.7,2394.9 L1169.7,2359.4 L1209.6,2339.4 L1239.6,2329.4 L1259.6,2324.5Z" fill="#fdbc8f" stroke="#747474" stroke-width="3" stroke-linejoin="round"/>
<path d="M1457,2366.9 L1479.4,2359.4 L1489.4,2374.4 L1474.4,2389.4 L1459.4,2384.4Z" fill="#fdbc8f" stroke="#747474" stroke-width="3" stroke-linejoin="round"/>
<path d="M669.5,2296.9 L699.4,2271.9 L719.4,2266.9 L759.4,2242 L799.4,2227 L839.3,2217 L879.3,2232 L869.3,2261.9 L849.3,2286.9 L819.3,2301.9 L804.4,2321.9 L824.3,2336.9 L844.3,2361.9 L874.3,2366.9 L909.3,2341.9 L949.2,2341.9 L989.2,2351.9 L1009.2,2376.9 L1014.2,2411.8 L1004.2,2431.8 L989.2,2436.8 L969.2,2461.8 L849.3,2461.8 L839.3,2496.8 L829.3,2516.7 L844.3,2546.7 L829.3,2576.7 L814.3,2596.7 L799.4,2611.7 L779.4,2601.7 L759.4,2586.7 L739.4,2596.7 L739.4,2626.7 L699.4,2636.6 L669.5,2626.7 L644.5,2606.7 L629.5,2581.7 L649.5,2546.7 L659.5,2526.7 L649.5,2496.8 L659.5,2466.8 L669.5,2436.8 L684.5,2396.8 L684.5,2361.9 L674.5,2326.9Z" fill="#fdbc8f" stroke="#747474" stroke-width="3" stroke-linejoin="round"/>
<path d="M389.7,2751.6 L439.6,2741.6 L464.6,2721.6 L499.6,2726.6 L524.6,2751.6 L544.6,2731.6 L579.5,2726.6 L599.5,2741.6 L619.5,2741.6 L634.5,2716.6 L664.5,2706.6 L709.4,2701.6 L734.4,2726.6 L764.4,2726.6 L789.4,2736.6 L784.4,2706.6 L799.4,2691.6 L829.3,2681.6 L879.3,2691.6 L934.3,2686.6 L939.2,2716.6 L949.2,2736.6 L949.2,2996.4 L349.7,2996.4 L349.7,2771.5Z" fill="#fdbc8f" stroke="#747474" stroke-width="3" stroke-linejoin="round"/>
<path d="M414.7,2671.6 L434.7,2666.6 L444.6,2656.6 L464.6,2666.6 L469.6,2691.6 L454.6,2701.6 L439.6,2686.6 L419.7,2686.6Z" fill="#fdbc8f" stroke="#747474" stroke-width="3" stroke-linejoin="round"/>
<path d="M627,2386.8 L644.5,2376.9 L659.5,2389.3 L652,2406.8 L632,2404.3Z" fill="#fdbc8f" stroke="#747474" stroke-width="3" stroke-linejoin="round"/>
<path d="M504.6,2321.9 L524.6,2296.9 L549.6,2281.9 L569.5,2281.9 L564.5,2306.9 L554.6,2331.9 L589.5,2331.9 L599.5,2346.9 L589.5,2366.9 L554.6,2356.9 L532.1,2361.9 L504.6,2351.9Z" fill="#fdbc8f" stroke="#747474" stroke-width="3" stroke-linejoin="round"/>
<path d="M924.3,2546.7 L959.2,2526.7 L994.2,2516.7 L1029.2,2521.7 L1034.2,2546.7 L1029.2,2576.7 L1044.2,2606.7 L999.2,2621.7 L979.2,2606.7 L959.2,2636.6 L944.2,2626.7 L934.3,2586.7Z" fill="#fdbc8f" stroke="#747474" stroke-width="3" stroke-linejoin="round"/>
<path d="M674.5,2304.5 L699.4,2284.5 L734.4,2269.5 L759.4,2239.5 L799.4,2224.5 L839.3,2214.5 L879.3,2234.5 L869.3,2264.5 L849.3,2284.5 L809.4,2304.5 L799.4,2324.5 L829.3,2339.4 L849.3,2359.4 L829.3,2394.9 L694.4,2394.9 L679.5,2359.4 L669.5,2329.4Z" fill="#fdbc8f" stroke="#747474" stroke-width="3" stroke-linejoin="round"/>
<path d="M770,2227 L800,2227 L834.9,2217 L879.9,2227 L879.9,2257 L859.9,2281.9 L839.9,2306.9 L810,2316.9 L770,2296.9Z" fill="#fdbc8f" stroke="#747474" stroke-width="3" stroke-linejoin="round"/>
<path d="M770,2341.9 L800,2326.9 L830,2346.9 L869.9,2371.9 L894.9,2366.9 L914.9,2341.9 L944.9,2336.9 L979.8,2346.9 L1004.8,2371.9 L1014.8,2406.8 L1009.8,2426.8 L944.9,2431.8 L869.9,2416.8 L820,2426.8 L770,2426.8Z" fill="#fdbc8f" stroke="#747474" stroke-width="3" stroke-linejoin="round"/>
<path d="M770,2496.8 L810,2501.8 L834.9,2516.7 L839.9,2546.7 L820,2586.7 L800,2611.7 L770,2611.7Z" fill="#fdbc8f" stroke="#747474" stroke-width="3" stroke-linejoin="round"/>
<path d="M770,2706.6 L790,2696.6 L820,2676.6 L859.9,2686.6 L904.9,2676.6 L939.9,2691.6 L944.9,2726.6 L969.8,2726.6 L999.8,2711.6 L1004.8,2691.6 L1039.8,2696.6 L1069.8,2656.6 L1089.7,2636.6 L1094.7,2596.7 L1114.7,2596.7 L1114.7,2546.7 L1099.7,2521.7 L1109.7,2496.8 L1129.7,2476.8 L1139.7,2446.8 L1129.7,2406.8 L1139.7,2386.8 L1169.7,2336.9 L1199.7,2341.9 L1239.6,2326.9 L1269.6,2341.9 L1274.6,2311.9 L1299.6,2291.9 L1334.5,2281.9 L1359.5,2286.9 L1379.5,2271.9 L1404.5,2286.9 L1429.5,2311.9 L1444.5,2336.9 L1434.5,2366.9 L1414.5,2386.8 L1384.5,2401.8 L1364.5,2416.8 L1329.6,2431.8 L1324.6,2461.8 L1294.6,2476.8 L1274.6,2486.8 L1244.6,2526.7 L1254.6,2561.7 L1274.6,2576.7 L1309.6,2566.7 L1319.6,2536.7 L1349.5,2521.7 L1384.5,2536.7 L1374.5,2576.7 L1364.5,2601.7 L1389.5,2626.7 L1419.5,2616.7 L1459.4,2621.7 L1479.4,2616.7 L1499.4,2641.6 L1519.4,2626.7 L1534.4,2601.7 L1619.3,2746.6 L1619.3,2996.4 L720,2996.4 L720,2746.6Z" fill="#fdbc8f" stroke="#747474" stroke-width="3" stroke-linejoin="round"/>
<path d="M1044.8,2706.6 L1057.3,2699.1 L1067.3,2711.6 L1062.3,2724.1 L1047.3,2721.6Z" fill="#ff6600" stroke="#747474" stroke-width="3" stroke-linejoin="round"/>
<path d="M1372,2709.1 L1384.5,2701.6 L1392,2714.1 L1387,2724.1 L1374.5,2721.6Z" fill="#ff6600" stroke="#747474" stroke-width="3" stroke-linejoin="round"/>
<path d="M1629.3,2456.8 L1664.3,2451.8 L1669.3,2466.8 L1649.3,2474.3Z" fill="#fdbc8f" stroke="#747474" stroke-width="3" stroke-linejoin="round"/>
<path d="M1069.8,2197 L1129.7,2197 L1149.7,2217 L1139.7,2242 L1119.7,2247 L1094.7,2227Z" fill="#fdbc8f" stroke="#747474" stroke-width="3" stroke-linejoin="round"/>
<path d="M1164.7,2197 L1219.6,2197 L1204.7,2227 L1179.7,2242 L1159.7,2222Z" fill="#fdbc8f" stroke="#747474" stroke-width="3" stroke-linejoin="round"/>
<path d="M1017.3,2244.5 L1042.3,2237 L1054.8,2257 L1042.3,2271.9 L1019.8,2266.9Z" fill="#fdbc8f" stroke="#747474" stroke-width="3" stroke-linejoin="round"/>
<path d="M1452,2369.4 L1479.4,2361.9 L1489.4,2374.4 L1469.4,2386.8 L1452,2381.9Z" fill="#fdbc8f" stroke="#747474" stroke-width="3" stroke-linejoin="round"/>
<use href="#vor"/>
<use href="#stb"/>
</g>
<use href="#de" fill="none" stroke="#464646" stroke-width="5.4" stroke-linejoin="round"/>
<use href="#lab"/>
</g>
<g font-family="Liberation Sans, sans-serif">
<text x="44" y="103.6" font-size="77" font-weight="bold" fill="#404040" text-anchor="start" textLength="1321" lengthAdjust="spacingAndGlyphs" stroke="#404040" stroke-width="1.8">CBRE-EMPIRICA-LEERSTANDSINDEX</text>
<text x="45.7" y="216.3" font-size="77" font-weight="bold" fill="#404040" text-anchor="start" textLength="1115" lengthAdjust="spacingAndGlyphs" stroke="#404040" stroke-width="1.8">MARKTAKTIVER LEERSTAND IN</text>
<text x="44" y="321.1" font-size="77" font-weight="bold" fill="#404040" text-anchor="start" textLength="915.7" lengthAdjust="spacingAndGlyphs" stroke="#404040" stroke-width="1.8">GESCHOSSWOHNUNGEN</text>
<text x="2130" y="218.5" font-size="75" font-weight="bold" fill="#3f3f3f" text-anchor="start" textLength="208" lengthAdjust="spacingAndGlyphs" stroke="#3f3f3f" stroke-width="3">2024</text>
<text x="4453" y="110.3" font-size="75" font-weight="bold" fill="#8c8c8c" text-anchor="start" textLength="206" lengthAdjust="spacingAndGlyphs" stroke="#8c8c8c" stroke-width="3">2019</text>
<text x="4449" y="218.5" font-size="75" font-weight="bold" fill="#3f3f3f" text-anchor="start" textLength="209" lengthAdjust="spacingAndGlyphs" stroke="#3f3f3f" stroke-width="3">2024</text>
<text x="2059" y="416.5" font-size="77" font-weight="bold" fill="#404040" text-anchor="start" textLength="258.7" lengthAdjust="spacingAndGlyphs" stroke="#404040" stroke-width="1.8">QUOTE</text>
<text x="4067" y="416" font-size="77" font-weight="bold" fill="#404040" text-anchor="start" textLength="568.7" lengthAdjust="spacingAndGlyphs" stroke="#404040" stroke-width="1.8">VERÄNDERUNG</text>
<rect x="2225" y="470" width="93.5" height="93.5" fill="#fce9dc" stroke="#777" stroke-width="3" rx="2"/>
<text x="2067" y="540" font-size="64" font-weight="normal" fill="#404040" text-anchor="start" textLength="132" lengthAdjust="spacingAndGlyphs" >&lt; 2%</text>
<rect x="2225" y="629.5" width="93.5" height="93.5" fill="#fdc8a5" stroke="#777" stroke-width="3" rx="2"/>
<text x="2064" y="699.5" font-size="64" font-weight="normal" fill="#404040" text-anchor="start" textLength="135" lengthAdjust="spacingAndGlyphs" >&lt; 4%</text>
<rect x="2225" y="789" width="93.5" height="93.5" fill="#fda76e" stroke="#777" stroke-width="3" rx="2"/>
<text x="2060" y="859" font-size="64" font-weight="normal" fill="#404040" text-anchor="start" textLength="139" lengthAdjust="spacingAndGlyphs" >&lt; 6%</text>
<rect x="2225" y="948.5" width="93.5" height="93.5" fill="#fe8737" stroke="#777" stroke-width="3" rx="2"/>
<text x="2061" y="1018.5" font-size="64" font-weight="normal" fill="#404040" text-anchor="start" textLength="138" lengthAdjust="spacingAndGlyphs" >&lt; 8%</text>
<rect x="2225" y="1108" width="93.5" height="93.5" fill="#ff6600" stroke="#777" stroke-width="3" rx="2"/>
<text x="2068" y="1178" font-size="64" font-weight="normal" fill="#404040" text-anchor="start" textLength="131" lengthAdjust="spacingAndGlyphs" >≥ 8%</text>
<rect x="4544" y="470" width="93.5" height="93.5" fill="#ff6600" stroke="#777" stroke-width="3" rx="2"/>
<text x="4300" y="540" font-size="64" font-weight="normal" fill="#404040" text-anchor="start" textLength="218" lengthAdjust="spacingAndGlyphs" >&lt; -0,5%</text>
<rect x="4544" y="629" width="93.5" height="93.5" fill="#fdbc8f" stroke="#777" stroke-width="3" rx="2"/>
<text x="4380" y="699" font-size="64" font-weight="normal" fill="#404040" text-anchor="start" textLength="138" lengthAdjust="spacingAndGlyphs" >&lt; 0%</text>
<rect x="4544" y="788" width="93.5" height="93.5" fill="#d5ccc8" stroke="#777" stroke-width="3" rx="2"/>
<text x="4300" y="858" font-size="64" font-weight="normal" fill="#404040" text-anchor="start" textLength="218" lengthAdjust="spacingAndGlyphs" >&lt; +0,5%</text>
<rect x="4544" y="948" width="93.5" height="93.5" fill="#505050" stroke="#777" stroke-width="3" rx="2"/>
<text x="4306" y="1018" font-size="64" font-weight="normal" fill="#404040" text-anchor="start" textLength="212" lengthAdjust="spacingAndGlyphs" >≥ +0,5%</text>
<text transform="translate(4552.6,2666.5) rotate(-90)" font-size="43" fill="#a2a2a2" textLength="807" lengthAdjust="spacingAndGlyphs">Quelle: empirica regio (VALUE Marktdaten);</text>
<text transform="translate(4609.8,2666.5) rotate(-90)" font-size="43" fill="#a2a2a2" textLength="628" lengthAdjust="spacingAndGlyphs">Bewirtschaftungsdaten von CBRE</text>
<text transform="translate(4667.6,2666.5) rotate(-90)" font-size="43" fill="#a2a2a2" textLength="845.7" lengthAdjust="spacingAndGlyphs">© GeoBasis-DE / BKG 2024 (Daten verändert)</text>
<text x="4170" y="2820" font-size="118" font-weight="bold" fill="#f15a22" text-anchor="start" textLength="492" lengthAdjust="spacingAndGlyphs" stroke="#f15a22" stroke-width="2">empirica</text>
<text x="4414" y="2920" font-size="106" font-weight="normal" fill="#8c8a8b" text-anchor="start" textLength="251" lengthAdjust="spacingAndGlyphs" >regio</text>
<rect x="4179" y="2903.3" width="46" height="16.7" fill="#a3a1a2"/>
<rect x="4241" y="2861" width="46" height="59" fill="#d0d0d0"/>
<rect x="4304" y="2875" width="45" height="45" fill="#f15a22"/>
</g>
</svg>
</body></html>
